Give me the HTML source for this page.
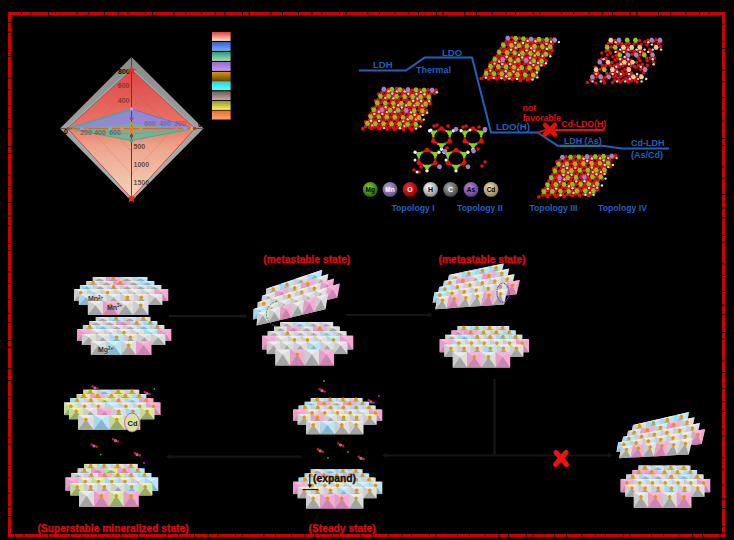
<!DOCTYPE html>
<html><head><meta charset="utf-8"><style>
html,body{margin:0;padding:0;background:#000;width:734px;height:540px;overflow:hidden;font-family:"Liberation Sans",sans-serif;}
svg{display:block}
</style></head><body>
<svg width="734" height="540" viewBox="0 0 734 540"><defs>
<linearGradient id="gRed" x1="0" y1="0" x2="0" y2="1">
 <stop offset="0" stop-color="#e04646"/><stop offset="0.42" stop-color="#e67466"/>
 <stop offset="0.6" stop-color="#eea48c"/><stop offset="1" stop-color="#f4d4bc"/></linearGradient>
<linearGradient id="gGrey" x1="0" y1="0" x2="0" y2="1">
 <stop offset="0" stop-color="#8a8a8a"/><stop offset="1" stop-color="#b4b4b4"/></linearGradient>
<linearGradient id="lg0" x1="0" y1="0" x2="0" y2="1"><stop offset="0" stop-color="#e63e3e"/><stop offset="1" stop-color="#fde4cc"/></linearGradient><linearGradient id="lg1" x1="0" y1="0" x2="0" y2="1"><stop offset="0" stop-color="#2f62d2"/><stop offset="1" stop-color="#80aaf0"/></linearGradient><linearGradient id="lg2" x1="0" y1="0" x2="0" y2="1"><stop offset="0" stop-color="#2f9a6a"/><stop offset="1" stop-color="#a8dcb8"/></linearGradient><linearGradient id="lg3" x1="0" y1="0" x2="0" y2="1"><stop offset="0" stop-color="#9a68d6"/><stop offset="1" stop-color="#c49ae6"/></linearGradient><linearGradient id="lg4" x1="0" y1="0" x2="0" y2="1"><stop offset="0" stop-color="#d09a00"/><stop offset="1" stop-color="#6a4800"/></linearGradient><linearGradient id="lg5" x1="0" y1="0" x2="0" y2="1"><stop offset="0" stop-color="#1cd8d8"/><stop offset="1" stop-color="#66fafa"/></linearGradient><linearGradient id="lg6" x1="0" y1="0" x2="0" y2="1"><stop offset="0" stop-color="#7a5656"/><stop offset="1" stop-color="#c8a8a8"/></linearGradient><linearGradient id="lg7" x1="0" y1="0" x2="0" y2="1"><stop offset="0" stop-color="#9a9a18"/><stop offset="1" stop-color="#f4f46a"/></linearGradient><linearGradient id="lg8" x1="0" y1="0" x2="0" y2="1"><stop offset="0" stop-color="#f06a2a"/><stop offset="1" stop-color="#fca868"/></linearGradient><radialGradient id="bg0" cx="0.4" cy="0.35" r="0.7"><stop offset="0" stop-color="#7ccc2c"/><stop offset="1" stop-color="#2c5a08"/></radialGradient><radialGradient id="bg1" cx="0.4" cy="0.35" r="0.7"><stop offset="0" stop-color="#b0a0d0"/><stop offset="1" stop-color="#5a4a80"/></radialGradient><radialGradient id="bg2" cx="0.4" cy="0.35" r="0.7"><stop offset="0" stop-color="#f03030"/><stop offset="1" stop-color="#800000"/></radialGradient><radialGradient id="bg3" cx="0.4" cy="0.35" r="0.7"><stop offset="0" stop-color="#ffffff"/><stop offset="1" stop-color="#808080"/></radialGradient><radialGradient id="bg4" cx="0.4" cy="0.35" r="0.7"><stop offset="0" stop-color="#a8a8a8"/><stop offset="1" stop-color="#404040"/></radialGradient><radialGradient id="bg5" cx="0.4" cy="0.35" r="0.7"><stop offset="0" stop-color="#b088d8"/><stop offset="1" stop-color="#5a3a80"/></radialGradient><radialGradient id="bg6" cx="0.4" cy="0.35" r="0.7"><stop offset="0" stop-color="#f0dcb0"/><stop offset="1" stop-color="#907850"/></radialGradient></defs><rect x="0" y="0" width="734" height="540" fill="#000"/>
<polygon points="131.5,57 60,128.5 131.5,201 203.5,128.5" fill="url(#gGrey)"/>
<polygon points="131.5,68.2 65.8,128.5 131.5,199.6 196.8,128.5" fill="none" stroke="#78c4c4" stroke-width="1"/>
<polygon points="131.5,70 67.5,128.5 131.5,198 195,128.5" fill="url(#gRed)" stroke="#ec3c3c" stroke-width="1"/>
<polygon points="131.5,109.195 110.545,128.5 131.5,151.435 152.455,128.5" fill="none" stroke="#a04848" stroke-opacity="0.3" stroke-width="0.6"/>
<polygon points="131.5,89.89 89.59,128.5 131.5,174.37 173.41,128.5" fill="none" stroke="#a04848" stroke-opacity="0.3" stroke-width="0.6"/>
<polygon points="131.5,109 68,128.5 131.5,134 194,128.5" fill="#8a8ae2" fill-opacity="0.88" stroke="#5a7ad8" stroke-width="1"/>
<polyline points="68,128.5 131.5,109.5" fill="none" stroke="#38b0a8" stroke-width="1.4"/>
<polygon points="131.5,126 68,128.5 131.5,140.5 194,128.5" fill="#58bc98" fill-opacity="0.7" stroke="#3aa880" stroke-width="0.8"/>
<polygon points="131.5,124 66,128.5 131.5,134 196,128.5" fill="#40d0d0" fill-opacity="0.45"/>
<polygon points="131.5,125 72,128.5 131.5,133 190,128.5" fill="#f08040" fill-opacity="0.45"/>
<line x1="131.5" y1="57" x2="131.5" y2="198" stroke="#6a3434" stroke-width="1"/>
<line x1="60" y1="128.5" x2="203.5" y2="128.5" stroke="#555" stroke-width="1"/>
<line x1="72" y1="128.8" x2="190" y2="128.8" stroke="#e87a30" stroke-width="1.2"/>
<circle cx="131.5" cy="109" r="1.8" fill="#b8a0f0"/>
<circle cx="131.5" cy="118.5" r="1.8" fill="#8a5a5a"/>
<circle cx="131.5" cy="123.5" r="1.8" fill="#90b030"/>
<circle cx="131.5" cy="127.5" r="1.8" fill="#f08030"/>
<circle cx="131.5" cy="131.8" r="1.8" fill="#f08030"/>
<circle cx="131.5" cy="136" r="1.8" fill="#704848"/>
<circle cx="131.5" cy="140.5" r="1.8" fill="#30b070"/>
<circle cx="82" cy="128.5" r="1.8" fill="#b090e0"/>
<circle cx="87" cy="128.5" r="1.8" fill="#f07a30"/>
<circle cx="69" cy="128.5" r="1.8" fill="#30b080"/>
<circle cx="110" cy="128.5" r="1.8" fill="#40d0d0"/>
<circle cx="176" cy="128.5" r="1.8" fill="#f07a30"/>
<circle cx="185" cy="128.5" r="1.8" fill="#b090e0"/>
<circle cx="192" cy="128.5" r="1.8" fill="#e0c020"/>
<circle cx="194.5" cy="128.5" r="1.8" fill="#3070d0"/>
<circle cx="122" cy="128.5" r="1.8" fill="#f09030"/>
<circle cx="141" cy="128.5" r="1.8" fill="#d0a030"/>
<text x="129.8" y="74" font-family="Liberation Sans, sans-serif" font-weight="bold" font-size="7" fill="#000" text-anchor="end">800</text>
<text x="129.5" y="88.3" font-family="Liberation Sans, sans-serif" font-weight="bold" font-size="7" fill="#501818" fill-opacity="0.6" text-anchor="end">600</text>
<text x="129.5" y="102.5" font-family="Liberation Sans, sans-serif" font-weight="bold" font-size="7" fill="#501818" fill-opacity="0.6" text-anchor="end">400</text>
<text x="133.5" y="148.5" font-family="Liberation Sans, sans-serif" font-weight="bold" font-size="7" fill="#000" fill-opacity="0.62">500</text>
<text x="133.5" y="167" font-family="Liberation Sans, sans-serif" font-weight="bold" font-size="7" fill="#000" fill-opacity="0.62">1000</text>
<text x="133.5" y="185" font-family="Liberation Sans, sans-serif" font-weight="bold" font-size="7" fill="#000" fill-opacity="0.62">1500</text>
<text x="86" y="135" font-family="Liberation Sans, sans-serif" font-weight="bold" font-size="7" fill="#3a3030" fill-opacity="0.55" text-anchor="middle">200</text>
<text x="100" y="135" font-family="Liberation Sans, sans-serif" font-weight="bold" font-size="7" fill="#3a3030" fill-opacity="0.55" text-anchor="middle">400</text>
<text x="115" y="135" font-family="Liberation Sans, sans-serif" font-weight="bold" font-size="7" fill="#3a3030" fill-opacity="0.55" text-anchor="middle">600</text>
<text x="150" y="126" font-family="Liberation Sans, sans-serif" font-weight="bold" font-size="7" fill="#4a4a80" fill-opacity="0.5" text-anchor="middle">600</text>
<text x="165" y="126" font-family="Liberation Sans, sans-serif" font-weight="bold" font-size="7" fill="#4a4a80" fill-opacity="0.5" text-anchor="middle">400</text>
<text x="180" y="126" font-family="Liberation Sans, sans-serif" font-weight="bold" font-size="7" fill="#4a4a80" fill-opacity="0.5" text-anchor="middle">200</text>
<text x="66" y="134" font-family="Liberation Sans, sans-serif" font-weight="bold" font-size="7" fill="#000" text-anchor="middle">0</text>
<text x="200" y="127" font-family="Liberation Sans, sans-serif" font-weight="bold" font-size="7" fill="#000" text-anchor="middle">0</text>
<path d="M131.5,65.5 l1.3,3.2 3.4,0.2 -2.6,2.2 0.9,3.3 -3,-1.9 -3,1.9 0.9,-3.3 -2.6,-2.2 3.4,-0.2z" fill="#e82828"/>
<path d="M131.5,193.5 l1.3,3.2 3.4,0.2 -2.6,2.2 0.9,3.3 -3,-1.9 -3,1.9 0.9,-3.3 -2.6,-2.2 3.4,-0.2z" fill="#e82828"/>
<circle cx="68" cy="128.5" r="1.6" fill="#e82828"/><circle cx="195" cy="128.5" r="1.6" fill="#e82828"/>
<rect x="212" y="32" width="18.6" height="8.9" fill="url(#lg0)"/>
<rect x="212" y="42" width="18.6" height="8.9" fill="url(#lg1)"/>
<rect x="212" y="52" width="18.6" height="8.9" fill="url(#lg2)"/>
<rect x="212" y="62" width="18.6" height="8.9" fill="url(#lg3)"/>
<rect x="212" y="72" width="18.6" height="8.9" fill="url(#lg4)"/>
<rect x="212" y="81.2" width="18.6" height="8.9" fill="url(#lg5)"/>
<rect x="212" y="91.2" width="18.6" height="8.9" fill="url(#lg6)"/>
<rect x="212" y="101" width="18.6" height="8.9" fill="url(#lg7)"/>
<rect x="212" y="110.6" width="18.6" height="8.9" fill="url(#lg8)"/>
<polyline points="359,70.5 406,70.5 424.6,57.6 472,57.6 491,132.5 537.5,132.5 557.5,145.7 602,145.7 622,148.6 669,148.6" fill="none" stroke="#2260be" stroke-width="2" stroke-linejoin="round"/>
<polyline points="537.5,132.5 546,130 603,130 604,127.5" fill="none" stroke="#e01010" stroke-width="1.8"/>
<line x1="560" y1="146" x2="600" y2="146" stroke="#2a8a7a" stroke-width="1"/>
<text x="373" y="67.8" font-family="Liberation Sans, sans-serif" font-weight="bold" font-size="9.5" fill="#2260be">LDH</text>
<text x="442" y="55.5" font-family="Liberation Sans, sans-serif" font-weight="bold" font-size="9.5" fill="#2260be">LDO</text>
<text x="416" y="73" font-family="Liberation Sans, sans-serif" font-weight="bold" font-size="9" fill="#2260be">Thermal</text>
<text x="496" y="130" font-family="Liberation Sans, sans-serif" font-weight="bold" font-size="9.7" fill="#2260be">LDO(H)</text>
<text x="564" y="143.6" font-family="Liberation Sans, sans-serif" font-weight="bold" font-size="8.8" fill="#2260be">LDH (As)</text>
<text x="631" y="146" font-family="Liberation Sans, sans-serif" font-weight="bold" font-size="9" fill="#2260be">Cd-LDH</text>
<text x="631" y="158" font-family="Liberation Sans, sans-serif" font-weight="bold" font-size="9" fill="#2260be">(As/Cd)</text>
<text x="522.5" y="111" font-family="Liberation Sans, sans-serif" font-weight="bold" font-size="8.8" fill="#e01010">not</text>
<text x="522.5" y="120.5" font-family="Liberation Sans, sans-serif" font-weight="bold" font-size="8.6" fill="#e01010">favorable</text>
<text x="561.3" y="126.6" font-family="Liberation Sans, sans-serif" font-weight="bold" font-size="8.7" fill="#e01010">Cd-LDO(H)</text>
<path d="M545,125 L555,134.5 M555,125 L545,134.5" stroke="#e41010" stroke-width="4.6" stroke-linecap="round"/>
<circle cx="370.3" cy="189.4" r="7.4" fill="url(#bg0)"/>
<text x="370.3" y="191.8" font-family="Liberation Sans, sans-serif" font-weight="bold" font-size="6.5" fill="#000" text-anchor="middle">Mg</text>
<circle cx="390" cy="189.4" r="7.4" fill="url(#bg1)"/>
<text x="390" y="191.8" font-family="Liberation Sans, sans-serif" font-weight="bold" font-size="6.5" fill="#fff" text-anchor="middle">Mn</text>
<circle cx="410" cy="189.4" r="7.4" fill="url(#bg2)"/>
<text x="410" y="191.8" font-family="Liberation Sans, sans-serif" font-weight="bold" font-size="7" fill="#fff" text-anchor="middle">O</text>
<circle cx="430.6" cy="189.4" r="7.4" fill="url(#bg3)"/>
<text x="430.6" y="191.8" font-family="Liberation Sans, sans-serif" font-weight="bold" font-size="7" fill="#000" text-anchor="middle">H</text>
<circle cx="450.6" cy="189.4" r="7.4" fill="url(#bg4)"/>
<text x="450.6" y="191.8" font-family="Liberation Sans, sans-serif" font-weight="bold" font-size="7" fill="#fff" text-anchor="middle">C</text>
<circle cx="471" cy="189.4" r="7.4" fill="url(#bg5)"/>
<text x="471" y="191.8" font-family="Liberation Sans, sans-serif" font-weight="bold" font-size="6.5" fill="#000" text-anchor="middle">As</text>
<circle cx="491" cy="189.4" r="7.4" fill="url(#bg6)"/>
<text x="491" y="191.8" font-family="Liberation Sans, sans-serif" font-weight="bold" font-size="6.5" fill="#000" text-anchor="middle">Cd</text>
<text x="391.4" y="210.5" font-family="Liberation Sans, sans-serif" font-weight="bold" font-size="8.7" fill="#2260be">Topology I</text>
<text x="457" y="210.5" font-family="Liberation Sans, sans-serif" font-weight="bold" font-size="8.7" fill="#2260be">Topology II</text>
<text x="529.4" y="210.5" font-family="Liberation Sans, sans-serif" font-weight="bold" font-size="8.7" fill="#2260be">Topology III</text>
<text x="598" y="210.5" font-family="Liberation Sans, sans-serif" font-weight="bold" font-size="8.7" fill="#2260be">Topology IV</text>
<circle cx="388.2" cy="89.4" r="1.85" fill="#e01010"/><circle cx="382.1" cy="92.4" r="1.85" fill="#e01010"/><circle cx="386.5" cy="92" r="1.85" fill="#e01010"/><circle cx="385.4" cy="90.7" r="1.85" fill="#e01010"/><circle cx="378.7" cy="94" r="1.85" fill="#e01010"/><circle cx="396.4" cy="88.7" r="1.85" fill="#e01010"/><circle cx="390.3" cy="93.1" r="1.85" fill="#e01010"/><circle cx="393.9" cy="92.6" r="1.85" fill="#e01010"/><circle cx="392.7" cy="90.9" r="1.85" fill="#e01010"/><circle cx="387" cy="94" r="1.85" fill="#e01010"/><circle cx="403.4" cy="89.8" r="1.85" fill="#e01010"/><circle cx="398.4" cy="92.4" r="1.85" fill="#e01010"/><circle cx="402.7" cy="92.4" r="1.85" fill="#e01010"/><circle cx="401.4" cy="91.4" r="1.85" fill="#e01010"/><circle cx="395.3" cy="94.8" r="1.85" fill="#e01010"/><circle cx="412.4" cy="90" r="1.85" fill="#e01010"/><circle cx="406.4" cy="92.4" r="1.85" fill="#e01010"/><circle cx="410.7" cy="92.9" r="1.85" fill="#e01010"/><circle cx="409.2" cy="91.5" r="1.85" fill="#e01010"/><circle cx="403.3" cy="94.5" r="1.85" fill="#e01010"/><circle cx="419.9" cy="89.8" r="1.85" fill="#e01010"/><circle cx="413.8" cy="93.4" r="1.85" fill="#e01010"/><circle cx="418.5" cy="93.1" r="1.85" fill="#e01010"/><circle cx="417.2" cy="92" r="1.85" fill="#e01010"/><circle cx="411.6" cy="95.2" r="1.85" fill="#e01010"/><circle cx="428.2" cy="89.9" r="1.85" fill="#e01010"/><circle cx="422.5" cy="93.8" r="1.85" fill="#e01010"/><circle cx="426.8" cy="93.8" r="1.85" fill="#e01010"/><circle cx="425.6" cy="92" r="1.85" fill="#e01010"/><circle cx="419.7" cy="94.9" r="1.85" fill="#e01010"/><circle cx="436.2" cy="90.1" r="1.85" fill="#e01010"/><circle cx="430.3" cy="93.5" r="1.85" fill="#e01010"/><circle cx="434.5" cy="93" r="1.85" fill="#e01010"/><circle cx="432.9" cy="91.9" r="1.85" fill="#e01010"/><circle cx="428" cy="95.5" r="1.85" fill="#e01010"/><circle cx="384.7" cy="95.4" r="1.85" fill="#e01010"/><circle cx="378.3" cy="99.6" r="1.85" fill="#e01010"/><circle cx="382.4" cy="99.5" r="1.85" fill="#e01010"/><circle cx="381.2" cy="97.2" r="1.85" fill="#e01010"/><circle cx="375.6" cy="100.7" r="1.85" fill="#e01010"/><circle cx="392.6" cy="95.5" r="1.85" fill="#e01010"/><circle cx="386.8" cy="99.1" r="1.85" fill="#e01010"/><circle cx="391.4" cy="99.6" r="1.85" fill="#e01010"/><circle cx="389.9" cy="98.2" r="1.85" fill="#e01010"/><circle cx="383.5" cy="100.7" r="1.85" fill="#e01010"/><circle cx="400.9" cy="96.3" r="1.85" fill="#e01010"/><circle cx="395.5" cy="100" r="1.85" fill="#e01010"/><circle cx="398.7" cy="99.9" r="1.85" fill="#e01010"/><circle cx="397.9" cy="97.7" r="1.85" fill="#e01010"/><circle cx="391.6" cy="101.1" r="1.85" fill="#e01010"/><circle cx="409.1" cy="96.2" r="1.85" fill="#e01010"/><circle cx="403.3" cy="99.7" r="1.85" fill="#e01010"/><circle cx="406.5" cy="100.3" r="1.85" fill="#e01010"/><circle cx="406.3" cy="98.7" r="1.85" fill="#e01010"/><circle cx="399.8" cy="101.9" r="1.85" fill="#e01010"/><circle cx="416.6" cy="96.4" r="1.85" fill="#e01010"/><circle cx="411.3" cy="99.9" r="1.85" fill="#e01010"/><circle cx="414.6" cy="100.3" r="1.85" fill="#e01010"/><circle cx="413.9" cy="98.1" r="1.85" fill="#e01010"/><circle cx="408.7" cy="101.1" r="1.85" fill="#e01010"/><circle cx="425.2" cy="96.6" r="1.85" fill="#e01010"/><circle cx="419.4" cy="100.5" r="1.85" fill="#e01010"/><circle cx="423" cy="100.7" r="1.85" fill="#e01010"/><circle cx="422" cy="99.1" r="1.85" fill="#e01010"/><circle cx="416.6" cy="101.3" r="1.85" fill="#e01010"/><circle cx="427.3" cy="100.7" r="1.85" fill="#e01010"/><circle cx="429.8" cy="99.1" r="1.85" fill="#e01010"/><circle cx="424.9" cy="102.4" r="1.85" fill="#e01010"/><circle cx="380.7" cy="102.3" r="1.85" fill="#e01010"/><circle cx="375.9" cy="106.5" r="1.85" fill="#e01010"/><circle cx="379.7" cy="106.6" r="1.85" fill="#e01010"/><circle cx="378.5" cy="104.1" r="1.85" fill="#e01010"/><circle cx="372.5" cy="108.3" r="1.85" fill="#e01010"/><circle cx="389" cy="103.3" r="1.85" fill="#e01010"/><circle cx="383.1" cy="106.5" r="1.85" fill="#e01010"/><circle cx="387.2" cy="106.9" r="1.85" fill="#e01010"/><circle cx="386.2" cy="105.2" r="1.85" fill="#e01010"/><circle cx="380.3" cy="107.6" r="1.85" fill="#e01010"/><circle cx="397.9" cy="103" r="1.85" fill="#e01010"/><circle cx="392.2" cy="106.2" r="1.85" fill="#e01010"/><circle cx="395.7" cy="106.1" r="1.85" fill="#e01010"/><circle cx="394" cy="104.2" r="1.85" fill="#e01010"/><circle cx="388.6" cy="108.3" r="1.85" fill="#e01010"/><circle cx="405.9" cy="103.9" r="1.85" fill="#e01010"/><circle cx="399.3" cy="106.3" r="1.85" fill="#e01010"/><circle cx="404.4" cy="106.8" r="1.85" fill="#e01010"/><circle cx="402.8" cy="104.7" r="1.85" fill="#e01010"/><circle cx="396.7" cy="108" r="1.85" fill="#e01010"/><circle cx="413.4" cy="103.7" r="1.85" fill="#e01010"/><circle cx="408.3" cy="106.7" r="1.85" fill="#e01010"/><circle cx="411.6" cy="106.7" r="1.85" fill="#e01010"/><circle cx="411.1" cy="104.9" r="1.85" fill="#e01010"/><circle cx="405" cy="108.6" r="1.85" fill="#e01010"/><circle cx="421.2" cy="103.1" r="1.85" fill="#e01010"/><circle cx="415.3" cy="106.5" r="1.85" fill="#e01010"/><circle cx="419.6" cy="107.4" r="1.85" fill="#e01010"/><circle cx="419.1" cy="104.9" r="1.85" fill="#e01010"/><circle cx="413.4" cy="108.2" r="1.85" fill="#e01010"/><circle cx="430" cy="103.6" r="1.85" fill="#e01010"/><circle cx="423.9" cy="107.7" r="1.85" fill="#e01010"/><circle cx="426.3" cy="106" r="1.85" fill="#e01010"/><circle cx="420.9" cy="109.3" r="1.85" fill="#e01010"/><circle cx="378.3" cy="109.9" r="1.85" fill="#e01010"/><circle cx="372.2" cy="112.6" r="1.85" fill="#e01010"/><circle cx="376.5" cy="112.8" r="1.85" fill="#e01010"/><circle cx="375.7" cy="111.7" r="1.85" fill="#e01010"/><circle cx="369.5" cy="115.1" r="1.85" fill="#e01010"/><circle cx="385.7" cy="109.2" r="1.85" fill="#e01010"/><circle cx="380.3" cy="113.2" r="1.85" fill="#e01010"/><circle cx="384.2" cy="112.8" r="1.85" fill="#e01010"/><circle cx="382.9" cy="111.9" r="1.85" fill="#e01010"/><circle cx="377.4" cy="115" r="1.85" fill="#e01010"/><circle cx="394.1" cy="110.2" r="1.85" fill="#e01010"/><circle cx="388.6" cy="113.6" r="1.85" fill="#e01010"/><circle cx="392.4" cy="113.4" r="1.85" fill="#e01010"/><circle cx="391.1" cy="111.7" r="1.85" fill="#e01010"/><circle cx="386.1" cy="114.7" r="1.85" fill="#e01010"/><circle cx="402.2" cy="110.6" r="1.85" fill="#e01010"/><circle cx="396.8" cy="114" r="1.85" fill="#e01010"/><circle cx="400.7" cy="114" r="1.85" fill="#e01010"/><circle cx="399.5" cy="112.1" r="1.85" fill="#e01010"/><circle cx="394.1" cy="115.6" r="1.85" fill="#e01010"/><circle cx="409.9" cy="110" r="1.85" fill="#e01010"/><circle cx="404.8" cy="113.1" r="1.85" fill="#e01010"/><circle cx="408.8" cy="113.6" r="1.85" fill="#e01010"/><circle cx="407" cy="112.3" r="1.85" fill="#e01010"/><circle cx="402.3" cy="115.7" r="1.85" fill="#e01010"/><circle cx="418.8" cy="110.1" r="1.85" fill="#e01010"/><circle cx="413" cy="114" r="1.85" fill="#e01010"/><circle cx="416.5" cy="114.4" r="1.85" fill="#e01010"/><circle cx="415.3" cy="112.5" r="1.85" fill="#e01010"/><circle cx="409.3" cy="115.3" r="1.85" fill="#e01010"/><circle cx="426.4" cy="110.6" r="1.85" fill="#e01010"/><circle cx="420.4" cy="113.7" r="1.85" fill="#e01010"/><circle cx="424.3" cy="114" r="1.85" fill="#e01010"/><circle cx="423.6" cy="112.5" r="1.85" fill="#e01010"/><circle cx="417.5" cy="115.4" r="1.85" fill="#e01010"/><circle cx="374.4" cy="116.7" r="1.85" fill="#e01010"/><circle cx="369.4" cy="120.4" r="1.85" fill="#e01010"/><circle cx="373" cy="120.3" r="1.85" fill="#e01010"/><circle cx="371.9" cy="118" r="1.85" fill="#e01010"/><circle cx="365.7" cy="121.9" r="1.85" fill="#e01010"/><circle cx="383.3" cy="117" r="1.85" fill="#e01010"/><circle cx="376.6" cy="120" r="1.85" fill="#e01010"/><circle cx="380.9" cy="120.1" r="1.85" fill="#e01010"/><circle cx="379.9" cy="117.7" r="1.85" fill="#e01010"/><circle cx="374.2" cy="121.4" r="1.85" fill="#e01010"/><circle cx="390.8" cy="117" r="1.85" fill="#e01010"/><circle cx="384.8" cy="119.6" r="1.85" fill="#e01010"/><circle cx="389.3" cy="120.7" r="1.85" fill="#e01010"/><circle cx="388" cy="119.1" r="1.85" fill="#e01010"/><circle cx="382.7" cy="121.7" r="1.85" fill="#e01010"/><circle cx="398.5" cy="117.2" r="1.85" fill="#e01010"/><circle cx="393" cy="119.8" r="1.85" fill="#e01010"/><circle cx="397.1" cy="120.3" r="1.85" fill="#e01010"/><circle cx="396.1" cy="119" r="1.85" fill="#e01010"/><circle cx="390.6" cy="122" r="1.85" fill="#e01010"/><circle cx="407.1" cy="117.1" r="1.85" fill="#e01010"/><circle cx="401.4" cy="121" r="1.85" fill="#e01010"/><circle cx="405.7" cy="120.9" r="1.85" fill="#e01010"/><circle cx="404.2" cy="118.7" r="1.85" fill="#e01010"/><circle cx="398.7" cy="122.6" r="1.85" fill="#e01010"/><circle cx="414.9" cy="117.3" r="1.85" fill="#e01010"/><circle cx="409.3" cy="121" r="1.85" fill="#e01010"/><circle cx="413.2" cy="121" r="1.85" fill="#e01010"/><circle cx="412.1" cy="119.6" r="1.85" fill="#e01010"/><circle cx="406.3" cy="122.6" r="1.85" fill="#e01010"/><circle cx="417.1" cy="120.4" r="1.85" fill="#e01010"/><circle cx="421.2" cy="121" r="1.85" fill="#e01010"/><circle cx="419.8" cy="119.4" r="1.85" fill="#e01010"/><circle cx="414.9" cy="122.3" r="1.85" fill="#e01010"/><circle cx="371" cy="123.7" r="1.85" fill="#e01010"/><circle cx="365.5" cy="126.4" r="1.85" fill="#e01010"/><circle cx="370" cy="127.2" r="1.85" fill="#e01010"/><circle cx="369" cy="125.2" r="1.85" fill="#e01010"/><circle cx="362.8" cy="128.7" r="1.85" fill="#e01010"/><circle cx="379.1" cy="124.1" r="1.85" fill="#e01010"/><circle cx="374.3" cy="127.1" r="1.85" fill="#e01010"/><circle cx="377.5" cy="127" r="1.85" fill="#e01010"/><circle cx="376.2" cy="125.4" r="1.85" fill="#e01010"/><circle cx="371.3" cy="128.2" r="1.85" fill="#e01010"/><circle cx="387" cy="123.6" r="1.85" fill="#e01010"/><circle cx="381.4" cy="126.7" r="1.85" fill="#e01010"/><circle cx="386" cy="127.6" r="1.85" fill="#e01010"/><circle cx="384.1" cy="125.6" r="1.85" fill="#e01010"/><circle cx="379.6" cy="128.8" r="1.85" fill="#e01010"/><circle cx="395.8" cy="123.4" r="1.85" fill="#e01010"/><circle cx="389.9" cy="127.1" r="1.85" fill="#e01010"/><circle cx="393.6" cy="127.7" r="1.85" fill="#e01010"/><circle cx="392.8" cy="125.2" r="1.85" fill="#e01010"/><circle cx="386.9" cy="129" r="1.85" fill="#e01010"/><circle cx="404" cy="124.5" r="1.85" fill="#e01010"/><circle cx="397.8" cy="127.5" r="1.85" fill="#e01010"/><circle cx="401.9" cy="127.9" r="1.85" fill="#e01010"/><circle cx="400.4" cy="126.2" r="1.85" fill="#e01010"/><circle cx="394.7" cy="129.2" r="1.85" fill="#e01010"/><circle cx="411.6" cy="124.6" r="1.85" fill="#e01010"/><circle cx="405.5" cy="127" r="1.85" fill="#e01010"/><circle cx="409.5" cy="127.4" r="1.85" fill="#e01010"/><circle cx="408.4" cy="125.3" r="1.85" fill="#e01010"/><circle cx="403.5" cy="129.4" r="1.85" fill="#e01010"/><circle cx="414.6" cy="127.9" r="1.85" fill="#e01010"/><circle cx="417.4" cy="126.2" r="1.85" fill="#e01010"/><circle cx="411.4" cy="129.5" r="1.85" fill="#e01010"/><circle cx="388.6" cy="91.2" r="1.2" fill="#e8e4e4"/><circle cx="392.2" cy="93.5" r="1.2" fill="#e8e4e4"/><circle cx="396.7" cy="91.4" r="1.2" fill="#e8e4e4"/><circle cx="404.7" cy="91.5" r="1.2" fill="#e8e4e4"/><circle cx="408.3" cy="93.8" r="1.2" fill="#e8e4e4"/><circle cx="416.4" cy="94" r="1.2" fill="#e8e4e4"/><circle cx="420.8" cy="91.9" r="1.2" fill="#e8e4e4"/><circle cx="424.5" cy="94.2" r="1.2" fill="#e8e4e4"/><circle cx="436.9" cy="92.2" r="1.2" fill="#e8e4e4"/><circle cx="385.3" cy="98" r="1.2" fill="#e8e4e4"/><circle cx="393.4" cy="98.2" r="1.2" fill="#e8e4e4"/><circle cx="413.1" cy="100.8" r="1.2" fill="#e8e4e4"/><circle cx="417.5" cy="98.7" r="1.2" fill="#e8e4e4"/><circle cx="421.2" cy="101" r="1.2" fill="#e8e4e4"/><circle cx="429.2" cy="101.2" r="1.2" fill="#e8e4e4"/><circle cx="385.7" cy="107.2" r="1.2" fill="#e8e4e4"/><circle cx="393.7" cy="107.4" r="1.2" fill="#e8e4e4"/><circle cx="398.2" cy="105.2" r="1.2" fill="#e8e4e4"/><circle cx="401.8" cy="107.5" r="1.2" fill="#e8e4e4"/><circle cx="406.2" cy="105.4" r="1.2" fill="#e8e4e4"/><circle cx="414.3" cy="105.6" r="1.2" fill="#e8e4e4"/><circle cx="422.3" cy="105.7" r="1.2" fill="#e8e4e4"/><circle cx="374.3" cy="113.9" r="1.2" fill="#e8e4e4"/><circle cx="378.8" cy="111.7" r="1.2" fill="#e8e4e4"/><circle cx="382.4" cy="114" r="1.2" fill="#e8e4e4"/><circle cx="386.8" cy="111.9" r="1.2" fill="#e8e4e4"/><circle cx="394.9" cy="112.1" r="1.2" fill="#e8e4e4"/><circle cx="411" cy="112.4" r="1.2" fill="#e8e4e4"/><circle cx="414.6" cy="114.7" r="1.2" fill="#e8e4e4"/><circle cx="422.7" cy="114.9" r="1.2" fill="#e8e4e4"/><circle cx="427.1" cy="112.8" r="1.2" fill="#e8e4e4"/><circle cx="371" cy="120.7" r="1.2" fill="#e8e4e4"/><circle cx="379.1" cy="120.9" r="1.2" fill="#e8e4e4"/><circle cx="403.3" cy="121.4" r="1.2" fill="#e8e4e4"/><circle cx="407.7" cy="119.3" r="1.2" fill="#e8e4e4"/><circle cx="415.8" cy="119.4" r="1.2" fill="#e8e4e4"/><circle cx="423.8" cy="119.6" r="1.2" fill="#e8e4e4"/><circle cx="372.2" cy="125.4" r="1.2" fill="#e8e4e4"/><circle cx="383.9" cy="127.9" r="1.2" fill="#e8e4e4"/><circle cx="400" cy="128.2" r="1.2" fill="#e8e4e4"/><circle cx="404.4" cy="126.1" r="1.2" fill="#e8e4e4"/><circle cx="416.1" cy="128.6" r="1.2" fill="#e8e4e4"/><circle cx="420.5" cy="126.5" r="1.2" fill="#e8e4e4"/><path d="M381.2,89.2 l1.3,-2.4 2.6,0 1.3,2.4 -1.3,2.3 -2.6,0z" fill="#9a86c0"/><path d="M389.2,89.4 l1.3,-2.4 2.6,0 1.3,2.4 -1.3,2.3 -2.6,0z" fill="#80c81e"/><path d="M397.3,89.6 l1.3,-2.4 2.6,0 1.3,2.4 -1.3,2.3 -2.6,0z" fill="#80c81e"/><path d="M405.4,89.7 l1.3,-2.4 2.6,0 1.3,2.4 -1.3,2.3 -2.6,0z" fill="#9a86c0"/><path d="M413.4,89.9 l1.3,-2.4 2.6,0 1.3,2.4 -1.3,2.3 -2.6,0z" fill="#80c81e"/><path d="M421.5,90.1 l1.3,-2.4 2.6,0 1.3,2.4 -1.3,2.3 -2.6,0z" fill="#80c81e"/><path d="M429.5,90.2 l1.3,-2.4 2.6,0 1.3,2.4 -1.3,2.3 -2.6,0z" fill="#9a86c0"/><path d="M377.9,96.1 l1.3,-2.4 2.6,0 1.3,2.4 -1.3,2.3 -2.6,0z" fill="#80c81e"/><path d="M386,96.2 l1.3,-2.4 2.6,0 1.3,2.4 -1.3,2.3 -2.6,0z" fill="#80c81e"/><path d="M394,96.4 l1.3,-2.4 2.6,0 1.3,2.4 -1.3,2.3 -2.6,0z" fill="#80c81e"/><path d="M402.1,96.6 l1.3,-2.4 2.6,0 1.3,2.4 -1.3,2.3 -2.6,0z" fill="#80c81e"/><path d="M410.1,96.7 l1.3,-2.4 2.6,0 1.3,2.4 -1.3,2.3 -2.6,0z" fill="#80c81e"/><path d="M418.2,96.9 l1.3,-2.4 2.6,0 1.3,2.4 -1.3,2.3 -2.6,0z" fill="#80c81e"/><path d="M426.2,97.1 l1.3,-2.4 2.6,0 1.3,2.4 -1.3,2.3 -2.6,0z" fill="#80c81e"/><path d="M374.6,102.9 l1.3,-2.4 2.6,0 1.3,2.4 -1.3,2.3 -2.6,0z" fill="#80c81e"/><path d="M382.7,103.1 l1.3,-2.4 2.6,0 1.3,2.4 -1.3,2.3 -2.6,0z" fill="#80c81e"/><path d="M390.7,103.3 l1.3,-2.4 2.6,0 1.3,2.4 -1.3,2.3 -2.6,0z" fill="#80c81e"/><path d="M398.8,103.4 l1.3,-2.4 2.6,0 1.3,2.4 -1.3,2.3 -2.6,0z" fill="#80c81e"/><path d="M406.8,103.6 l1.3,-2.4 2.6,0 1.3,2.4 -1.3,2.3 -2.6,0z" fill="#80c81e"/><path d="M414.9,103.8 l1.3,-2.4 2.6,0 1.3,2.4 -1.3,2.3 -2.6,0z" fill="#80c81e"/><path d="M423,103.9 l1.3,-2.4 2.6,0 1.3,2.4 -1.3,2.3 -2.6,0z" fill="#80c81e"/><path d="M371.3,109.8 l1.3,-2.4 2.6,0 1.3,2.4 -1.3,2.3 -2.6,0z" fill="#80c81e"/><path d="M379.4,109.9 l1.3,-2.4 2.6,0 1.3,2.4 -1.3,2.3 -2.6,0z" fill="#9a86c0"/><path d="M387.5,110.1 l1.3,-2.4 2.6,0 1.3,2.4 -1.3,2.3 -2.6,0z" fill="#80c81e"/><path d="M395.5,110.3 l1.3,-2.4 2.6,0 1.3,2.4 -1.3,2.3 -2.6,0z" fill="#80c81e"/><path d="M403.6,110.4 l1.3,-2.4 2.6,0 1.3,2.4 -1.3,2.3 -2.6,0z" fill="#9a86c0"/><path d="M411.6,110.6 l1.3,-2.4 2.6,0 1.3,2.4 -1.3,2.3 -2.6,0z" fill="#80c81e"/><path d="M419.7,110.8 l1.3,-2.4 2.6,0 1.3,2.4 -1.3,2.3 -2.6,0z" fill="#80c81e"/><path d="M368.1,116.6 l1.3,-2.4 2.6,0 1.3,2.4 -1.3,2.3 -2.6,0z" fill="#80c81e"/><path d="M376.1,116.8 l1.3,-2.4 2.6,0 1.3,2.4 -1.3,2.3 -2.6,0z" fill="#80c81e"/><path d="M384.2,117 l1.3,-2.4 2.6,0 1.3,2.4 -1.3,2.3 -2.6,0z" fill="#80c81e"/><path d="M392.2,117.1 l1.3,-2.4 2.6,0 1.3,2.4 -1.3,2.3 -2.6,0z" fill="#80c81e"/><path d="M400.3,117.3 l1.3,-2.4 2.6,0 1.3,2.4 -1.3,2.3 -2.6,0z" fill="#80c81e"/><path d="M408.3,117.5 l1.3,-2.4 2.6,0 1.3,2.4 -1.3,2.3 -2.6,0z" fill="#80c81e"/><path d="M416.4,117.6 l1.3,-2.4 2.6,0 1.3,2.4 -1.3,2.3 -2.6,0z" fill="#80c81e"/><path d="M364.8,123.5 l1.3,-2.4 2.6,0 1.3,2.4 -1.3,2.3 -2.6,0z" fill="#80c81e"/><path d="M372.8,123.6 l1.3,-2.4 2.6,0 1.3,2.4 -1.3,2.3 -2.6,0z" fill="#80c81e"/><path d="M380.9,123.8 l1.3,-2.4 2.6,0 1.3,2.4 -1.3,2.3 -2.6,0z" fill="#80c81e"/><path d="M388.9,124 l1.3,-2.4 2.6,0 1.3,2.4 -1.3,2.3 -2.6,0z" fill="#80c81e"/><path d="M397,124.1 l1.3,-2.4 2.6,0 1.3,2.4 -1.3,2.3 -2.6,0z" fill="#80c81e"/><path d="M405.1,124.3 l1.3,-2.4 2.6,0 1.3,2.4 -1.3,2.3 -2.6,0z" fill="#80c81e"/><path d="M413.1,124.5 l1.3,-2.4 2.6,0 1.3,2.4 -1.3,2.3 -2.6,0z" fill="#80c81e"/>
<circle cx="512.2" cy="37.6" r="1.85" fill="#e01010"/><circle cx="506" cy="41.8" r="1.85" fill="#e01010"/><circle cx="509.3" cy="41.8" r="1.85" fill="#e01010"/><circle cx="508.7" cy="39.4" r="1.85" fill="#e01010"/><circle cx="502.4" cy="43.5" r="1.85" fill="#e01010"/><circle cx="519.4" cy="38.1" r="1.85" fill="#e01010"/><circle cx="512.8" cy="41.8" r="1.85" fill="#e01010"/><circle cx="517.2" cy="42.4" r="1.85" fill="#e01010"/><circle cx="516.5" cy="39.8" r="1.85" fill="#e01010"/><circle cx="510.2" cy="43.1" r="1.85" fill="#e01010"/><circle cx="526.9" cy="39.2" r="1.85" fill="#e01010"/><circle cx="521.5" cy="42.6" r="1.85" fill="#e01010"/><circle cx="525.4" cy="42.1" r="1.85" fill="#e01010"/><circle cx="524.8" cy="40" r="1.85" fill="#e01010"/><circle cx="518.4" cy="43.7" r="1.85" fill="#e01010"/><circle cx="535.1" cy="39.4" r="1.85" fill="#e01010"/><circle cx="529.5" cy="42.9" r="1.85" fill="#e01010"/><circle cx="533" cy="43.1" r="1.85" fill="#e01010"/><circle cx="532" cy="40.4" r="1.85" fill="#e01010"/><circle cx="526.2" cy="43.7" r="1.85" fill="#e01010"/><circle cx="542.6" cy="39.9" r="1.85" fill="#e01010"/><circle cx="536.8" cy="42.7" r="1.85" fill="#e01010"/><circle cx="540.8" cy="42.6" r="1.85" fill="#e01010"/><circle cx="539.8" cy="41.5" r="1.85" fill="#e01010"/><circle cx="533.3" cy="44.8" r="1.85" fill="#e01010"/><circle cx="550.9" cy="39.1" r="1.85" fill="#e01010"/><circle cx="544.3" cy="42.7" r="1.85" fill="#e01010"/><circle cx="548" cy="43.2" r="1.85" fill="#e01010"/><circle cx="547.3" cy="41" r="1.85" fill="#e01010"/><circle cx="541.5" cy="44.9" r="1.85" fill="#e01010"/><circle cx="551.9" cy="43.8" r="1.85" fill="#e01010"/><circle cx="554.9" cy="41.3" r="1.85" fill="#e01010"/><circle cx="549" cy="44.6" r="1.85" fill="#e01010"/><circle cx="507.9" cy="44.8" r="1.85" fill="#e01010"/><circle cx="501.1" cy="48.7" r="1.85" fill="#e01010"/><circle cx="504.7" cy="48.5" r="1.85" fill="#e01010"/><circle cx="504.3" cy="47.2" r="1.85" fill="#e01010"/><circle cx="498.8" cy="50.5" r="1.85" fill="#e01010"/><circle cx="514.8" cy="45.7" r="1.85" fill="#e01010"/><circle cx="508.6" cy="48.8" r="1.85" fill="#e01010"/><circle cx="512.6" cy="49.1" r="1.85" fill="#e01010"/><circle cx="512.1" cy="46.7" r="1.85" fill="#e01010"/><circle cx="505.8" cy="50.7" r="1.85" fill="#e01010"/><circle cx="522.5" cy="45.2" r="1.85" fill="#e01010"/><circle cx="516.5" cy="48.7" r="1.85" fill="#e01010"/><circle cx="520.8" cy="49.9" r="1.85" fill="#e01010"/><circle cx="520.5" cy="47.1" r="1.85" fill="#e01010"/><circle cx="513.6" cy="50.9" r="1.85" fill="#e01010"/><circle cx="530.5" cy="46" r="1.85" fill="#e01010"/><circle cx="524.1" cy="48.9" r="1.85" fill="#e01010"/><circle cx="528.1" cy="49.9" r="1.85" fill="#e01010"/><circle cx="527.2" cy="47.4" r="1.85" fill="#e01010"/><circle cx="521.3" cy="51.2" r="1.85" fill="#e01010"/><circle cx="538.2" cy="46.9" r="1.85" fill="#e01010"/><circle cx="532.8" cy="49.7" r="1.85" fill="#e01010"/><circle cx="536.5" cy="49.4" r="1.85" fill="#e01010"/><circle cx="535.6" cy="47.7" r="1.85" fill="#e01010"/><circle cx="529.8" cy="51.3" r="1.85" fill="#e01010"/><circle cx="546.1" cy="47.3" r="1.85" fill="#e01010"/><circle cx="539.7" cy="50.3" r="1.85" fill="#e01010"/><circle cx="544" cy="50.6" r="1.85" fill="#e01010"/><circle cx="542.7" cy="48.3" r="1.85" fill="#e01010"/><circle cx="537.3" cy="51.4" r="1.85" fill="#e01010"/><circle cx="548.6" cy="49.8" r="1.85" fill="#e01010"/><circle cx="552.1" cy="50.4" r="1.85" fill="#e01010"/><circle cx="551.4" cy="48.5" r="1.85" fill="#e01010"/><circle cx="544.6" cy="51.5" r="1.85" fill="#e01010"/><circle cx="503.3" cy="51.7" r="1.85" fill="#e01010"/><circle cx="497.3" cy="55.9" r="1.85" fill="#e01010"/><circle cx="500.7" cy="55.7" r="1.85" fill="#e01010"/><circle cx="499.7" cy="53.9" r="1.85" fill="#e01010"/><circle cx="494.5" cy="57.7" r="1.85" fill="#e01010"/><circle cx="510.5" cy="52.5" r="1.85" fill="#e01010"/><circle cx="504.7" cy="56.1" r="1.85" fill="#e01010"/><circle cx="508.8" cy="56.4" r="1.85" fill="#e01010"/><circle cx="507.7" cy="54.8" r="1.85" fill="#e01010"/><circle cx="501.7" cy="57.1" r="1.85" fill="#e01010"/><circle cx="518.8" cy="52.4" r="1.85" fill="#e01010"/><circle cx="512.3" cy="56.4" r="1.85" fill="#e01010"/><circle cx="516.4" cy="56.4" r="1.85" fill="#e01010"/><circle cx="515.7" cy="55.1" r="1.85" fill="#e01010"/><circle cx="509.1" cy="57.9" r="1.85" fill="#e01010"/><circle cx="526.4" cy="53.4" r="1.85" fill="#e01010"/><circle cx="521" cy="56.8" r="1.85" fill="#e01010"/><circle cx="523.9" cy="56.6" r="1.85" fill="#e01010"/><circle cx="523.5" cy="55.3" r="1.85" fill="#e01010"/><circle cx="517.4" cy="58.2" r="1.85" fill="#e01010"/><circle cx="534.5" cy="53.4" r="1.85" fill="#e01010"/><circle cx="528" cy="57.1" r="1.85" fill="#e01010"/><circle cx="532.4" cy="57.4" r="1.85" fill="#e01010"/><circle cx="531.4" cy="55" r="1.85" fill="#e01010"/><circle cx="525.7" cy="58.6" r="1.85" fill="#e01010"/><circle cx="542.5" cy="53.9" r="1.85" fill="#e01010"/><circle cx="535.4" cy="57.6" r="1.85" fill="#e01010"/><circle cx="540" cy="57.7" r="1.85" fill="#e01010"/><circle cx="538.5" cy="55.8" r="1.85" fill="#e01010"/><circle cx="532.6" cy="59.1" r="1.85" fill="#e01010"/><circle cx="550" cy="53.9" r="1.85" fill="#e01010"/><circle cx="543.9" cy="57.4" r="1.85" fill="#e01010"/><circle cx="546.3" cy="55.1" r="1.85" fill="#e01010"/><circle cx="541.2" cy="59.3" r="1.85" fill="#e01010"/><circle cx="498.6" cy="59" r="1.85" fill="#e01010"/><circle cx="492.1" cy="62.1" r="1.85" fill="#e01010"/><circle cx="496.2" cy="63.1" r="1.85" fill="#e01010"/><circle cx="495.6" cy="61.2" r="1.85" fill="#e01010"/><circle cx="490.1" cy="63.9" r="1.85" fill="#e01010"/><circle cx="506.3" cy="59" r="1.85" fill="#e01010"/><circle cx="501.1" cy="62.8" r="1.85" fill="#e01010"/><circle cx="504.3" cy="63" r="1.85" fill="#e01010"/><circle cx="503.3" cy="61.4" r="1.85" fill="#e01010"/><circle cx="497.5" cy="65.1" r="1.85" fill="#e01010"/><circle cx="514.5" cy="60.2" r="1.85" fill="#e01010"/><circle cx="508.2" cy="63.7" r="1.85" fill="#e01010"/><circle cx="512.4" cy="63.3" r="1.85" fill="#e01010"/><circle cx="511.7" cy="61.9" r="1.85" fill="#e01010"/><circle cx="505" cy="64.6" r="1.85" fill="#e01010"/><circle cx="522.7" cy="59.7" r="1.85" fill="#e01010"/><circle cx="516" cy="63.4" r="1.85" fill="#e01010"/><circle cx="519.5" cy="63.6" r="1.85" fill="#e01010"/><circle cx="519.1" cy="61.6" r="1.85" fill="#e01010"/><circle cx="513.6" cy="65.2" r="1.85" fill="#e01010"/><circle cx="529.5" cy="60.2" r="1.85" fill="#e01010"/><circle cx="524.1" cy="63.7" r="1.85" fill="#e01010"/><circle cx="528.2" cy="63.7" r="1.85" fill="#e01010"/><circle cx="527.1" cy="62" r="1.85" fill="#e01010"/><circle cx="520.7" cy="66" r="1.85" fill="#e01010"/><circle cx="538.3" cy="61.1" r="1.85" fill="#e01010"/><circle cx="532.1" cy="64.7" r="1.85" fill="#e01010"/><circle cx="536.2" cy="64" r="1.85" fill="#e01010"/><circle cx="534.9" cy="62.3" r="1.85" fill="#e01010"/><circle cx="528.3" cy="66.4" r="1.85" fill="#e01010"/><circle cx="546.1" cy="60.6" r="1.85" fill="#e01010"/><circle cx="539.3" cy="64.3" r="1.85" fill="#e01010"/><circle cx="543.7" cy="64.5" r="1.85" fill="#e01010"/><circle cx="542.2" cy="63.2" r="1.85" fill="#e01010"/><circle cx="536.2" cy="66.3" r="1.85" fill="#e01010"/><circle cx="494" cy="65.9" r="1.85" fill="#e01010"/><circle cx="488.1" cy="69.6" r="1.85" fill="#e01010"/><circle cx="492.1" cy="69.5" r="1.85" fill="#e01010"/><circle cx="491.6" cy="67.8" r="1.85" fill="#e01010"/><circle cx="485.7" cy="70.9" r="1.85" fill="#e01010"/><circle cx="502.6" cy="66.2" r="1.85" fill="#e01010"/><circle cx="496.6" cy="69.8" r="1.85" fill="#e01010"/><circle cx="500.2" cy="70" r="1.85" fill="#e01010"/><circle cx="499.1" cy="68.3" r="1.85" fill="#e01010"/><circle cx="493" cy="72.1" r="1.85" fill="#e01010"/><circle cx="510.6" cy="67.5" r="1.85" fill="#e01010"/><circle cx="503.9" cy="70.2" r="1.85" fill="#e01010"/><circle cx="507.4" cy="70" r="1.85" fill="#e01010"/><circle cx="506.6" cy="69.1" r="1.85" fill="#e01010"/><circle cx="501.5" cy="71.5" r="1.85" fill="#e01010"/><circle cx="517.4" cy="67" r="1.85" fill="#e01010"/><circle cx="511.4" cy="70.8" r="1.85" fill="#e01010"/><circle cx="516.3" cy="70.9" r="1.85" fill="#e01010"/><circle cx="515.3" cy="68.6" r="1.85" fill="#e01010"/><circle cx="508.8" cy="71.9" r="1.85" fill="#e01010"/><circle cx="526.2" cy="67.9" r="1.85" fill="#e01010"/><circle cx="519.8" cy="71.4" r="1.85" fill="#e01010"/><circle cx="523.5" cy="70.6" r="1.85" fill="#e01010"/><circle cx="522.2" cy="68.9" r="1.85" fill="#e01010"/><circle cx="516.2" cy="72.4" r="1.85" fill="#e01010"/><circle cx="533.7" cy="67.8" r="1.85" fill="#e01010"/><circle cx="527" cy="70.7" r="1.85" fill="#e01010"/><circle cx="531.5" cy="71" r="1.85" fill="#e01010"/><circle cx="530.2" cy="69.4" r="1.85" fill="#e01010"/><circle cx="524.3" cy="73.2" r="1.85" fill="#e01010"/><circle cx="535.5" cy="72.1" r="1.85" fill="#e01010"/><circle cx="538.5" cy="70" r="1.85" fill="#e01010"/><circle cx="532.2" cy="72.8" r="1.85" fill="#e01010"/><circle cx="490.3" cy="73.7" r="1.85" fill="#e01010"/><circle cx="484.1" cy="76.2" r="1.85" fill="#e01010"/><circle cx="488.4" cy="77.3" r="1.85" fill="#e01010"/><circle cx="486.6" cy="74.7" r="1.85" fill="#e01010"/><circle cx="481.2" cy="78.5" r="1.85" fill="#e01010"/><circle cx="498.4" cy="73.6" r="1.85" fill="#e01010"/><circle cx="491.6" cy="77.4" r="1.85" fill="#e01010"/><circle cx="495.5" cy="77.7" r="1.85" fill="#e01010"/><circle cx="494.8" cy="75.3" r="1.85" fill="#e01010"/><circle cx="488.8" cy="78.9" r="1.85" fill="#e01010"/><circle cx="506.2" cy="73.6" r="1.85" fill="#e01010"/><circle cx="499.7" cy="77.2" r="1.85" fill="#e01010"/><circle cx="504.1" cy="77.1" r="1.85" fill="#e01010"/><circle cx="503" cy="76" r="1.85" fill="#e01010"/><circle cx="496.6" cy="78.9" r="1.85" fill="#e01010"/><circle cx="513.5" cy="73.9" r="1.85" fill="#e01010"/><circle cx="507.6" cy="77.4" r="1.85" fill="#e01010"/><circle cx="511.5" cy="78.2" r="1.85" fill="#e01010"/><circle cx="510.7" cy="76.2" r="1.85" fill="#e01010"/><circle cx="504.7" cy="79.1" r="1.85" fill="#e01010"/><circle cx="520.8" cy="75" r="1.85" fill="#e01010"/><circle cx="515.1" cy="77.7" r="1.85" fill="#e01010"/><circle cx="519.5" cy="77.9" r="1.85" fill="#e01010"/><circle cx="518.2" cy="76.7" r="1.85" fill="#e01010"/><circle cx="512.4" cy="79.2" r="1.85" fill="#e01010"/><circle cx="528.6" cy="75" r="1.85" fill="#e01010"/><circle cx="523.3" cy="78.2" r="1.85" fill="#e01010"/><circle cx="527.5" cy="78" r="1.85" fill="#e01010"/><circle cx="526.7" cy="77.1" r="1.85" fill="#e01010"/><circle cx="520.3" cy="80.4" r="1.85" fill="#e01010"/><circle cx="536.6" cy="74.6" r="1.85" fill="#e01010"/><circle cx="530.5" cy="78.7" r="1.85" fill="#e01010"/><circle cx="534.5" cy="76.7" r="1.85" fill="#e01010"/><circle cx="527.7" cy="79.9" r="1.85" fill="#e01010"/><circle cx="515.2" cy="42.7" r="1.2" fill="#e8e4e4"/><circle cx="523" cy="43" r="1.2" fill="#e8e4e4"/><circle cx="527.7" cy="40.9" r="1.2" fill="#e8e4e4"/><circle cx="535.5" cy="41.2" r="1.2" fill="#e8e4e4"/><circle cx="546.4" cy="43.9" r="1.2" fill="#e8e4e4"/><circle cx="551.1" cy="41.8" r="1.2" fill="#e8e4e4"/><circle cx="558.9" cy="42.1" r="1.2" fill="#e8e4e4"/><circle cx="510.9" cy="49.8" r="1.2" fill="#e8e4e4"/><circle cx="515.6" cy="47.7" r="1.2" fill="#e8e4e4"/><circle cx="526.5" cy="50.4" r="1.2" fill="#e8e4e4"/><circle cx="531.2" cy="48.3" r="1.2" fill="#e8e4e4"/><circle cx="534.3" cy="50.7" r="1.2" fill="#e8e4e4"/><circle cx="546.8" cy="48.9" r="1.2" fill="#e8e4e4"/><circle cx="506.6" cy="56.8" r="1.2" fill="#e8e4e4"/><circle cx="519.1" cy="55" r="1.2" fill="#e8e4e4"/><circle cx="522.2" cy="57.4" r="1.2" fill="#e8e4e4"/><circle cx="530" cy="57.7" r="1.2" fill="#e8e4e4"/><circle cx="534.7" cy="55.6" r="1.2" fill="#e8e4e4"/><circle cx="542.5" cy="55.9" r="1.2" fill="#e8e4e4"/><circle cx="550.3" cy="56.2" r="1.2" fill="#e8e4e4"/><circle cx="494.5" cy="63.6" r="1.2" fill="#e8e4e4"/><circle cx="499.2" cy="61.5" r="1.2" fill="#e8e4e4"/><circle cx="502.3" cy="63.9" r="1.2" fill="#e8e4e4"/><circle cx="510.1" cy="64.2" r="1.2" fill="#e8e4e4"/><circle cx="514.8" cy="62.1" r="1.2" fill="#e8e4e4"/><circle cx="530.4" cy="62.7" r="1.2" fill="#e8e4e4"/><circle cx="533.5" cy="65.1" r="1.2" fill="#e8e4e4"/><circle cx="538.2" cy="63" r="1.2" fill="#e8e4e4"/><circle cx="541.3" cy="65.4" r="1.2" fill="#e8e4e4"/><circle cx="546" cy="63.3" r="1.2" fill="#e8e4e4"/><circle cx="490.2" cy="70.6" r="1.2" fill="#e8e4e4"/><circle cx="505.8" cy="71.2" r="1.2" fill="#e8e4e4"/><circle cx="513.6" cy="71.5" r="1.2" fill="#e8e4e4"/><circle cx="518.3" cy="69.4" r="1.2" fill="#e8e4e4"/><circle cx="537" cy="72.4" r="1.2" fill="#e8e4e4"/><circle cx="485.9" cy="77.7" r="1.2" fill="#e8e4e4"/><circle cx="493.7" cy="78" r="1.2" fill="#e8e4e4"/><circle cx="501.5" cy="78.3" r="1.2" fill="#e8e4e4"/><circle cx="506.2" cy="76.2" r="1.2" fill="#e8e4e4"/><circle cx="509.3" cy="78.6" r="1.2" fill="#e8e4e4"/><circle cx="517.1" cy="78.9" r="1.2" fill="#e8e4e4"/><circle cx="532.7" cy="79.5" r="1.2" fill="#e8e4e4"/><circle cx="537.4" cy="77.4" r="1.2" fill="#e8e4e4"/><path d="M505.1,38.2 l1.3,-2.4 2.6,0 1.3,2.4 -1.3,2.3 -2.6,0z" fill="#9a86c0"/><path d="M513,38.5 l1.3,-2.4 2.6,0 1.3,2.4 -1.3,2.3 -2.6,0z" fill="#80c81e"/><path d="M520.8,38.8 l1.3,-2.4 2.6,0 1.3,2.4 -1.3,2.3 -2.6,0z" fill="#80c81e"/><path d="M528.5,39.1 l1.3,-2.4 2.6,0 1.3,2.4 -1.3,2.3 -2.6,0z" fill="#9a86c0"/><path d="M536.4,39.4 l1.3,-2.4 2.6,0 1.3,2.4 -1.3,2.3 -2.6,0z" fill="#80c81e"/><path d="M544.1,39.7 l1.3,-2.4 2.6,0 1.3,2.4 -1.3,2.3 -2.6,0z" fill="#80c81e"/><path d="M552,40 l1.3,-2.4 2.6,0 1.3,2.4 -1.3,2.3 -2.6,0z" fill="#9a86c0"/><path d="M500.8,45.2 l1.3,-2.4 2.6,0 1.3,2.4 -1.3,2.3 -2.6,0z" fill="#80c81e"/><path d="M508.7,45.5 l1.3,-2.4 2.6,0 1.3,2.4 -1.3,2.3 -2.6,0z" fill="#80c81e"/><path d="M516.4,45.8 l1.3,-2.4 2.6,0 1.3,2.4 -1.3,2.3 -2.6,0z" fill="#80c81e"/><path d="M524.2,46.1 l1.3,-2.4 2.6,0 1.3,2.4 -1.3,2.3 -2.6,0z" fill="#80c81e"/><path d="M532,46.4 l1.3,-2.4 2.6,0 1.3,2.4 -1.3,2.3 -2.6,0z" fill="#80c81e"/><path d="M539.8,46.7 l1.3,-2.4 2.6,0 1.3,2.4 -1.3,2.3 -2.6,0z" fill="#80c81e"/><path d="M547.6,47 l1.3,-2.4 2.6,0 1.3,2.4 -1.3,2.3 -2.6,0z" fill="#80c81e"/><path d="M496.5,52.3 l1.3,-2.4 2.6,0 1.3,2.4 -1.3,2.3 -2.6,0z" fill="#80c81e"/><path d="M504.4,52.6 l1.3,-2.4 2.6,0 1.3,2.4 -1.3,2.3 -2.6,0z" fill="#80c81e"/><path d="M512.1,52.9 l1.3,-2.4 2.6,0 1.3,2.4 -1.3,2.3 -2.6,0z" fill="#80c81e"/><path d="M519.9,53.2 l1.3,-2.4 2.6,0 1.3,2.4 -1.3,2.3 -2.6,0z" fill="#80c81e"/><path d="M527.8,53.5 l1.3,-2.4 2.6,0 1.3,2.4 -1.3,2.3 -2.6,0z" fill="#80c81e"/><path d="M535.5,53.8 l1.3,-2.4 2.6,0 1.3,2.4 -1.3,2.3 -2.6,0z" fill="#80c81e"/><path d="M543.4,54.1 l1.3,-2.4 2.6,0 1.3,2.4 -1.3,2.3 -2.6,0z" fill="#80c81e"/><path d="M492.2,59.3 l1.3,-2.4 2.6,0 1.3,2.4 -1.3,2.3 -2.6,0z" fill="#80c81e"/><path d="M500.1,59.6 l1.3,-2.4 2.6,0 1.3,2.4 -1.3,2.3 -2.6,0z" fill="#9a86c0"/><path d="M507.8,59.9 l1.3,-2.4 2.6,0 1.3,2.4 -1.3,2.3 -2.6,0z" fill="#80c81e"/><path d="M515.6,60.2 l1.3,-2.4 2.6,0 1.3,2.4 -1.3,2.3 -2.6,0z" fill="#80c81e"/><path d="M523.5,60.5 l1.3,-2.4 2.6,0 1.3,2.4 -1.3,2.3 -2.6,0z" fill="#9a86c0"/><path d="M531.2,60.8 l1.3,-2.4 2.6,0 1.3,2.4 -1.3,2.3 -2.6,0z" fill="#80c81e"/><path d="M539.1,61.1 l1.3,-2.4 2.6,0 1.3,2.4 -1.3,2.3 -2.6,0z" fill="#80c81e"/><path d="M487.9,66.4 l1.3,-2.4 2.6,0 1.3,2.4 -1.3,2.3 -2.6,0z" fill="#80c81e"/><path d="M495.8,66.7 l1.3,-2.4 2.6,0 1.3,2.4 -1.3,2.3 -2.6,0z" fill="#80c81e"/><path d="M503.5,67 l1.3,-2.4 2.6,0 1.3,2.4 -1.3,2.3 -2.6,0z" fill="#80c81e"/><path d="M511.3,67.3 l1.3,-2.4 2.6,0 1.3,2.4 -1.3,2.3 -2.6,0z" fill="#80c81e"/><path d="M519.1,67.6 l1.3,-2.4 2.6,0 1.3,2.4 -1.3,2.3 -2.6,0z" fill="#80c81e"/><path d="M526.9,67.9 l1.3,-2.4 2.6,0 1.3,2.4 -1.3,2.3 -2.6,0z" fill="#80c81e"/><path d="M534.8,68.2 l1.3,-2.4 2.6,0 1.3,2.4 -1.3,2.3 -2.6,0z" fill="#80c81e"/><path d="M483.6,73.4 l1.3,-2.4 2.6,0 1.3,2.4 -1.3,2.3 -2.6,0z" fill="#80c81e"/><path d="M491.4,73.7 l1.3,-2.4 2.6,0 1.3,2.4 -1.3,2.3 -2.6,0z" fill="#80c81e"/><path d="M499.2,74 l1.3,-2.4 2.6,0 1.3,2.4 -1.3,2.3 -2.6,0z" fill="#80c81e"/><path d="M507,74.3 l1.3,-2.4 2.6,0 1.3,2.4 -1.3,2.3 -2.6,0z" fill="#80c81e"/><path d="M514.9,74.6 l1.3,-2.4 2.6,0 1.3,2.4 -1.3,2.3 -2.6,0z" fill="#80c81e"/><path d="M522.6,74.9 l1.3,-2.4 2.6,0 1.3,2.4 -1.3,2.3 -2.6,0z" fill="#80c81e"/><path d="M530.5,75.2 l1.3,-2.4 2.6,0 1.3,2.4 -1.3,2.3 -2.6,0z" fill="#80c81e"/>
<circle cx="614.8" cy="40.1" r="1.7" fill="#e01010"/><circle cx="608.5" cy="43.1" r="1.7" fill="#e01010"/><circle cx="611.6" cy="42.4" r="1.7" fill="#e01010"/><circle cx="606.4" cy="45.5" r="1.7" fill="#e01010"/><circle cx="617.5" cy="43.9" r="1.7" fill="#e01010"/><circle cx="621.6" cy="43.8" r="1.7" fill="#e01010"/><circle cx="619.6" cy="42.3" r="1.7" fill="#e01010"/><circle cx="614.5" cy="46" r="1.7" fill="#e01010"/><circle cx="625.9" cy="44.1" r="1.7" fill="#e01010"/><circle cx="629" cy="43.3" r="1.7" fill="#e01010"/><circle cx="622.5" cy="45.3" r="1.7" fill="#e01010"/><circle cx="639.5" cy="40.5" r="1.7" fill="#e01010"/><circle cx="634" cy="44.1" r="1.7" fill="#e01010"/><circle cx="636.1" cy="42.3" r="1.7" fill="#e01010"/><circle cx="648" cy="40.1" r="1.7" fill="#e01010"/><circle cx="641.2" cy="44.1" r="1.7" fill="#e01010"/><circle cx="645" cy="41.7" r="1.7" fill="#e01010"/><circle cx="638.5" cy="45.8" r="1.7" fill="#e01010"/><circle cx="656" cy="39.8" r="1.7" fill="#e01010"/><circle cx="653.4" cy="41.6" r="1.7" fill="#e01010"/><circle cx="647" cy="44.9" r="1.7" fill="#e01010"/><circle cx="658.5" cy="43.4" r="1.7" fill="#e01010"/><circle cx="660.9" cy="41.8" r="1.7" fill="#e01010"/><circle cx="655.2" cy="45.6" r="1.7" fill="#e01010"/><circle cx="611.5" cy="47" r="1.7" fill="#e01010"/><circle cx="605.9" cy="51.1" r="1.7" fill="#e01010"/><circle cx="608.8" cy="50.9" r="1.7" fill="#e01010"/><circle cx="607.7" cy="49.3" r="1.7" fill="#e01010"/><circle cx="601.8" cy="53" r="1.7" fill="#e01010"/><circle cx="617" cy="51.2" r="1.7" fill="#e01010"/><circle cx="610.5" cy="53" r="1.7" fill="#e01010"/><circle cx="627.7" cy="47.1" r="1.7" fill="#e01010"/><circle cx="622" cy="50.5" r="1.7" fill="#e01010"/><circle cx="626" cy="50.8" r="1.7" fill="#e01010"/><circle cx="625" cy="48.9" r="1.7" fill="#e01010"/><circle cx="618.6" cy="53.1" r="1.7" fill="#e01010"/><circle cx="630.3" cy="50.6" r="1.7" fill="#e01010"/><circle cx="634.1" cy="51.5" r="1.7" fill="#e01010"/><circle cx="632.5" cy="48.7" r="1.7" fill="#e01010"/><circle cx="626.5" cy="53.2" r="1.7" fill="#e01010"/><circle cx="638.4" cy="50.8" r="1.7" fill="#e01010"/><circle cx="641.8" cy="51.4" r="1.7" fill="#e01010"/><circle cx="640.8" cy="49.1" r="1.7" fill="#e01010"/><circle cx="634.9" cy="53.4" r="1.7" fill="#e01010"/><circle cx="650.8" cy="51.5" r="1.7" fill="#e01010"/><circle cx="649.4" cy="49.6" r="1.7" fill="#e01010"/><circle cx="643.2" cy="52.6" r="1.7" fill="#e01010"/><circle cx="660.6" cy="46.8" r="1.7" fill="#e01010"/><circle cx="607.3" cy="54.9" r="1.7" fill="#e01010"/><circle cx="601.5" cy="58.9" r="1.7" fill="#e01010"/><circle cx="605.5" cy="58.1" r="1.7" fill="#e01010"/><circle cx="599" cy="60.1" r="1.7" fill="#e01010"/><circle cx="616.1" cy="55.2" r="1.7" fill="#e01010"/><circle cx="612.9" cy="57" r="1.7" fill="#e01010"/><circle cx="606.6" cy="60" r="1.7" fill="#e01010"/><circle cx="617.4" cy="58" r="1.7" fill="#e01010"/><circle cx="621.5" cy="59" r="1.7" fill="#e01010"/><circle cx="615" cy="60" r="1.7" fill="#e01010"/><circle cx="631.9" cy="54.3" r="1.7" fill="#e01010"/><circle cx="625.7" cy="58.5" r="1.7" fill="#e01010"/><circle cx="628.6" cy="56.2" r="1.7" fill="#e01010"/><circle cx="623.3" cy="60.6" r="1.7" fill="#e01010"/><circle cx="640.1" cy="54.7" r="1.7" fill="#e01010"/><circle cx="638.6" cy="58.4" r="1.7" fill="#e01010"/><circle cx="637.3" cy="56.8" r="1.7" fill="#e01010"/><circle cx="631.3" cy="60.2" r="1.7" fill="#e01010"/><circle cx="646.5" cy="57.9" r="1.7" fill="#e01010"/><circle cx="640" cy="60.6" r="1.7" fill="#e01010"/><circle cx="650.1" cy="58" r="1.7" fill="#e01010"/><circle cx="654.3" cy="57.9" r="1.7" fill="#e01010"/><circle cx="647.1" cy="60.7" r="1.7" fill="#e01010"/><circle cx="602.4" cy="65.2" r="1.7" fill="#e01010"/><circle cx="595.2" cy="67.1" r="1.7" fill="#e01010"/><circle cx="612.1" cy="62.5" r="1.7" fill="#e01010"/><circle cx="605.7" cy="65.5" r="1.7" fill="#e01010"/><circle cx="610.5" cy="65.6" r="1.7" fill="#e01010"/><circle cx="609" cy="63.7" r="1.7" fill="#e01010"/><circle cx="602.7" cy="67.6" r="1.7" fill="#e01010"/><circle cx="620.5" cy="62.4" r="1.7" fill="#e01010"/><circle cx="614.3" cy="65.7" r="1.7" fill="#e01010"/><circle cx="618.9" cy="65.3" r="1.7" fill="#e01010"/><circle cx="617.6" cy="64.4" r="1.7" fill="#e01010"/><circle cx="611.3" cy="67.9" r="1.7" fill="#e01010"/><circle cx="628.2" cy="61.8" r="1.7" fill="#e01010"/><circle cx="623" cy="65.5" r="1.7" fill="#e01010"/><circle cx="625.9" cy="64" r="1.7" fill="#e01010"/><circle cx="619.2" cy="67" r="1.7" fill="#e01010"/><circle cx="636.4" cy="62.4" r="1.7" fill="#e01010"/><circle cx="631.2" cy="65.7" r="1.7" fill="#e01010"/><circle cx="634.7" cy="66.2" r="1.7" fill="#e01010"/><circle cx="627.7" cy="67.9" r="1.7" fill="#e01010"/><circle cx="638.5" cy="65.4" r="1.7" fill="#e01010"/><circle cx="642.3" cy="64.3" r="1.7" fill="#e01010"/><circle cx="635.5" cy="67.3" r="1.7" fill="#e01010"/><circle cx="653.3" cy="61.9" r="1.7" fill="#e01010"/><circle cx="647.3" cy="65.3" r="1.7" fill="#e01010"/><circle cx="643.8" cy="67.7" r="1.7" fill="#e01010"/><circle cx="600.2" cy="69.1" r="1.7" fill="#e01010"/><circle cx="594.8" cy="73" r="1.7" fill="#e01010"/><circle cx="597.9" cy="72.9" r="1.7" fill="#e01010"/><circle cx="596.8" cy="71.8" r="1.7" fill="#e01010"/><circle cx="606.7" cy="73.3" r="1.7" fill="#e01010"/><circle cx="599.8" cy="75.5" r="1.7" fill="#e01010"/><circle cx="616.4" cy="69.7" r="1.7" fill="#e01010"/><circle cx="610.7" cy="72.8" r="1.7" fill="#e01010"/><circle cx="614.9" cy="72.7" r="1.7" fill="#e01010"/><circle cx="607.2" cy="75.5" r="1.7" fill="#e01010"/><circle cx="624.8" cy="69.6" r="1.7" fill="#e01010"/><circle cx="618.6" cy="72.7" r="1.7" fill="#e01010"/><circle cx="623.1" cy="73.4" r="1.7" fill="#e01010"/><circle cx="622" cy="71.1" r="1.7" fill="#e01010"/><circle cx="615.7" cy="75.4" r="1.7" fill="#e01010"/><circle cx="626.8" cy="73" r="1.7" fill="#e01010"/><circle cx="631.4" cy="73" r="1.7" fill="#e01010"/><circle cx="623.7" cy="74.5" r="1.7" fill="#e01010"/><circle cx="640.7" cy="69.3" r="1.7" fill="#e01010"/><circle cx="631.7" cy="74.9" r="1.7" fill="#e01010"/><circle cx="643.6" cy="72.6" r="1.7" fill="#e01010"/><circle cx="640.4" cy="75.1" r="1.7" fill="#e01010"/><circle cx="596.9" cy="76.8" r="1.7" fill="#e01010"/><circle cx="590.9" cy="79.9" r="1.7" fill="#e01010"/><circle cx="593.5" cy="78.7" r="1.7" fill="#e01010"/><circle cx="587.3" cy="82.4" r="1.7" fill="#e01010"/><circle cx="604.8" cy="77.4" r="1.7" fill="#e01010"/><circle cx="603.2" cy="80.6" r="1.7" fill="#e01010"/><circle cx="601.6" cy="78.3" r="1.7" fill="#e01010"/><circle cx="595.8" cy="82.9" r="1.7" fill="#e01010"/><circle cx="613.3" cy="76.9" r="1.7" fill="#e01010"/><circle cx="604.3" cy="82.9" r="1.7" fill="#e01010"/><circle cx="620.6" cy="76.3" r="1.7" fill="#e01010"/><circle cx="614.7" cy="80.1" r="1.7" fill="#e01010"/><circle cx="619.4" cy="80.5" r="1.7" fill="#e01010"/><circle cx="618.2" cy="78.4" r="1.7" fill="#e01010"/><circle cx="612.4" cy="82.2" r="1.7" fill="#e01010"/><circle cx="629" cy="76.9" r="1.7" fill="#e01010"/><circle cx="622.9" cy="79.9" r="1.7" fill="#e01010"/><circle cx="627.7" cy="80.1" r="1.7" fill="#e01010"/><circle cx="625.9" cy="78.3" r="1.7" fill="#e01010"/><circle cx="620.2" cy="81.9" r="1.7" fill="#e01010"/><circle cx="636.8" cy="76.2" r="1.7" fill="#e01010"/><circle cx="631.3" cy="80.7" r="1.7" fill="#e01010"/><circle cx="635.4" cy="80.4" r="1.7" fill="#e01010"/><circle cx="635" cy="78.3" r="1.7" fill="#e01010"/><circle cx="628.4" cy="81.9" r="1.7" fill="#e01010"/><circle cx="637.2" cy="82.1" r="1.7" fill="#e01010"/><circle cx="615.6" cy="42.2" r="1.2" fill="#e8e4e4"/><circle cx="648.3" cy="42.2" r="1.2" fill="#e8e4e4"/><circle cx="651.9" cy="44.6" r="1.2" fill="#e8e4e4"/><circle cx="615.5" cy="51.9" r="1.2" fill="#e8e4e4"/><circle cx="620.1" cy="49.6" r="1.2" fill="#e8e4e4"/><circle cx="623.7" cy="51.9" r="1.2" fill="#e8e4e4"/><circle cx="628.3" cy="49.6" r="1.2" fill="#e8e4e4"/><circle cx="636.5" cy="49.6" r="1.2" fill="#e8e4e4"/><circle cx="640" cy="51.9" r="1.2" fill="#e8e4e4"/><circle cx="644.6" cy="49.6" r="1.2" fill="#e8e4e4"/><circle cx="648.2" cy="51.9" r="1.2" fill="#e8e4e4"/><circle cx="652.8" cy="49.6" r="1.2" fill="#e8e4e4"/><circle cx="661" cy="49.6" r="1.2" fill="#e8e4e4"/><circle cx="603.6" cy="59.3" r="1.2" fill="#e8e4e4"/><circle cx="620" cy="59.3" r="1.2" fill="#e8e4e4"/><circle cx="624.6" cy="56.9" r="1.2" fill="#e8e4e4"/><circle cx="628.2" cy="59.3" r="1.2" fill="#e8e4e4"/><circle cx="652.7" cy="59.3" r="1.2" fill="#e8e4e4"/><circle cx="616.3" cy="66.7" r="1.2" fill="#e8e4e4"/><circle cx="620.9" cy="64.3" r="1.2" fill="#e8e4e4"/><circle cx="629.1" cy="64.3" r="1.2" fill="#e8e4e4"/><circle cx="640.8" cy="66.7" r="1.2" fill="#e8e4e4"/><circle cx="653.6" cy="64.3" r="1.2" fill="#e8e4e4"/><circle cx="596.3" cy="74" r="1.2" fill="#e8e4e4"/><circle cx="612.6" cy="74" r="1.2" fill="#e8e4e4"/><circle cx="617.2" cy="71.7" r="1.2" fill="#e8e4e4"/><circle cx="620.8" cy="74" r="1.2" fill="#e8e4e4"/><circle cx="629" cy="74" r="1.2" fill="#e8e4e4"/><circle cx="637.1" cy="74" r="1.2" fill="#e8e4e4"/><circle cx="592.6" cy="81.4" r="1.2" fill="#e8e4e4"/><circle cx="600.8" cy="81.4" r="1.2" fill="#e8e4e4"/><circle cx="617.1" cy="81.4" r="1.2" fill="#e8e4e4"/><circle cx="625.3" cy="81.4" r="1.2" fill="#e8e4e4"/><circle cx="629.9" cy="79" r="1.2" fill="#e8e4e4"/><circle cx="638.1" cy="79" r="1.2" fill="#e8e4e4"/><circle cx="641.6" cy="81.4" r="1.2" fill="#e8e4e4"/><circle cx="646.2" cy="79" r="1.2" fill="#e8e4e4"/><path d="M608.2,40.2 l1.3,-2.4 2.6,0 1.3,2.4 -1.3,2.3 -2.6,0z" fill="#e8cc98"/><path d="M616.4,40.2 l1.3,-2.4 2.6,0 1.3,2.4 -1.3,2.3 -2.6,0z" fill="#9a86c0"/><path d="M624.6,40.2 l1.3,-2.4 2.6,0 1.3,2.4 -1.3,2.3 -2.6,0z" fill="#84cc22"/><path d="M632.8,40.2 l1.3,-2.4 2.6,0 1.3,2.4 -1.3,2.3 -2.6,0z" fill="#84cc22"/><path d="M649.1,40.2 l1.3,-2.4 2.6,0 1.3,2.4 -1.3,2.3 -2.6,0z" fill="#9a86c0"/><path d="M657.3,40.2 l1.3,-2.4 2.6,0 1.3,2.4 -1.3,2.3 -2.6,0z" fill="#9a86c0"/><path d="M604.6,47.5 l1.3,-2.4 2.6,0 1.3,2.4 -1.3,2.3 -2.6,0z" fill="#84cc22"/><path d="M612.7,47.5 l1.3,-2.4 2.6,0 1.3,2.4 -1.3,2.3 -2.6,0z" fill="#84cc22"/><path d="M620.9,47.5 l1.3,-2.4 2.6,0 1.3,2.4 -1.3,2.3 -2.6,0z" fill="#e8cc98"/><path d="M629.1,47.5 l1.3,-2.4 2.6,0 1.3,2.4 -1.3,2.3 -2.6,0z" fill="#e8cc98"/><path d="M637.2,47.5 l1.3,-2.4 2.6,0 1.3,2.4 -1.3,2.3 -2.6,0z" fill="#e8cc98"/><path d="M653.6,47.5 l1.3,-2.4 2.6,0 1.3,2.4 -1.3,2.3 -2.6,0z" fill="#e8cc98"/><path d="M617.2,54.9 l1.3,-2.4 2.6,0 1.3,2.4 -1.3,2.3 -2.6,0z" fill="#84cc22"/><path d="M625.4,54.9 l1.3,-2.4 2.6,0 1.3,2.4 -1.3,2.3 -2.6,0z" fill="#9a86c0"/><path d="M633.6,54.9 l1.3,-2.4 2.6,0 1.3,2.4 -1.3,2.3 -2.6,0z" fill="#9a86c0"/><path d="M641.7,54.9 l1.3,-2.4 2.6,0 1.3,2.4 -1.3,2.3 -2.6,0z" fill="#84cc22"/><path d="M649.9,54.9 l1.3,-2.4 2.6,0 1.3,2.4 -1.3,2.3 -2.6,0z" fill="#9a86c0"/><path d="M597.2,62.3 l1.3,-2.4 2.6,0 1.3,2.4 -1.3,2.3 -2.6,0z" fill="#9a86c0"/><path d="M605.4,62.3 l1.3,-2.4 2.6,0 1.3,2.4 -1.3,2.3 -2.6,0z" fill="#e8cc98"/><path d="M621.7,62.3 l1.3,-2.4 2.6,0 1.3,2.4 -1.3,2.3 -2.6,0z" fill="#e8cc98"/><path d="M629.9,62.3 l1.3,-2.4 2.6,0 1.3,2.4 -1.3,2.3 -2.6,0z" fill="#e8cc98"/><path d="M593.5,69.7 l1.3,-2.4 2.6,0 1.3,2.4 -1.3,2.3 -2.6,0z" fill="#e8cc98"/><path d="M601.7,69.7 l1.3,-2.4 2.6,0 1.3,2.4 -1.3,2.3 -2.6,0z" fill="#84cc22"/><path d="M609.9,69.7 l1.3,-2.4 2.6,0 1.3,2.4 -1.3,2.3 -2.6,0z" fill="#e8cc98"/><path d="M626.2,69.7 l1.3,-2.4 2.6,0 1.3,2.4 -1.3,2.3 -2.6,0z" fill="#e8cc98"/><path d="M642.5,69.7 l1.3,-2.4 2.6,0 1.3,2.4 -1.3,2.3 -2.6,0z" fill="#9a86c0"/><path d="M589.8,77 l1.3,-2.4 2.6,0 1.3,2.4 -1.3,2.3 -2.6,0z" fill="#9a86c0"/><path d="M598,77 l1.3,-2.4 2.6,0 1.3,2.4 -1.3,2.3 -2.6,0z" fill="#9a86c0"/><path d="M606.2,77 l1.3,-2.4 2.6,0 1.3,2.4 -1.3,2.3 -2.6,0z" fill="#9a86c0"/><path d="M630.7,77 l1.3,-2.4 2.6,0 1.3,2.4 -1.3,2.3 -2.6,0z" fill="#e8cc98"/><path d="M638.9,77 l1.3,-2.4 2.6,0 1.3,2.4 -1.3,2.3 -2.6,0z" fill="#e8cc98"/>
<circle cx="565.9" cy="156.8" r="1.85" fill="#e01010"/><circle cx="559.9" cy="160.4" r="1.85" fill="#e01010"/><circle cx="564.9" cy="160.7" r="1.85" fill="#e01010"/><circle cx="563.5" cy="158.5" r="1.85" fill="#e01010"/><circle cx="557" cy="161.9" r="1.85" fill="#e01010"/><circle cx="575" cy="156.4" r="1.85" fill="#e01010"/><circle cx="568.8" cy="160.6" r="1.85" fill="#e01010"/><circle cx="573.3" cy="159.7" r="1.85" fill="#e01010"/><circle cx="571.9" cy="158.6" r="1.85" fill="#e01010"/><circle cx="565.7" cy="161.6" r="1.85" fill="#e01010"/><circle cx="582.7" cy="157.1" r="1.85" fill="#e01010"/><circle cx="577.4" cy="160.6" r="1.85" fill="#e01010"/><circle cx="581" cy="160.2" r="1.85" fill="#e01010"/><circle cx="579.5" cy="158.2" r="1.85" fill="#e01010"/><circle cx="573.4" cy="161.4" r="1.85" fill="#e01010"/><circle cx="591.1" cy="156.3" r="1.85" fill="#e01010"/><circle cx="584.8" cy="159.9" r="1.85" fill="#e01010"/><circle cx="589.5" cy="159.6" r="1.85" fill="#e01010"/><circle cx="588.5" cy="158" r="1.85" fill="#e01010"/><circle cx="582.7" cy="161.3" r="1.85" fill="#e01010"/><circle cx="599.5" cy="156" r="1.85" fill="#e01010"/><circle cx="593" cy="159.8" r="1.85" fill="#e01010"/><circle cx="597.8" cy="160.2" r="1.85" fill="#e01010"/><circle cx="596.7" cy="158.6" r="1.85" fill="#e01010"/><circle cx="590.2" cy="162.1" r="1.85" fill="#e01010"/><circle cx="607.8" cy="156.5" r="1.85" fill="#e01010"/><circle cx="601.3" cy="159.6" r="1.85" fill="#e01010"/><circle cx="605.6" cy="160.1" r="1.85" fill="#e01010"/><circle cx="604.1" cy="157.3" r="1.85" fill="#e01010"/><circle cx="599" cy="161.2" r="1.85" fill="#e01010"/><circle cx="615.5" cy="155.4" r="1.85" fill="#e01010"/><circle cx="609.5" cy="159.7" r="1.85" fill="#e01010"/><circle cx="612.9" cy="157.4" r="1.85" fill="#e01010"/><circle cx="606.5" cy="161.3" r="1.85" fill="#e01010"/><circle cx="562.7" cy="163.5" r="1.85" fill="#e01010"/><circle cx="556.2" cy="167.3" r="1.85" fill="#e01010"/><circle cx="561.4" cy="167.7" r="1.85" fill="#e01010"/><circle cx="559.2" cy="165.3" r="1.85" fill="#e01010"/><circle cx="553.5" cy="168.8" r="1.85" fill="#e01010"/><circle cx="571.5" cy="163.8" r="1.85" fill="#e01010"/><circle cx="564.9" cy="167.7" r="1.85" fill="#e01010"/><circle cx="569.5" cy="167.4" r="1.85" fill="#e01010"/><circle cx="567.5" cy="165.1" r="1.85" fill="#e01010"/><circle cx="562.5" cy="169.5" r="1.85" fill="#e01010"/><circle cx="579.4" cy="163.9" r="1.85" fill="#e01010"/><circle cx="573.5" cy="167.3" r="1.85" fill="#e01010"/><circle cx="577.9" cy="167.5" r="1.85" fill="#e01010"/><circle cx="576.8" cy="165.8" r="1.85" fill="#e01010"/><circle cx="569.7" cy="169.3" r="1.85" fill="#e01010"/><circle cx="586.9" cy="162.9" r="1.85" fill="#e01010"/><circle cx="581.6" cy="167.2" r="1.85" fill="#e01010"/><circle cx="585.3" cy="166.2" r="1.85" fill="#e01010"/><circle cx="583.9" cy="165.6" r="1.85" fill="#e01010"/><circle cx="578.9" cy="169" r="1.85" fill="#e01010"/><circle cx="595.4" cy="163.4" r="1.85" fill="#e01010"/><circle cx="590.2" cy="167" r="1.85" fill="#e01010"/><circle cx="593.9" cy="166" r="1.85" fill="#e01010"/><circle cx="592.9" cy="164.9" r="1.85" fill="#e01010"/><circle cx="586.9" cy="168" r="1.85" fill="#e01010"/><circle cx="603.4" cy="163.4" r="1.85" fill="#e01010"/><circle cx="597.5" cy="166.6" r="1.85" fill="#e01010"/><circle cx="602.5" cy="166.2" r="1.85" fill="#e01010"/><circle cx="601" cy="165.3" r="1.85" fill="#e01010"/><circle cx="594.6" cy="168.4" r="1.85" fill="#e01010"/><circle cx="606.6" cy="165.8" r="1.85" fill="#e01010"/><circle cx="610.1" cy="166.7" r="1.85" fill="#e01010"/><circle cx="609.6" cy="164.2" r="1.85" fill="#e01010"/><circle cx="602.9" cy="167.7" r="1.85" fill="#e01010"/><circle cx="559.6" cy="171" r="1.85" fill="#e01010"/><circle cx="552.9" cy="174.3" r="1.85" fill="#e01010"/><circle cx="557.5" cy="174.2" r="1.85" fill="#e01010"/><circle cx="555.8" cy="172.9" r="1.85" fill="#e01010"/><circle cx="550.5" cy="176.6" r="1.85" fill="#e01010"/><circle cx="567.1" cy="171.1" r="1.85" fill="#e01010"/><circle cx="561.9" cy="173.9" r="1.85" fill="#e01010"/><circle cx="565.8" cy="174.1" r="1.85" fill="#e01010"/><circle cx="563.9" cy="172.7" r="1.85" fill="#e01010"/><circle cx="558.6" cy="175.4" r="1.85" fill="#e01010"/><circle cx="575.2" cy="170.9" r="1.85" fill="#e01010"/><circle cx="569.7" cy="173.7" r="1.85" fill="#e01010"/><circle cx="573.2" cy="173.7" r="1.85" fill="#e01010"/><circle cx="572.2" cy="172.3" r="1.85" fill="#e01010"/><circle cx="566.4" cy="175.1" r="1.85" fill="#e01010"/><circle cx="584.2" cy="170.6" r="1.85" fill="#e01010"/><circle cx="577.4" cy="173.9" r="1.85" fill="#e01010"/><circle cx="582.1" cy="174.2" r="1.85" fill="#e01010"/><circle cx="581.4" cy="171.5" r="1.85" fill="#e01010"/><circle cx="575.1" cy="175.8" r="1.85" fill="#e01010"/><circle cx="592.6" cy="169.9" r="1.85" fill="#e01010"/><circle cx="586.6" cy="173.8" r="1.85" fill="#e01010"/><circle cx="589.9" cy="173.3" r="1.85" fill="#e01010"/><circle cx="589.7" cy="172.3" r="1.85" fill="#e01010"/><circle cx="583" cy="175.7" r="1.85" fill="#e01010"/><circle cx="599.9" cy="169.9" r="1.85" fill="#e01010"/><circle cx="594.5" cy="173.2" r="1.85" fill="#e01010"/><circle cx="598.6" cy="172.9" r="1.85" fill="#e01010"/><circle cx="597.9" cy="172.2" r="1.85" fill="#e01010"/><circle cx="591.5" cy="174.9" r="1.85" fill="#e01010"/><circle cx="603" cy="173.6" r="1.85" fill="#e01010"/><circle cx="605.3" cy="172" r="1.85" fill="#e01010"/><circle cx="599.9" cy="175.2" r="1.85" fill="#e01010"/><circle cx="555.4" cy="177.2" r="1.85" fill="#e01010"/><circle cx="548.9" cy="180.9" r="1.85" fill="#e01010"/><circle cx="553" cy="181.7" r="1.85" fill="#e01010"/><circle cx="552.9" cy="179.6" r="1.85" fill="#e01010"/><circle cx="546.7" cy="183.5" r="1.85" fill="#e01010"/><circle cx="563.9" cy="177.7" r="1.85" fill="#e01010"/><circle cx="557.7" cy="180.6" r="1.85" fill="#e01010"/><circle cx="561.8" cy="180.4" r="1.85" fill="#e01010"/><circle cx="561.1" cy="178.9" r="1.85" fill="#e01010"/><circle cx="554.9" cy="183.2" r="1.85" fill="#e01010"/><circle cx="571.3" cy="177.7" r="1.85" fill="#e01010"/><circle cx="566.5" cy="180.4" r="1.85" fill="#e01010"/><circle cx="570.5" cy="181.1" r="1.85" fill="#e01010"/><circle cx="569" cy="179" r="1.85" fill="#e01010"/><circle cx="562.6" cy="183" r="1.85" fill="#e01010"/><circle cx="580.7" cy="177" r="1.85" fill="#e01010"/><circle cx="574.6" cy="180.7" r="1.85" fill="#e01010"/><circle cx="578.4" cy="181" r="1.85" fill="#e01010"/><circle cx="577.3" cy="179.3" r="1.85" fill="#e01010"/><circle cx="570.7" cy="182.6" r="1.85" fill="#e01010"/><circle cx="588.1" cy="177.4" r="1.85" fill="#e01010"/><circle cx="582.2" cy="180.9" r="1.85" fill="#e01010"/><circle cx="587" cy="180.8" r="1.85" fill="#e01010"/><circle cx="585.6" cy="178.8" r="1.85" fill="#e01010"/><circle cx="580" cy="182" r="1.85" fill="#e01010"/><circle cx="596.7" cy="176.9" r="1.85" fill="#e01010"/><circle cx="590.3" cy="179.8" r="1.85" fill="#e01010"/><circle cx="595.3" cy="180.4" r="1.85" fill="#e01010"/><circle cx="594.2" cy="178.9" r="1.85" fill="#e01010"/><circle cx="587.1" cy="182.5" r="1.85" fill="#e01010"/><circle cx="598.4" cy="180.1" r="1.85" fill="#e01010"/><circle cx="602.4" cy="178.7" r="1.85" fill="#e01010"/><circle cx="595.7" cy="181.7" r="1.85" fill="#e01010"/><circle cx="552.3" cy="184.8" r="1.85" fill="#e01010"/><circle cx="545.5" cy="188.3" r="1.85" fill="#e01010"/><circle cx="550.2" cy="187.9" r="1.85" fill="#e01010"/><circle cx="548.2" cy="186.7" r="1.85" fill="#e01010"/><circle cx="542.5" cy="190.1" r="1.85" fill="#e01010"/><circle cx="559.8" cy="184.5" r="1.85" fill="#e01010"/><circle cx="554" cy="187.3" r="1.85" fill="#e01010"/><circle cx="557.9" cy="188.3" r="1.85" fill="#e01010"/><circle cx="557.3" cy="185.6" r="1.85" fill="#e01010"/><circle cx="550.7" cy="189.1" r="1.85" fill="#e01010"/><circle cx="568.7" cy="184.2" r="1.85" fill="#e01010"/><circle cx="562.1" cy="187.6" r="1.85" fill="#e01010"/><circle cx="566" cy="187.3" r="1.85" fill="#e01010"/><circle cx="564.8" cy="186.5" r="1.85" fill="#e01010"/><circle cx="559.4" cy="189.6" r="1.85" fill="#e01010"/><circle cx="576.1" cy="184.3" r="1.85" fill="#e01010"/><circle cx="570.8" cy="187.1" r="1.85" fill="#e01010"/><circle cx="574.1" cy="187.2" r="1.85" fill="#e01010"/><circle cx="574.1" cy="185.9" r="1.85" fill="#e01010"/><circle cx="568.1" cy="188.9" r="1.85" fill="#e01010"/><circle cx="584.9" cy="184.4" r="1.85" fill="#e01010"/><circle cx="579.2" cy="187.6" r="1.85" fill="#e01010"/><circle cx="583.3" cy="186.8" r="1.85" fill="#e01010"/><circle cx="581.3" cy="185.6" r="1.85" fill="#e01010"/><circle cx="575.8" cy="188.9" r="1.85" fill="#e01010"/><circle cx="592.4" cy="183.2" r="1.85" fill="#e01010"/><circle cx="586.7" cy="187.3" r="1.85" fill="#e01010"/><circle cx="591.3" cy="186.9" r="1.85" fill="#e01010"/><circle cx="590.2" cy="185.9" r="1.85" fill="#e01010"/><circle cx="583.8" cy="189.5" r="1.85" fill="#e01010"/><circle cx="595.5" cy="187.5" r="1.85" fill="#e01010"/><circle cx="598" cy="185.5" r="1.85" fill="#e01010"/><circle cx="591.8" cy="188.6" r="1.85" fill="#e01010"/><circle cx="547.6" cy="190.8" r="1.85" fill="#e01010"/><circle cx="542.4" cy="194.8" r="1.85" fill="#e01010"/><circle cx="546" cy="194.9" r="1.85" fill="#e01010"/><circle cx="545.1" cy="193.7" r="1.85" fill="#e01010"/><circle cx="538.8" cy="196.8" r="1.85" fill="#e01010"/><circle cx="555.7" cy="191.1" r="1.85" fill="#e01010"/><circle cx="549.9" cy="194.2" r="1.85" fill="#e01010"/><circle cx="554.2" cy="194.6" r="1.85" fill="#e01010"/><circle cx="553.5" cy="192.6" r="1.85" fill="#e01010"/><circle cx="547.6" cy="196.6" r="1.85" fill="#e01010"/><circle cx="564.4" cy="191.1" r="1.85" fill="#e01010"/><circle cx="558.4" cy="195" r="1.85" fill="#e01010"/><circle cx="562.7" cy="194" r="1.85" fill="#e01010"/><circle cx="561.7" cy="193.4" r="1.85" fill="#e01010"/><circle cx="555.9" cy="196.5" r="1.85" fill="#e01010"/><circle cx="572.3" cy="191.4" r="1.85" fill="#e01010"/><circle cx="567" cy="194.5" r="1.85" fill="#e01010"/><circle cx="570.4" cy="194.3" r="1.85" fill="#e01010"/><circle cx="569.5" cy="192.6" r="1.85" fill="#e01010"/><circle cx="564.1" cy="196.7" r="1.85" fill="#e01010"/><circle cx="580.5" cy="190.7" r="1.85" fill="#e01010"/><circle cx="575.5" cy="193.7" r="1.85" fill="#e01010"/><circle cx="578.7" cy="194.1" r="1.85" fill="#e01010"/><circle cx="577.8" cy="192.9" r="1.85" fill="#e01010"/><circle cx="572.5" cy="195.6" r="1.85" fill="#e01010"/><circle cx="588.7" cy="189.9" r="1.85" fill="#e01010"/><circle cx="583.4" cy="194" r="1.85" fill="#e01010"/><circle cx="587.6" cy="194.2" r="1.85" fill="#e01010"/><circle cx="586.3" cy="192.4" r="1.85" fill="#e01010"/><circle cx="579.8" cy="195.7" r="1.85" fill="#e01010"/><circle cx="597.3" cy="190.1" r="1.85" fill="#e01010"/><circle cx="591.1" cy="194.1" r="1.85" fill="#e01010"/><circle cx="594.1" cy="192.4" r="1.85" fill="#e01010"/><circle cx="588.5" cy="195.4" r="1.85" fill="#e01010"/><circle cx="583.6" cy="158.7" r="1.2" fill="#e8e4e4"/><circle cx="587.2" cy="160.8" r="1.2" fill="#e8e4e4"/><circle cx="591.9" cy="158.5" r="1.2" fill="#e8e4e4"/><circle cx="600.1" cy="158.3" r="1.2" fill="#e8e4e4"/><circle cx="603.7" cy="160.4" r="1.2" fill="#e8e4e4"/><circle cx="608.3" cy="158.1" r="1.2" fill="#e8e4e4"/><circle cx="616.6" cy="158" r="1.2" fill="#e8e4e4"/><circle cx="563.5" cy="165.9" r="1.2" fill="#e8e4e4"/><circle cx="567.1" cy="168" r="1.2" fill="#e8e4e4"/><circle cx="575.3" cy="167.8" r="1.2" fill="#e8e4e4"/><circle cx="591.8" cy="167.5" r="1.2" fill="#e8e4e4"/><circle cx="604.7" cy="165" r="1.2" fill="#e8e4e4"/><circle cx="608.3" cy="167.1" r="1.2" fill="#e8e4e4"/><circle cx="612.9" cy="164.9" r="1.2" fill="#e8e4e4"/><circle cx="563.4" cy="174.9" r="1.2" fill="#e8e4e4"/><circle cx="568" cy="172.6" r="1.2" fill="#e8e4e4"/><circle cx="571.6" cy="174.7" r="1.2" fill="#e8e4e4"/><circle cx="588.1" cy="174.4" r="1.2" fill="#e8e4e4"/><circle cx="592.8" cy="172.1" r="1.2" fill="#e8e4e4"/><circle cx="596.4" cy="174.2" r="1.2" fill="#e8e4e4"/><circle cx="601" cy="171.9" r="1.2" fill="#e8e4e4"/><circle cx="604.6" cy="174" r="1.2" fill="#e8e4e4"/><circle cx="559.7" cy="181.8" r="1.2" fill="#e8e4e4"/><circle cx="564.4" cy="179.5" r="1.2" fill="#e8e4e4"/><circle cx="576.2" cy="181.4" r="1.2" fill="#e8e4e4"/><circle cx="584.5" cy="181.2" r="1.2" fill="#e8e4e4"/><circle cx="605.6" cy="178.6" r="1.2" fill="#e8e4e4"/><circle cx="547.8" cy="188.8" r="1.2" fill="#e8e4e4"/><circle cx="556.1" cy="188.6" r="1.2" fill="#e8e4e4"/><circle cx="568.9" cy="186.2" r="1.2" fill="#e8e4e4"/><circle cx="572.5" cy="188.3" r="1.2" fill="#e8e4e4"/><circle cx="589" cy="187.9" r="1.2" fill="#e8e4e4"/><circle cx="593.7" cy="185.7" r="1.2" fill="#e8e4e4"/><circle cx="597.3" cy="187.8" r="1.2" fill="#e8e4e4"/><circle cx="601.9" cy="185.5" r="1.2" fill="#e8e4e4"/><circle cx="560.6" cy="195.3" r="1.2" fill="#e8e4e4"/><circle cx="573.5" cy="192.9" r="1.2" fill="#e8e4e4"/><circle cx="585.4" cy="194.8" r="1.2" fill="#e8e4e4"/><circle cx="590" cy="192.6" r="1.2" fill="#e8e4e4"/><circle cx="593.6" cy="194.7" r="1.2" fill="#e8e4e4"/><path d="M559.7,157.3 l1.3,-2.4 2.6,0 1.3,2.4 -1.3,2.3 -2.6,0z" fill="#9a86c0"/><path d="M567.9,157.1 l1.3,-2.4 2.6,0 1.3,2.4 -1.3,2.3 -2.6,0z" fill="#80c81e"/><path d="M576.2,156.9 l1.3,-2.4 2.6,0 1.3,2.4 -1.3,2.3 -2.6,0z" fill="#80c81e"/><path d="M584.4,156.7 l1.3,-2.4 2.6,0 1.3,2.4 -1.3,2.3 -2.6,0z" fill="#9a86c0"/><path d="M592.7,156.6 l1.3,-2.4 2.6,0 1.3,2.4 -1.3,2.3 -2.6,0z" fill="#80c81e"/><path d="M600.9,156.4 l1.3,-2.4 2.6,0 1.3,2.4 -1.3,2.3 -2.6,0z" fill="#80c81e"/><path d="M609.1,156.2 l1.3,-2.4 2.6,0 1.3,2.4 -1.3,2.3 -2.6,0z" fill="#9a86c0"/><path d="M556,164.1 l1.3,-2.4 2.6,0 1.3,2.4 -1.3,2.3 -2.6,0z" fill="#80c81e"/><path d="M564.3,164 l1.3,-2.4 2.6,0 1.3,2.4 -1.3,2.3 -2.6,0z" fill="#80c81e"/><path d="M572.5,163.8 l1.3,-2.4 2.6,0 1.3,2.4 -1.3,2.3 -2.6,0z" fill="#80c81e"/><path d="M580.8,163.6 l1.3,-2.4 2.6,0 1.3,2.4 -1.3,2.3 -2.6,0z" fill="#80c81e"/><path d="M589,163.5 l1.3,-2.4 2.6,0 1.3,2.4 -1.3,2.3 -2.6,0z" fill="#80c81e"/><path d="M597.2,163.3 l1.3,-2.4 2.6,0 1.3,2.4 -1.3,2.3 -2.6,0z" fill="#80c81e"/><path d="M605.5,163.1 l1.3,-2.4 2.6,0 1.3,2.4 -1.3,2.3 -2.6,0z" fill="#80c81e"/><path d="M552.4,171 l1.3,-2.4 2.6,0 1.3,2.4 -1.3,2.3 -2.6,0z" fill="#80c81e"/><path d="M560.6,170.9 l1.3,-2.4 2.6,0 1.3,2.4 -1.3,2.3 -2.6,0z" fill="#80c81e"/><path d="M568.8,170.7 l1.3,-2.4 2.6,0 1.3,2.4 -1.3,2.3 -2.6,0z" fill="#80c81e"/><path d="M577.1,170.5 l1.3,-2.4 2.6,0 1.3,2.4 -1.3,2.3 -2.6,0z" fill="#80c81e"/><path d="M585.3,170.3 l1.3,-2.4 2.6,0 1.3,2.4 -1.3,2.3 -2.6,0z" fill="#80c81e"/><path d="M593.6,170.2 l1.3,-2.4 2.6,0 1.3,2.4 -1.3,2.3 -2.6,0z" fill="#80c81e"/><path d="M601.8,170 l1.3,-2.4 2.6,0 1.3,2.4 -1.3,2.3 -2.6,0z" fill="#80c81e"/><path d="M548.7,177.9 l1.3,-2.4 2.6,0 1.3,2.4 -1.3,2.3 -2.6,0z" fill="#80c81e"/><path d="M556.9,177.7 l1.3,-2.4 2.6,0 1.3,2.4 -1.3,2.3 -2.6,0z" fill="#9a86c0"/><path d="M565.2,177.6 l1.3,-2.4 2.6,0 1.3,2.4 -1.3,2.3 -2.6,0z" fill="#80c81e"/><path d="M573.4,177.4 l1.3,-2.4 2.6,0 1.3,2.4 -1.3,2.3 -2.6,0z" fill="#80c81e"/><path d="M581.7,177.2 l1.3,-2.4 2.6,0 1.3,2.4 -1.3,2.3 -2.6,0z" fill="#9a86c0"/><path d="M589.9,177 l1.3,-2.4 2.6,0 1.3,2.4 -1.3,2.3 -2.6,0z" fill="#80c81e"/><path d="M598.1,176.9 l1.3,-2.4 2.6,0 1.3,2.4 -1.3,2.3 -2.6,0z" fill="#80c81e"/><path d="M545,184.8 l1.3,-2.4 2.6,0 1.3,2.4 -1.3,2.3 -2.6,0z" fill="#80c81e"/><path d="M553.3,184.6 l1.3,-2.4 2.6,0 1.3,2.4 -1.3,2.3 -2.6,0z" fill="#80c81e"/><path d="M561.5,184.4 l1.3,-2.4 2.6,0 1.3,2.4 -1.3,2.3 -2.6,0z" fill="#80c81e"/><path d="M569.8,184.3 l1.3,-2.4 2.6,0 1.3,2.4 -1.3,2.3 -2.6,0z" fill="#80c81e"/><path d="M578,184.1 l1.3,-2.4 2.6,0 1.3,2.4 -1.3,2.3 -2.6,0z" fill="#80c81e"/><path d="M586.2,183.9 l1.3,-2.4 2.6,0 1.3,2.4 -1.3,2.3 -2.6,0z" fill="#80c81e"/><path d="M594.5,183.8 l1.3,-2.4 2.6,0 1.3,2.4 -1.3,2.3 -2.6,0z" fill="#80c81e"/><path d="M541.4,191.7 l1.3,-2.4 2.6,0 1.3,2.4 -1.3,2.3 -2.6,0z" fill="#80c81e"/><path d="M549.6,191.5 l1.3,-2.4 2.6,0 1.3,2.4 -1.3,2.3 -2.6,0z" fill="#80c81e"/><path d="M557.8,191.3 l1.3,-2.4 2.6,0 1.3,2.4 -1.3,2.3 -2.6,0z" fill="#80c81e"/><path d="M566.1,191.2 l1.3,-2.4 2.6,0 1.3,2.4 -1.3,2.3 -2.6,0z" fill="#80c81e"/><path d="M574.3,191 l1.3,-2.4 2.6,0 1.3,2.4 -1.3,2.3 -2.6,0z" fill="#80c81e"/><path d="M582.6,190.8 l1.3,-2.4 2.6,0 1.3,2.4 -1.3,2.3 -2.6,0z" fill="#80c81e"/><path d="M590.8,190.6 l1.3,-2.4 2.6,0 1.3,2.4 -1.3,2.3 -2.6,0z" fill="#80c81e"/>
<line x1="449.7" y1="141.2" x2="445.6" y2="143.4" stroke="#e01414" stroke-width="2.2"/><line x1="445.6" y1="143.4" x2="441.5" y2="145.5" stroke="#86cc22" stroke-width="2.2"/><line x1="441.5" y1="145.5" x2="437.4" y2="143.4" stroke="#86cc22" stroke-width="2.2"/><line x1="437.4" y1="143.4" x2="433.3" y2="141.2" stroke="#e01414" stroke-width="2.2"/><line x1="433.3" y1="141.2" x2="433.3" y2="137" stroke="#e01414" stroke-width="2.2"/><line x1="433.3" y1="137" x2="433.3" y2="132.8" stroke="#86cc22" stroke-width="2.2"/><line x1="433.3" y1="132.8" x2="437.4" y2="130.6" stroke="#86cc22" stroke-width="2.2"/><line x1="437.4" y1="130.6" x2="441.5" y2="128.5" stroke="#e01414" stroke-width="2.2"/><line x1="441.5" y1="128.5" x2="445.6" y2="130.6" stroke="#e01414" stroke-width="2.2"/><line x1="445.6" y1="130.6" x2="449.7" y2="132.8" stroke="#86cc22" stroke-width="2.2"/><line x1="449.7" y1="132.8" x2="449.7" y2="137" stroke="#86cc22" stroke-width="2.2"/><line x1="449.7" y1="137" x2="449.7" y2="141.2" stroke="#e01414" stroke-width="2.2"/><line x1="441.5" y1="145.5" x2="441.5" y2="149.3" stroke="#e01414" stroke-width="1.8"/><circle cx="441.5" cy="149.3" r="1.7" fill="#f0f0f0"/><line x1="433.3" y1="132.8" x2="429.6" y2="130.8" stroke="#e01414" stroke-width="1.8"/><circle cx="429.6" cy="130.8" r="1.7" fill="#f0f0f0"/><line x1="449.7" y1="132.8" x2="453.4" y2="130.8" stroke="#e01414" stroke-width="1.8"/><circle cx="453.4" cy="130.8" r="1.7" fill="#f0f0f0"/><circle cx="449.7" cy="141.2" r="2.3" fill="#e41010"/><path d="M438.9,145.5 l1.3,-2.3 2.6,0 1.3,2.3 -1.3,2.3 -2.6,0z" fill="#8ad020"/><circle cx="433.3" cy="141.2" r="2.3" fill="#e41010"/><path d="M430.7,132.8 l1.3,-2.3 2.6,0 1.3,2.3 -1.3,2.3 -2.6,0z" fill="#8ad020"/><circle cx="441.5" cy="128.5" r="2.3" fill="#e41010"/><path d="M447.1,132.8 l1.3,-2.3 2.6,0 1.3,2.3 -1.3,2.3 -2.6,0z" fill="#8ad020"/><line x1="481.2" y1="141.2" x2="477.1" y2="143.4" stroke="#e01414" stroke-width="2.2"/><line x1="477.1" y1="143.4" x2="473" y2="145.5" stroke="#86cc22" stroke-width="2.2"/><line x1="473" y1="145.5" x2="468.9" y2="143.4" stroke="#86cc22" stroke-width="2.2"/><line x1="468.9" y1="143.4" x2="464.8" y2="141.2" stroke="#e01414" stroke-width="2.2"/><line x1="464.8" y1="141.2" x2="464.8" y2="137" stroke="#e01414" stroke-width="2.2"/><line x1="464.8" y1="137" x2="464.8" y2="132.8" stroke="#86cc22" stroke-width="2.2"/><line x1="464.8" y1="132.8" x2="468.9" y2="130.6" stroke="#86cc22" stroke-width="2.2"/><line x1="468.9" y1="130.6" x2="473" y2="128.5" stroke="#e01414" stroke-width="2.2"/><line x1="473" y1="128.5" x2="477.1" y2="130.6" stroke="#e01414" stroke-width="2.2"/><line x1="477.1" y1="130.6" x2="481.2" y2="132.8" stroke="#86cc22" stroke-width="2.2"/><line x1="481.2" y1="132.8" x2="481.2" y2="137" stroke="#86cc22" stroke-width="2.2"/><line x1="481.2" y1="137" x2="481.2" y2="141.2" stroke="#e01414" stroke-width="2.2"/><line x1="473" y1="145.5" x2="473" y2="149.3" stroke="#e01414" stroke-width="1.8"/><circle cx="473" cy="149.3" r="1.7" fill="#f0f0f0"/><line x1="464.8" y1="132.8" x2="461.1" y2="130.8" stroke="#e01414" stroke-width="1.8"/><circle cx="461.1" cy="130.8" r="1.7" fill="#f0f0f0"/><line x1="481.2" y1="132.8" x2="484.9" y2="130.8" stroke="#e01414" stroke-width="1.8"/><circle cx="484.9" cy="130.8" r="1.7" fill="#f0f0f0"/><circle cx="481.2" cy="141.2" r="2.3" fill="#e41010"/><path d="M470.4,145.5 l1.3,-2.3 2.6,0 1.3,2.3 -1.3,2.3 -2.6,0z" fill="#8ad020"/><circle cx="464.8" cy="141.2" r="2.3" fill="#e41010"/><path d="M462.2,132.8 l1.3,-2.3 2.6,0 1.3,2.3 -1.3,2.3 -2.6,0z" fill="#8ad020"/><circle cx="473" cy="128.5" r="2.3" fill="#e41010"/><path d="M478.6,132.8 l1.3,-2.3 2.6,0 1.3,2.3 -1.3,2.3 -2.6,0z" fill="#8ad020"/><line x1="435.2" y1="162.8" x2="431.1" y2="164.9" stroke="#e01414" stroke-width="2.2"/><line x1="431.1" y1="164.9" x2="427" y2="167" stroke="#86cc22" stroke-width="2.2"/><line x1="427" y1="167" x2="422.9" y2="164.9" stroke="#86cc22" stroke-width="2.2"/><line x1="422.9" y1="164.9" x2="418.8" y2="162.8" stroke="#e01414" stroke-width="2.2"/><line x1="418.8" y1="162.8" x2="418.8" y2="158.5" stroke="#e01414" stroke-width="2.2"/><line x1="418.8" y1="158.5" x2="418.8" y2="154.2" stroke="#86cc22" stroke-width="2.2"/><line x1="418.8" y1="154.2" x2="422.9" y2="152.1" stroke="#86cc22" stroke-width="2.2"/><line x1="422.9" y1="152.1" x2="427" y2="150" stroke="#e01414" stroke-width="2.2"/><line x1="427" y1="150" x2="431.1" y2="152.1" stroke="#e01414" stroke-width="2.2"/><line x1="431.1" y1="152.1" x2="435.2" y2="154.2" stroke="#86cc22" stroke-width="2.2"/><line x1="435.2" y1="154.2" x2="435.2" y2="158.5" stroke="#86cc22" stroke-width="2.2"/><line x1="435.2" y1="158.5" x2="435.2" y2="162.8" stroke="#e01414" stroke-width="2.2"/><line x1="427" y1="167" x2="427" y2="170.8" stroke="#e01414" stroke-width="1.8"/><circle cx="427" cy="170.8" r="1.7" fill="#f0f0f0"/><line x1="418.8" y1="154.2" x2="415.1" y2="152.3" stroke="#e01414" stroke-width="1.8"/><circle cx="415.1" cy="152.3" r="1.7" fill="#f0f0f0"/><line x1="435.2" y1="154.2" x2="438.9" y2="152.3" stroke="#e01414" stroke-width="1.8"/><circle cx="438.9" cy="152.3" r="1.7" fill="#f0f0f0"/><circle cx="435.2" cy="162.8" r="2.3" fill="#e41010"/><path d="M424.4,167 l1.3,-2.3 2.6,0 1.3,2.3 -1.3,2.3 -2.6,0z" fill="#8ad020"/><circle cx="418.8" cy="162.8" r="2.3" fill="#e41010"/><path d="M416.2,154.2 l1.3,-2.3 2.6,0 1.3,2.3 -1.3,2.3 -2.6,0z" fill="#8ad020"/><circle cx="427" cy="150" r="2.3" fill="#e41010"/><path d="M432.6,154.2 l1.3,-2.3 2.6,0 1.3,2.3 -1.3,2.3 -2.6,0z" fill="#8ad020"/><line x1="464.2" y1="162.8" x2="460.1" y2="164.9" stroke="#e01414" stroke-width="2.2"/><line x1="460.1" y1="164.9" x2="456" y2="167" stroke="#86cc22" stroke-width="2.2"/><line x1="456" y1="167" x2="451.9" y2="164.9" stroke="#86cc22" stroke-width="2.2"/><line x1="451.9" y1="164.9" x2="447.8" y2="162.8" stroke="#e01414" stroke-width="2.2"/><line x1="447.8" y1="162.8" x2="447.8" y2="158.5" stroke="#e01414" stroke-width="2.2"/><line x1="447.8" y1="158.5" x2="447.8" y2="154.2" stroke="#86cc22" stroke-width="2.2"/><line x1="447.8" y1="154.2" x2="451.9" y2="152.1" stroke="#86cc22" stroke-width="2.2"/><line x1="451.9" y1="152.1" x2="456" y2="150" stroke="#e01414" stroke-width="2.2"/><line x1="456" y1="150" x2="460.1" y2="152.1" stroke="#e01414" stroke-width="2.2"/><line x1="460.1" y1="152.1" x2="464.2" y2="154.2" stroke="#86cc22" stroke-width="2.2"/><line x1="464.2" y1="154.2" x2="464.2" y2="158.5" stroke="#86cc22" stroke-width="2.2"/><line x1="464.2" y1="158.5" x2="464.2" y2="162.8" stroke="#e01414" stroke-width="2.2"/><line x1="456" y1="167" x2="456" y2="170.8" stroke="#e01414" stroke-width="1.8"/><circle cx="456" cy="170.8" r="1.7" fill="#f0f0f0"/><line x1="447.8" y1="154.2" x2="444.1" y2="152.3" stroke="#e01414" stroke-width="1.8"/><circle cx="444.1" cy="152.3" r="1.7" fill="#f0f0f0"/><line x1="464.2" y1="154.2" x2="467.9" y2="152.3" stroke="#e01414" stroke-width="1.8"/><circle cx="467.9" cy="152.3" r="1.7" fill="#f0f0f0"/><circle cx="464.2" cy="162.8" r="2.3" fill="#e41010"/><path d="M453.4,167 l1.3,-2.3 2.6,0 1.3,2.3 -1.3,2.3 -2.6,0z" fill="#8ad020"/><circle cx="447.8" cy="162.8" r="2.3" fill="#e41010"/><path d="M445.2,154.2 l1.3,-2.3 2.6,0 1.3,2.3 -1.3,2.3 -2.6,0z" fill="#8ad020"/><circle cx="456" cy="150" r="2.3" fill="#e41010"/><path d="M461.6,154.2 l1.3,-2.3 2.6,0 1.3,2.3 -1.3,2.3 -2.6,0z" fill="#8ad020"/><path d="M453.4,129.3 l1.3,-2.3 2.6,0 1.3,2.3 -1.3,2.3 -2.6,0z" fill="#9a86c0"/><path d="M482.4,129.3 l1.3,-2.3 2.6,0 1.3,2.3 -1.3,2.3 -2.6,0z" fill="#9a86c0"/><path d="M471,151 l1.3,-2.3 2.6,0 1.3,2.3 -1.3,2.3 -2.6,0z" fill="#9a86c0"/><path d="M436.9,166.8 l1.3,-2.3 2.6,0 1.3,2.3 -1.3,2.3 -2.6,0z" fill="#9a86c0"/><path d="M465.4,166.8 l1.3,-2.3 2.6,0 1.3,2.3 -1.3,2.3 -2.6,0z" fill="#9a86c0"/><path d="M442.4,151 l1.3,-2.3 2.6,0 1.3,2.3 -1.3,2.3 -2.6,0z" fill="#9a86c0"/><circle cx="434" cy="126" r="1.8" fill="#e41010"/><circle cx="437" cy="125" r="1.8" fill="#e41010"/><circle cx="448" cy="126" r="1.8" fill="#e41010"/><circle cx="463" cy="127" r="1.8" fill="#e41010"/><circle cx="466" cy="126" r="1.8" fill="#e41010"/><circle cx="479" cy="127" r="1.8" fill="#e41010"/><circle cx="414" cy="170" r="1.8" fill="#e41010"/><circle cx="419" cy="172" r="1.8" fill="#e41010"/><circle cx="421" cy="167" r="1.8" fill="#e41010"/><circle cx="485" cy="162" r="1.8" fill="#e41010"/><circle cx="482" cy="166" r="1.8" fill="#e41010"/><circle cx="447" cy="148" r="1.8" fill="#e41010"/><circle cx="478" cy="149" r="1.8" fill="#e41010"/><circle cx="431" cy="130" r="1.5" fill="#eeeeee"/><circle cx="470" cy="130" r="1.5" fill="#eeeeee"/><circle cx="415" cy="160" r="1.5" fill="#eeeeee"/><circle cx="446" cy="160" r="1.5" fill="#eeeeee"/><circle cx="417" cy="172" r="1.5" fill="#eeeeee"/>
<line x1="169" y1="316.2" x2="246" y2="316.2" stroke="#161616" stroke-width="2.2"/><path d="M248,316.2 l-5,-2.5 0,5z" fill="#161616"/>
<line x1="346" y1="315" x2="431" y2="315" stroke="#161616" stroke-width="2.2"/><path d="M433,315 l-5,-2.5 0,5z" fill="#161616"/>
<line x1="494.5" y1="379" x2="494.5" y2="454" stroke="#161616" stroke-width="2.2"/>
<line x1="384" y1="455.5" x2="610" y2="455.5" stroke="#161616" stroke-width="2.2"/><path d="M381.5,455.5 l5,-2.5 0,5z" fill="#161616"/><path d="M613,455.5 l-5,-2.5 0,5z" fill="#161616"/>
<line x1="168" y1="456.6" x2="301.7" y2="456.6" stroke="#161616" stroke-width="2.2"/><path d="M165.5,456.6 l5,-2.5 0,5z" fill="#161616"/>
<path d="M556,452.5 L566.5,464.5 M566,452.5 L555.5,464.5" stroke="#f01010" stroke-width="5" stroke-linecap="round"/>
<path d="M92.8,277L106.7,277L106.7,282L92.8,282z" fill="#dedede"/><path d="M92.8,277L106.4,277L99.6,278.5z" fill="#ececec"/><path d="M92.8,277L99.6,278.5L92.8,282z" fill="#cdcdcd"/><path d="M92.8,282L99.6,278.5L106.4,282z" fill="#a4a4a4"/><path d="M106.4,277L120.3,277L120.3,282L106.4,282z" fill="#f4aad4"/><path d="M106.4,277L120,277L113.2,278.5z" fill="#fab6dc"/><path d="M106.4,277L113.2,278.5L106.4,282z" fill="#e89cc8"/><path d="M106.4,282L113.2,278.5L120,282z" fill="#c886b0"/><path d="M120,277L133.9,277L133.9,282L120,282z" fill="#dedede"/><path d="M120,277L133.6,277L126.8,278.5z" fill="#ececec"/><path d="M120,277L126.8,278.5L120,282z" fill="#cdcdcd"/><path d="M120,282L126.8,278.5L133.6,282z" fill="#a4a4a4"/><path d="M133.6,277L147.5,277L147.5,282L133.6,282z" fill="#bce4f6"/><path d="M133.6,277L147.2,277L140.4,278.5z" fill="#d2f0fc"/><path d="M133.6,277L140.4,278.5L133.6,282z" fill="#a8d8ee"/><path d="M133.6,282L140.4,278.5L147.2,282z" fill="#86b6ce"/><path d="M86.4,281L100.2,281L100.2,286L86.4,286z" fill="#dedede"/><path d="M86.4,281L99.9,281L93.1,282.5z" fill="#ececec"/><path d="M86.4,281L93.1,282.5L86.4,286z" fill="#cdcdcd"/><path d="M86.4,286L93.1,282.5L99.9,286z" fill="#a4a4a4"/><path d="M99.9,281L113.8,281L113.8,286L99.9,286z" fill="#dedede"/><path d="M99.9,281L113.5,281L106.7,282.5z" fill="#ececec"/><path d="M99.9,281L106.7,282.5L99.9,286z" fill="#cdcdcd"/><path d="M99.9,286L106.7,282.5L113.5,286z" fill="#a4a4a4"/><path d="M113.5,281L127.3,281L127.3,286L113.5,286z" fill="#f4aad4"/><path d="M113.5,281L127,281L120.3,282.5z" fill="#fab6dc"/><path d="M113.5,281L120.3,282.5L113.5,286z" fill="#e89cc8"/><path d="M113.5,286L120.3,282.5L127,286z" fill="#c886b0"/><path d="M127,281L140.9,281L140.9,286L127,286z" fill="#dedede"/><path d="M127,281L140.6,281L133.8,282.5z" fill="#ececec"/><path d="M127,281L133.8,282.5L127,286z" fill="#cdcdcd"/><path d="M127,286L133.8,282.5L140.6,286z" fill="#a4a4a4"/><path d="M140.6,281L154.4,281L154.4,286L140.6,286z" fill="#bce4f6"/><path d="M140.6,281L154.1,281L147.4,282.5z" fill="#d2f0fc"/><path d="M140.6,281L147.4,282.5L140.6,286z" fill="#a8d8ee"/><path d="M140.6,286L147.4,282.5L154.1,286z" fill="#86b6ce"/><path d="M79.9,285L93.8,285L93.8,290.5L79.9,290.5z" fill="#bce4f6"/><path d="M79.9,285L93.5,285L86.7,286.6z" fill="#d2f0fc"/><path d="M79.9,285L86.7,286.6L79.9,290.5z" fill="#a8d8ee"/><path d="M79.9,290.5L86.7,286.6L93.5,290.5z" fill="#86b6ce"/><path d="M93.5,285L107.3,285L107.3,290.5L93.5,290.5z" fill="#dedede"/><path d="M93.5,285L107,285L100.2,286.6z" fill="#ececec"/><path d="M93.5,285L100.2,286.6L93.5,290.5z" fill="#cdcdcd"/><path d="M93.5,290.5L100.2,286.6L107,290.5z" fill="#a4a4a4"/><path d="M107,285L120.8,285L120.8,290.5L107,290.5z" fill="#dedede"/><path d="M107,285L120.5,285L113.7,286.7z" fill="#ececec"/><path d="M107,285L113.7,286.7L107,290.5z" fill="#cdcdcd"/><path d="M107,290.5L113.7,286.7L120.5,290.5z" fill="#a4a4a4"/><path d="M120.5,285L134.3,285L134.3,290.5L120.5,290.5z" fill="#dedede"/><path d="M120.5,285L134,285L127.3,286.6z" fill="#ececec"/><path d="M120.5,285L127.3,286.6L120.5,290.5z" fill="#cdcdcd"/><path d="M120.5,290.5L127.3,286.6L134,290.5z" fill="#a4a4a4"/><path d="M134,285L147.8,285L147.8,290.5L134,290.5z" fill="#dedede"/><path d="M134,285L147.6,285L140.8,286.6z" fill="#ececec"/><path d="M134,285L140.8,286.6L134,290.5z" fill="#cdcdcd"/><path d="M134,290.5L140.8,286.6L147.6,290.5z" fill="#a4a4a4"/><path d="M147.6,285L161.4,285L161.4,290.5L147.6,290.5z" fill="#dedede"/><path d="M147.6,285L161.1,285L154.3,286.7z" fill="#ececec"/><path d="M147.6,285L154.3,286.7L147.6,290.5z" fill="#cdcdcd"/><path d="M147.6,290.5L154.3,286.7L161.1,290.5z" fill="#a4a4a4"/><path d="M74,289L87.7,289L87.7,301L74,301z" fill="#dedede"/><path d="M74,289L87.4,289L80.7,292.6z" fill="#ececec"/><path d="M74,289L80.7,292.6L74,301z" fill="#cdcdcd"/><path d="M74,301L80.7,292.6L87.4,301z" fill="#a4a4a4"/><path d="M87.4,289L101.2,289L101.2,301L87.4,301z" fill="#dedede"/><path d="M87.4,289L100.9,289L94.1,292.6z" fill="#ececec"/><path d="M87.4,289L94.1,292.6L87.4,301z" fill="#cdcdcd"/><path d="M87.4,301L94.1,292.6L100.9,301z" fill="#a4a4a4"/><path d="M100.9,289L114.6,289L114.6,301L100.9,301z" fill="#dedede"/><path d="M100.9,289L114.3,289L107.6,292.6z" fill="#ececec"/><path d="M100.9,289L107.6,292.6L100.9,301z" fill="#cdcdcd"/><path d="M100.9,301L107.6,292.6L114.3,301z" fill="#a4a4a4"/><path d="M114.3,289L128,289L128,301L114.3,301z" fill="#dedede"/><path d="M114.3,289L127.7,289L121,292.6z" fill="#ececec"/><path d="M114.3,289L121,292.6L114.3,301z" fill="#cdcdcd"/><path d="M114.3,301L121,292.6L127.7,301z" fill="#a4a4a4"/><path d="M127.7,289L141.4,289L141.4,301L127.7,301z" fill="#dedede"/><path d="M127.7,289L141.1,289L134.4,292.6z" fill="#ececec"/><path d="M127.7,289L134.4,292.6L127.7,301z" fill="#cdcdcd"/><path d="M127.7,301L134.4,292.6L141.1,301z" fill="#a4a4a4"/><path d="M141.1,289L154.9,289L154.9,301L141.1,301z" fill="#dedede"/><path d="M141.1,289L154.6,289L147.9,292.6z" fill="#ececec"/><path d="M141.1,289L147.9,292.6L141.1,301z" fill="#cdcdcd"/><path d="M141.1,301L147.9,292.6L154.6,301z" fill="#a4a4a4"/><path d="M154.6,289L168.3,289L168.3,301L154.6,301z" fill="#f4aad4"/><path d="M154.6,289L168,289L161.3,292.6z" fill="#fab6dc"/><path d="M154.6,289L161.3,292.6L154.6,301z" fill="#e89cc8"/><path d="M154.6,301L161.3,292.6L168,301z" fill="#c886b0"/><path d="M78.9,294L93.1,294L93.1,305L78.9,305z" fill="#bce4f6"/><path d="M78.9,294L92.8,294L85.9,297.3z" fill="#d2f0fc"/><path d="M78.9,294L85.9,297.3L78.9,305z" fill="#a8d8ee"/><path d="M78.9,305L85.9,297.3L92.8,305z" fill="#86b6ce"/><path d="M92.8,294L106.9,294L106.9,305L92.8,305z" fill="#dedede"/><path d="M92.8,294L106.7,294L99.7,297.3z" fill="#ececec"/><path d="M92.8,294L99.7,297.3L92.8,305z" fill="#cdcdcd"/><path d="M92.8,305L99.7,297.3L106.7,305z" fill="#a4a4a4"/><path d="M106.7,294L120.8,294L120.8,305L106.7,305z" fill="#dedede"/><path d="M106.7,294L120.5,294L113.6,297.3z" fill="#ececec"/><path d="M106.7,294L113.6,297.3L106.7,305z" fill="#cdcdcd"/><path d="M106.7,305L113.6,297.3L120.5,305z" fill="#a4a4a4"/><path d="M120.5,294L134.7,294L134.7,305L120.5,305z" fill="#dedede"/><path d="M120.5,294L134.4,294L127.4,297.3z" fill="#ececec"/><path d="M120.5,294L127.4,297.3L120.5,305z" fill="#cdcdcd"/><path d="M120.5,305L127.4,297.3L134.4,305z" fill="#a4a4a4"/><path d="M134.4,294L148.5,294L148.5,305L134.4,305z" fill="#dedede"/><path d="M134.4,294L148.2,294L141.3,297.3z" fill="#ececec"/><path d="M134.4,294L141.3,297.3L134.4,305z" fill="#cdcdcd"/><path d="M134.4,305L141.3,297.3L148.2,305z" fill="#a4a4a4"/><path d="M148.2,294L162.4,294L162.4,305L148.2,305z" fill="#dedede"/><path d="M148.2,294L162.1,294L155.1,297.3z" fill="#ececec"/><path d="M148.2,294L155.1,297.3L148.2,305z" fill="#cdcdcd"/><path d="M148.2,305L155.1,297.3L162.1,305z" fill="#a4a4a4"/><path d="M87.9,301L103.2,301L103.2,315L87.9,315z" fill="#dedede"/><path d="M87.9,301L102.9,301L95.4,305.2z" fill="#ececec"/><path d="M87.9,301L95.4,305.2L87.9,315z" fill="#cdcdcd"/><path d="M87.9,315L95.4,305.2L102.9,315z" fill="#a4a4a4"/><path d="M102.9,301L118.3,301L118.3,315L102.9,315z" fill="#f4aad4"/><path d="M102.9,301L118,301L110.5,305.2z" fill="#fab6dc"/><path d="M102.9,301L110.5,305.2L102.9,315z" fill="#e89cc8"/><path d="M102.9,315L110.5,305.2L118,315z" fill="#c886b0"/><path d="M118,301L133.4,301L133.4,315L118,315z" fill="#dedede"/><path d="M118,301L133.1,301L125.6,305.2z" fill="#ececec"/><path d="M118,301L125.6,305.2L118,315z" fill="#cdcdcd"/><path d="M118,315L125.6,305.2L133.1,315z" fill="#a4a4a4"/><path d="M133.1,301L148.5,301L148.5,315L133.1,315z" fill="#dedede"/><path d="M133.1,301L148.2,301L140.7,305.2z" fill="#ececec"/><path d="M133.1,301L140.7,305.2L133.1,315z" fill="#cdcdcd"/><path d="M133.1,315L140.7,305.2L148.2,315z" fill="#a4a4a4"/><circle cx="113.2" cy="278.5" r="1.8" fill="#dc9c00"/><circle cx="80.7" cy="292.6" r="1.8" fill="#dc9c00"/><circle cx="110.5" cy="305.2" r="1.8" fill="#dc9c00"/><circle cx="93.1" cy="282.5" r="1.8" fill="#dc9c00"/><circle cx="120.3" cy="282.5" r="1.8" fill="#dc9c00"/><circle cx="140.7" cy="305.2" r="1.8" fill="#dc9c00"/><circle cx="107.6" cy="292.6" r="1.8" fill="#dc9c00"/><circle cx="141.3" cy="297.3" r="1.8" fill="#dc9c00"/><circle cx="113.7" cy="286.7" r="1.8" fill="#dc9c00"/><circle cx="127.4" cy="297.3" r="1.8" fill="#dc9c00"/>
<path d="M95.8,317L109.7,317L109.7,322L95.8,322z" fill="#dedede"/><path d="M95.8,317L109.4,317L102.6,318.5z" fill="#ececec"/><path d="M95.8,317L102.6,318.5L95.8,322z" fill="#cdcdcd"/><path d="M95.8,322L102.6,318.5L109.4,322z" fill="#a4a4a4"/><path d="M109.4,317L123.3,317L123.3,322L109.4,322z" fill="#bce4f6"/><path d="M109.4,317L123,317L116.2,318.5z" fill="#d2f0fc"/><path d="M109.4,317L116.2,318.5L109.4,322z" fill="#a8d8ee"/><path d="M109.4,322L116.2,318.5L123,322z" fill="#86b6ce"/><path d="M123,317L136.9,317L136.9,322L123,322z" fill="#dedede"/><path d="M123,317L136.6,317L129.8,318.5z" fill="#ececec"/><path d="M123,317L129.8,318.5L123,322z" fill="#cdcdcd"/><path d="M123,322L129.8,318.5L136.6,322z" fill="#a4a4a4"/><path d="M136.6,317L150.5,317L150.5,322L136.6,322z" fill="#dedede"/><path d="M136.6,317L150.2,317L143.4,318.5z" fill="#ececec"/><path d="M136.6,317L143.4,318.5L136.6,322z" fill="#cdcdcd"/><path d="M136.6,322L143.4,318.5L150.2,322z" fill="#a4a4a4"/><path d="M89.4,321L103.2,321L103.2,326L89.4,326z" fill="#dedede"/><path d="M89.4,321L102.9,321L96.1,322.5z" fill="#ececec"/><path d="M89.4,321L96.1,322.5L89.4,326z" fill="#cdcdcd"/><path d="M89.4,326L96.1,322.5L102.9,326z" fill="#a4a4a4"/><path d="M102.9,321L116.8,321L116.8,326L102.9,326z" fill="#dedede"/><path d="M102.9,321L116.5,321L109.7,322.5z" fill="#ececec"/><path d="M102.9,321L109.7,322.5L102.9,326z" fill="#cdcdcd"/><path d="M102.9,326L109.7,322.5L116.5,326z" fill="#a4a4a4"/><path d="M116.5,321L130.3,321L130.3,326L116.5,326z" fill="#f4aad4"/><path d="M116.5,321L130,321L123.3,322.5z" fill="#fab6dc"/><path d="M116.5,321L123.3,322.5L116.5,326z" fill="#e89cc8"/><path d="M116.5,326L123.3,322.5L130,326z" fill="#c886b0"/><path d="M130,321L143.9,321L143.9,326L130,326z" fill="#dedede"/><path d="M130,321L143.6,321L136.8,322.5z" fill="#ececec"/><path d="M130,321L136.8,322.5L130,326z" fill="#cdcdcd"/><path d="M130,326L136.8,322.5L143.6,326z" fill="#a4a4a4"/><path d="M143.6,321L157.4,321L157.4,326L143.6,326z" fill="#bce4f6"/><path d="M143.6,321L157.1,321L150.4,322.5z" fill="#d2f0fc"/><path d="M143.6,321L150.4,322.5L143.6,326z" fill="#a8d8ee"/><path d="M143.6,326L150.4,322.5L157.1,326z" fill="#86b6ce"/><path d="M82.9,325L96.8,325L96.8,330.5L82.9,330.5z" fill="#dedede"/><path d="M82.9,325L96.5,325L89.7,326.6z" fill="#ececec"/><path d="M82.9,325L89.7,326.6L82.9,330.5z" fill="#cdcdcd"/><path d="M82.9,330.5L89.7,326.6L96.5,330.5z" fill="#a4a4a4"/><path d="M96.5,325L110.3,325L110.3,330.5L96.5,330.5z" fill="#bce4f6"/><path d="M96.5,325L110,325L103.2,326.6z" fill="#d2f0fc"/><path d="M96.5,325L103.2,326.6L96.5,330.5z" fill="#a8d8ee"/><path d="M96.5,330.5L103.2,326.6L110,330.5z" fill="#86b6ce"/><path d="M110,325L123.8,325L123.8,330.5L110,330.5z" fill="#dedede"/><path d="M110,325L123.5,325L116.7,326.7z" fill="#ececec"/><path d="M110,325L116.7,326.7L110,330.5z" fill="#cdcdcd"/><path d="M110,330.5L116.7,326.7L123.5,330.5z" fill="#a4a4a4"/><path d="M123.5,325L137.3,325L137.3,330.5L123.5,330.5z" fill="#dedede"/><path d="M123.5,325L137,325L130.3,326.7z" fill="#ececec"/><path d="M123.5,325L130.3,326.7L123.5,330.5z" fill="#cdcdcd"/><path d="M123.5,330.5L130.3,326.7L137,330.5z" fill="#a4a4a4"/><path d="M137,325L150.8,325L150.8,330.5L137,330.5z" fill="#bce4f6"/><path d="M137,325L150.6,325L143.8,326.6z" fill="#d2f0fc"/><path d="M137,325L143.8,326.6L137,330.5z" fill="#a8d8ee"/><path d="M137,330.5L143.8,326.6L150.6,330.5z" fill="#86b6ce"/><path d="M150.6,325L164.4,325L164.4,330.5L150.6,330.5z" fill="#dedede"/><path d="M150.6,325L164.1,325L157.3,326.6z" fill="#ececec"/><path d="M150.6,325L157.3,326.6L150.6,330.5z" fill="#cdcdcd"/><path d="M150.6,330.5L157.3,326.6L164.1,330.5z" fill="#a4a4a4"/><path d="M77,329L90.7,329L90.7,341L77,341z" fill="#f4aad4"/><path d="M77,329L90.4,329L83.7,332.6z" fill="#fab6dc"/><path d="M77,329L83.7,332.6L77,341z" fill="#e89cc8"/><path d="M77,341L83.7,332.6L90.4,341z" fill="#c886b0"/><path d="M90.4,329L104.2,329L104.2,341L90.4,341z" fill="#dedede"/><path d="M90.4,329L103.9,329L97.1,332.6z" fill="#ececec"/><path d="M90.4,329L97.1,332.6L90.4,341z" fill="#cdcdcd"/><path d="M90.4,341L97.1,332.6L103.9,341z" fill="#a4a4a4"/><path d="M103.9,329L117.6,329L117.6,341L103.9,341z" fill="#dedede"/><path d="M103.9,329L117.3,329L110.6,332.6z" fill="#ececec"/><path d="M103.9,329L110.6,332.6L103.9,341z" fill="#cdcdcd"/><path d="M103.9,341L110.6,332.6L117.3,341z" fill="#a4a4a4"/><path d="M117.3,329L131,329L131,341L117.3,341z" fill="#dedede"/><path d="M117.3,329L130.7,329L124,332.6z" fill="#ececec"/><path d="M117.3,329L124,332.6L117.3,341z" fill="#cdcdcd"/><path d="M117.3,341L124,332.6L130.7,341z" fill="#a4a4a4"/><path d="M130.7,329L144.4,329L144.4,341L130.7,341z" fill="#dedede"/><path d="M130.7,329L144.1,329L137.4,332.6z" fill="#ececec"/><path d="M130.7,329L137.4,332.6L130.7,341z" fill="#cdcdcd"/><path d="M130.7,341L137.4,332.6L144.1,341z" fill="#a4a4a4"/><path d="M144.1,329L157.9,329L157.9,341L144.1,341z" fill="#bce4f6"/><path d="M144.1,329L157.6,329L150.9,332.6z" fill="#d2f0fc"/><path d="M144.1,329L150.9,332.6L144.1,341z" fill="#a8d8ee"/><path d="M144.1,341L150.9,332.6L157.6,341z" fill="#86b6ce"/><path d="M157.6,329L171.3,329L171.3,341L157.6,341z" fill="#f4aad4"/><path d="M157.6,329L171,329L164.3,332.6z" fill="#fab6dc"/><path d="M157.6,329L164.3,332.6L157.6,341z" fill="#e89cc8"/><path d="M157.6,341L164.3,332.6L171,341z" fill="#c886b0"/><path d="M81.9,334L96.1,334L96.1,345L81.9,345z" fill="#dedede"/><path d="M81.9,334L95.8,334L88.9,337.3z" fill="#ececec"/><path d="M81.9,334L88.9,337.3L81.9,345z" fill="#cdcdcd"/><path d="M81.9,345L88.9,337.3L95.8,345z" fill="#a4a4a4"/><path d="M95.8,334L109.9,334L109.9,345L95.8,345z" fill="#dedede"/><path d="M95.8,334L109.7,334L102.7,337.3z" fill="#ececec"/><path d="M95.8,334L102.7,337.3L95.8,345z" fill="#cdcdcd"/><path d="M95.8,345L102.7,337.3L109.7,345z" fill="#a4a4a4"/><path d="M109.7,334L123.8,334L123.8,345L109.7,345z" fill="#bce4f6"/><path d="M109.7,334L123.5,334L116.6,337.3z" fill="#d2f0fc"/><path d="M109.7,334L116.6,337.3L109.7,345z" fill="#a8d8ee"/><path d="M109.7,345L116.6,337.3L123.5,345z" fill="#86b6ce"/><path d="M123.5,334L137.7,334L137.7,345L123.5,345z" fill="#dedede"/><path d="M123.5,334L137.4,334L130.4,337.3z" fill="#ececec"/><path d="M123.5,334L130.4,337.3L123.5,345z" fill="#cdcdcd"/><path d="M123.5,345L130.4,337.3L137.4,345z" fill="#a4a4a4"/><path d="M137.4,334L151.5,334L151.5,345L137.4,345z" fill="#dedede"/><path d="M137.4,334L151.2,334L144.3,337.3z" fill="#ececec"/><path d="M137.4,334L144.3,337.3L137.4,345z" fill="#cdcdcd"/><path d="M137.4,345L144.3,337.3L151.2,345z" fill="#a4a4a4"/><path d="M151.2,334L165.4,334L165.4,345L151.2,345z" fill="#dedede"/><path d="M151.2,334L165.1,334L158.1,337.3z" fill="#ececec"/><path d="M151.2,334L158.1,337.3L151.2,345z" fill="#cdcdcd"/><path d="M151.2,345L158.1,337.3L165.1,345z" fill="#a4a4a4"/><path d="M90.9,341L106.2,341L106.2,355L90.9,355z" fill="#dedede"/><path d="M90.9,341L105.9,341L98.4,345.2z" fill="#ececec"/><path d="M90.9,341L98.4,345.2L90.9,355z" fill="#cdcdcd"/><path d="M90.9,355L98.4,345.2L105.9,355z" fill="#a4a4a4"/><path d="M105.9,341L121.3,341L121.3,355L105.9,355z" fill="#bce4f6"/><path d="M105.9,341L121,341L113.5,345.2z" fill="#d2f0fc"/><path d="M105.9,341L113.5,345.2L105.9,355z" fill="#a8d8ee"/><path d="M105.9,355L113.5,345.2L121,355z" fill="#86b6ce"/><path d="M121,341L136.4,341L136.4,355L121,355z" fill="#dedede"/><path d="M121,341L136.1,341L128.6,345.2z" fill="#ececec"/><path d="M121,341L128.6,345.2L121,355z" fill="#cdcdcd"/><path d="M121,355L128.6,345.2L136.1,355z" fill="#a4a4a4"/><path d="M136.1,341L151.5,341L151.5,355L136.1,355z" fill="#f4aad4"/><path d="M136.1,341L151.2,341L143.7,345.2z" fill="#fab6dc"/><path d="M136.1,341L143.7,345.2L136.1,355z" fill="#e89cc8"/><path d="M136.1,355L143.7,345.2L151.2,355z" fill="#c886b0"/><circle cx="143.4" cy="318.5" r="1.8" fill="#dc9c00"/><circle cx="124" cy="332.6" r="1.8" fill="#dc9c00"/><circle cx="130.4" cy="337.3" r="1.8" fill="#dc9c00"/><circle cx="150.4" cy="322.5" r="1.8" fill="#dc9c00"/><circle cx="89.7" cy="326.6" r="1.8" fill="#dc9c00"/><circle cx="136.8" cy="322.5" r="1.8" fill="#dc9c00"/><circle cx="128.6" cy="345.2" r="1.8" fill="#dc9c00"/><circle cx="116.2" cy="318.5" r="1.8" fill="#dc9c00"/><circle cx="157.3" cy="326.6" r="1.8" fill="#dc9c00"/><circle cx="116.6" cy="337.3" r="1.8" fill="#dc9c00"/>
<path d="M266.3,288.8L280.6,284L279.8,292.7L265.8,297.1z" fill="#dedede"/><path d="M266.3,288.8L280.3,284.1L273.1,289z" fill="#ececec"/><path d="M266.3,288.8L273.1,289L265.8,297.1z" fill="#cdcdcd"/><path d="M265.8,297.1L273.1,289L279.5,292.8z" fill="#a4a4a4"/><path d="M280.3,284.1L294.5,279.2L293.5,288.3L279.5,292.8z" fill="#bce4f6"/><path d="M280.3,284.1L294.2,279.3L287,284.4z" fill="#d2f0fc"/><path d="M280.3,284.1L287,284.4L279.5,292.8z" fill="#a8d8ee"/><path d="M279.5,292.8L287,284.4L293.2,288.4z" fill="#86b6ce"/><path d="M294.2,279.3L308.4,274.5L307.2,284L293.2,288.4z" fill="#dedede"/><path d="M294.2,279.3L308.1,274.6L300.8,279.8z" fill="#ececec"/><path d="M294.2,279.3L300.8,279.8L293.2,288.4z" fill="#cdcdcd"/><path d="M293.2,288.4L300.8,279.8L306.9,284.1z" fill="#a4a4a4"/><path d="M308.1,274.6L322.3,269.7L320.9,279.6L306.9,284.1z" fill="#bce4f6"/><path d="M308.1,274.6L322,269.9L314.7,275.1z" fill="#d2f0fc"/><path d="M308.1,274.6L314.7,275.1L306.9,284.1z" fill="#a8d8ee"/><path d="M306.9,284.1L314.7,275.1L320.6,279.7z" fill="#86b6ce"/><path d="M262,295.7L275.5,291.3L274.8,300.8L261.5,304.8z" fill="#dedede"/><path d="M262,295.7L275.2,291.4L268.4,296.3z" fill="#ececec"/><path d="M262,295.7L268.4,296.3L261.5,304.8z" fill="#cdcdcd"/><path d="M261.5,304.8L268.4,296.3L274.5,300.9z" fill="#a4a4a4"/><path d="M275.2,291.4L288.7,287L287.7,296.9L274.5,300.9z" fill="#f4aad4"/><path d="M275.2,291.4L288.4,287.1L281.6,292.1z" fill="#fab6dc"/><path d="M275.2,291.4L281.6,292.1L274.5,300.9z" fill="#e89cc8"/><path d="M274.5,300.9L281.6,292.1L287.4,297z" fill="#c886b0"/><path d="M288.4,287.1L301.9,282.7L300.7,293L287.4,297z" fill="#dedede"/><path d="M288.4,287.1L301.6,282.8L294.7,287.9z" fill="#ececec"/><path d="M288.4,287.1L294.7,287.9L287.4,297z" fill="#cdcdcd"/><path d="M287.4,297L294.7,287.9L300.4,293.1z" fill="#a4a4a4"/><path d="M301.6,282.8L315.2,278.4L313.7,289.1L300.4,293.1z" fill="#f4aad4"/><path d="M301.6,282.8L314.9,278.5L307.8,283.8z" fill="#fab6dc"/><path d="M301.6,282.8L307.8,283.8L300.4,293.1z" fill="#e89cc8"/><path d="M300.4,293.1L307.8,283.8L313.4,289.2z" fill="#c886b0"/><path d="M314.9,278.5L328.4,274L326.6,285.2L313.4,289.2z" fill="#dedede"/><path d="M314.9,278.5L328.1,274.1L321,279.6z" fill="#ececec"/><path d="M314.9,278.5L321,279.6L313.4,289.2z" fill="#cdcdcd"/><path d="M313.4,289.2L321,279.6L326.3,285.3z" fill="#a4a4a4"/><path d="M257.8,302.3L270.8,298.3L270,308.6L257.3,312.2z" fill="#dedede"/><path d="M257.8,302.3L270.5,298.4L263.9,303.4z" fill="#ececec"/><path d="M257.8,302.3L263.9,303.4L257.3,312.2z" fill="#cdcdcd"/><path d="M257.3,312.2L263.9,303.4L269.7,308.7z" fill="#a4a4a4"/><path d="M270.5,298.4L283.5,294.4L282.5,305.1L269.7,308.7z" fill="#dedede"/><path d="M270.5,298.4L283.2,294.5L276.6,299.6z" fill="#ececec"/><path d="M270.5,298.4L276.6,299.6L269.7,308.7z" fill="#cdcdcd"/><path d="M269.7,308.7L276.6,299.6L282.2,305.2z" fill="#a4a4a4"/><path d="M283.2,294.5L296.1,290.4L294.9,301.6L282.2,305.2z" fill="#dedede"/><path d="M283.2,294.5L295.9,290.5L289.2,295.8z" fill="#ececec"/><path d="M283.2,294.5L289.2,295.8L282.2,305.2z" fill="#cdcdcd"/><path d="M282.2,305.2L289.2,295.8L294.6,301.7z" fill="#a4a4a4"/><path d="M295.9,290.5L308.8,286.5L307.3,298.2L294.6,301.7z" fill="#dedede"/><path d="M295.9,290.5L308.5,286.6L301.8,292z" fill="#ececec"/><path d="M295.9,290.5L301.8,292L294.6,301.7z" fill="#cdcdcd"/><path d="M294.6,301.7L301.8,292L307,298.2z" fill="#a4a4a4"/><path d="M308.5,286.6L321.5,282.6L319.7,294.7L307,298.2z" fill="#dedede"/><path d="M308.5,286.6L321.2,282.6L314.4,288.2z" fill="#ececec"/><path d="M308.5,286.6L314.4,288.2L307,298.2z" fill="#cdcdcd"/><path d="M307,298.2L314.4,288.2L319.4,294.7z" fill="#a4a4a4"/><path d="M321.2,282.6L334.2,278.6L332.2,291.2L319.4,294.7z" fill="#f4aad4"/><path d="M321.2,282.6L333.9,278.7L327,284.4z" fill="#fab6dc"/><path d="M321.2,282.6L327,284.4L319.4,294.7z" fill="#e89cc8"/><path d="M319.4,294.7L327,284.4L331.9,291.3z" fill="#c886b0"/><path d="M253.6,308.9L266.2,305.2L265.5,316.3L253.2,319.5z" fill="#bce4f6"/><path d="M253.6,308.9L265.9,305.3L259.6,310.3z" fill="#d2f0fc"/><path d="M253.6,308.9L259.6,310.3L253.2,319.5z" fill="#a8d8ee"/><path d="M253.2,319.5L259.6,310.3L265.2,316.3z" fill="#86b6ce"/><path d="M265.9,305.3L278.5,301.5L277.5,313.1L265.2,316.3z" fill="#dedede"/><path d="M265.9,305.3L278.2,301.6L271.8,306.8z" fill="#ececec"/><path d="M265.9,305.3L271.8,306.8L265.2,316.3z" fill="#cdcdcd"/><path d="M265.2,316.3L271.8,306.8L277.2,313.2z" fill="#a4a4a4"/><path d="M278.2,301.6L290.8,297.9L289.5,310L277.2,313.2z" fill="#dedede"/><path d="M278.2,301.6L290.5,298L284,303.4z" fill="#ececec"/><path d="M278.2,301.6L284,303.4L277.2,313.2z" fill="#cdcdcd"/><path d="M277.2,313.2L284,303.4L289.2,310.1z" fill="#a4a4a4"/><path d="M290.5,298L303.1,294.3L301.5,306.8L289.2,310.1z" fill="#dedede"/><path d="M290.5,298L302.8,294.4L296.2,299.9z" fill="#ececec"/><path d="M290.5,298L296.2,299.9L289.2,310.1z" fill="#cdcdcd"/><path d="M289.2,310.1L296.2,299.9L301.2,306.9z" fill="#a4a4a4"/><path d="M302.8,294.4L315.4,290.7L313.5,303.7L301.2,306.9z" fill="#dedede"/><path d="M302.8,294.4L315.1,290.8L308.4,296.4z" fill="#ececec"/><path d="M302.8,294.4L308.4,296.4L301.2,306.9z" fill="#cdcdcd"/><path d="M301.2,306.9L308.4,296.4L313.2,303.8z" fill="#a4a4a4"/><path d="M315.1,290.8L327.7,287.1L325.5,300.6L313.2,303.8z" fill="#dedede"/><path d="M315.1,290.8L327.4,287.2L320.6,292.9z" fill="#ececec"/><path d="M315.1,290.8L320.6,292.9L313.2,303.8z" fill="#cdcdcd"/><path d="M313.2,303.8L320.6,292.9L325.2,300.6z" fill="#a4a4a4"/><path d="M327.4,287.2L339.9,283.5L337.5,297.4L325.2,300.6z" fill="#f4aad4"/><path d="M327.4,287.2L339.7,283.5L332.8,289.5z" fill="#fab6dc"/><path d="M327.4,287.2L332.8,289.5L325.2,300.6z" fill="#e89cc8"/><path d="M325.2,300.6L332.8,289.5L337.2,297.5z" fill="#c886b0"/><path d="M257.3,313.1L269.3,309.7L268.4,322.8L256.7,325.6z" fill="#dedede"/><path d="M257.3,313.1L269,309.8L262.9,315.3z" fill="#ececec"/><path d="M257.3,313.1L262.9,315.3L256.7,325.6z" fill="#cdcdcd"/><path d="M256.7,325.6L262.9,315.3L268.2,322.9z" fill="#a4a4a4"/><path d="M269,309.8L281.1,306.5L279.9,320.1L268.2,322.9z" fill="#dedede"/><path d="M269,309.8L280.8,306.6L274.6,312.2z" fill="#ececec"/><path d="M269,309.8L274.6,312.2L268.2,322.9z" fill="#cdcdcd"/><path d="M268.2,322.9L274.6,312.2L279.6,320.2z" fill="#a4a4a4"/><path d="M280.8,306.6L292.8,303.2L291.3,317.4L279.6,320.2z" fill="#f4aad4"/><path d="M280.8,306.6L292.5,303.3L286.3,309.1z" fill="#fab6dc"/><path d="M280.8,306.6L286.3,309.1L279.6,320.2z" fill="#e89cc8"/><path d="M279.6,320.2L286.3,309.1L291,317.4z" fill="#c886b0"/><path d="M292.5,303.3L304.6,299.9L302.7,314.7L291,317.5z" fill="#dedede"/><path d="M292.5,303.3L304.3,300L297.9,306z" fill="#ececec"/><path d="M292.5,303.3L297.9,306L291,317.5z" fill="#cdcdcd"/><path d="M291,317.5L297.9,306L302.4,314.7z" fill="#a4a4a4"/><path d="M304.3,300L316.3,296.7L314.1,311.9L302.4,314.7z" fill="#f4aad4"/><path d="M304.3,300L316.1,296.7L309.6,302.9z" fill="#fab6dc"/><path d="M304.3,300L309.6,302.9L302.4,314.7z" fill="#e89cc8"/><path d="M302.4,314.7L309.6,302.9L313.8,312z" fill="#c886b0"/><path d="M316.1,296.7L328.1,293.4L325.6,309.2L313.8,312z" fill="#dedede"/><path d="M316.1,296.7L327.8,293.5L321.2,299.8z" fill="#ececec"/><path d="M316.1,296.7L321.2,299.8L313.8,312z" fill="#cdcdcd"/><path d="M313.8,312L321.2,299.8L325.3,309.3z" fill="#a4a4a4"/><circle cx="289.2" cy="295.8" r="1.8" fill="#dc9c00"/><circle cx="287" cy="284.4" r="1.8" fill="#dc9c00"/><circle cx="273.1" cy="289" r="1.8" fill="#dc9c00"/><circle cx="314.4" cy="288.2" r="1.8" fill="#dc9c00"/><circle cx="294.7" cy="287.9" r="1.8" fill="#dc9c00"/><circle cx="263.9" cy="303.4" r="1.8" fill="#dc9c00"/><circle cx="301.8" cy="292" r="1.8" fill="#dc9c00"/><circle cx="307.8" cy="283.8" r="1.8" fill="#dc9c00"/>
<path d="M280.2,322L293.7,322L293.7,327.7L280.2,327.7z" fill="#dedede"/><path d="M280.2,322L293.4,322L286.8,323.7z" fill="#ececec"/><path d="M280.2,322L286.8,323.7L280.2,327.7z" fill="#cdcdcd"/><path d="M280.2,327.7L286.8,323.7L293.4,327.7z" fill="#a4a4a4"/><path d="M293.4,322L306.8,322L306.8,327.7L293.4,327.7z" fill="#bce4f6"/><path d="M293.4,322L306.5,322L300,323.7z" fill="#d2f0fc"/><path d="M293.4,322L300,323.7L293.4,327.7z" fill="#a8d8ee"/><path d="M293.4,327.7L300,323.7L306.5,327.7z" fill="#86b6ce"/><path d="M306.5,322L320,322L320,327.7L306.5,327.7z" fill="#dedede"/><path d="M306.5,322L319.7,322L313.1,323.7z" fill="#ececec"/><path d="M306.5,322L313.1,323.7L306.5,327.7z" fill="#cdcdcd"/><path d="M306.5,327.7L313.1,323.7L319.7,327.7z" fill="#a4a4a4"/><path d="M319.7,322L333.2,322L333.2,327.7L319.7,327.7z" fill="#dedede"/><path d="M319.7,322L332.9,322L326.3,323.7z" fill="#ececec"/><path d="M319.7,322L326.3,323.7L319.7,327.7z" fill="#cdcdcd"/><path d="M319.7,327.7L326.3,323.7L332.9,327.7z" fill="#a4a4a4"/><path d="M274,326.6L287.4,326.6L287.4,332.3L274,332.3z" fill="#dedede"/><path d="M274,326.6L287.1,326.6L280.5,328.3z" fill="#ececec"/><path d="M274,326.6L280.5,328.3L274,332.3z" fill="#cdcdcd"/><path d="M274,332.3L280.5,328.3L287.1,332.3z" fill="#a4a4a4"/><path d="M287.1,326.6L300.5,326.6L300.5,332.3L287.1,332.3z" fill="#f4aad4"/><path d="M287.1,326.6L300.2,326.6L293.7,328.3z" fill="#fab6dc"/><path d="M287.1,326.6L293.7,328.3L287.1,332.3z" fill="#e89cc8"/><path d="M287.1,332.3L293.7,328.3L300.2,332.3z" fill="#c886b0"/><path d="M300.2,326.6L313.6,326.6L313.6,332.3L300.2,332.3z" fill="#dedede"/><path d="M300.2,326.6L313.3,326.6L306.8,328.3z" fill="#ececec"/><path d="M300.2,326.6L306.8,328.3L300.2,332.3z" fill="#cdcdcd"/><path d="M300.2,332.3L306.8,328.3L313.3,332.3z" fill="#a4a4a4"/><path d="M313.3,326.6L326.8,326.6L326.8,332.3L313.3,332.3z" fill="#f4aad4"/><path d="M313.3,326.6L326.5,326.6L319.9,328.3z" fill="#fab6dc"/><path d="M313.3,326.6L319.9,328.3L313.3,332.3z" fill="#e89cc8"/><path d="M313.3,332.3L319.9,328.3L326.5,332.3z" fill="#c886b0"/><path d="M326.5,326.6L339.9,326.6L339.9,332.3L326.5,332.3z" fill="#dedede"/><path d="M326.5,326.6L339.6,326.6L333,328.3z" fill="#ececec"/><path d="M326.5,326.6L333,328.3L326.5,332.3z" fill="#cdcdcd"/><path d="M326.5,332.3L333,328.3L339.6,332.3z" fill="#a4a4a4"/><path d="M267.7,331.2L281.1,331.2L281.1,337.5L267.7,337.5z" fill="#dedede"/><path d="M267.7,331.2L280.8,331.2L274.3,333z" fill="#ececec"/><path d="M267.7,331.2L274.3,333L267.7,337.5z" fill="#cdcdcd"/><path d="M267.7,337.5L274.3,333L280.8,337.5z" fill="#a4a4a4"/><path d="M280.8,331.2L294.2,331.2L294.2,337.5L280.8,337.5z" fill="#dedede"/><path d="M280.8,331.2L293.9,331.2L287.4,333z" fill="#ececec"/><path d="M280.8,331.2L287.4,333L280.8,337.5z" fill="#cdcdcd"/><path d="M280.8,337.5L287.4,333L293.9,337.5z" fill="#a4a4a4"/><path d="M293.9,331.2L307.3,331.2L307.3,337.5L293.9,337.5z" fill="#dedede"/><path d="M293.9,331.2L307,331.2L300.5,333z" fill="#ececec"/><path d="M293.9,331.2L300.5,333L293.9,337.5z" fill="#cdcdcd"/><path d="M293.9,337.5L300.5,333L307,337.5z" fill="#a4a4a4"/><path d="M307,331.2L320.4,331.2L320.4,337.5L307,337.5z" fill="#dedede"/><path d="M307,331.2L320.1,331.2L313.6,333z" fill="#ececec"/><path d="M307,331.2L313.6,333L307,337.5z" fill="#cdcdcd"/><path d="M307,337.5L313.6,333L320.1,337.5z" fill="#a4a4a4"/><path d="M320.1,331.2L333.5,331.2L333.5,337.5L320.1,337.5z" fill="#bce4f6"/><path d="M320.1,331.2L333.2,331.2L326.7,333z" fill="#d2f0fc"/><path d="M320.1,331.2L326.7,333L320.1,337.5z" fill="#a8d8ee"/><path d="M320.1,337.5L326.7,333L333.2,337.5z" fill="#86b6ce"/><path d="M333.2,331.2L346.6,331.2L346.6,337.5L333.2,337.5z" fill="#dedede"/><path d="M333.2,331.2L346.3,331.2L339.7,333z" fill="#ececec"/><path d="M333.2,331.2L339.7,333L333.2,337.5z" fill="#cdcdcd"/><path d="M333.2,337.5L339.7,333L346.3,337.5z" fill="#a4a4a4"/><path d="M262,335.7L275.3,335.7L275.3,349.5L262,349.5z" fill="#f4aad4"/><path d="M262,335.7L275,335.7L268.5,339.9z" fill="#fab6dc"/><path d="M262,335.7L268.5,339.9L262,349.5z" fill="#e89cc8"/><path d="M262,349.5L268.5,339.9L275,349.5z" fill="#c886b0"/><path d="M275,335.7L288.3,335.7L288.3,349.5L275,349.5z" fill="#dedede"/><path d="M275,335.7L288,335.7L281.5,339.9z" fill="#ececec"/><path d="M275,335.7L281.5,339.9L275,349.5z" fill="#cdcdcd"/><path d="M275,349.5L281.5,339.9L288,349.5z" fill="#a4a4a4"/><path d="M288,335.7L301.3,335.7L301.3,349.5L288,349.5z" fill="#dedede"/><path d="M288,335.7L301,335.7L294.5,339.9z" fill="#ececec"/><path d="M288,335.7L294.5,339.9L288,349.5z" fill="#cdcdcd"/><path d="M288,349.5L294.5,339.9L301,349.5z" fill="#a4a4a4"/><path d="M301,335.7L314.3,335.7L314.3,349.5L301,349.5z" fill="#dedede"/><path d="M301,335.7L314,335.7L307.5,339.9z" fill="#ececec"/><path d="M301,335.7L307.5,339.9L301,349.5z" fill="#cdcdcd"/><path d="M301,349.5L307.5,339.9L314,349.5z" fill="#a4a4a4"/><path d="M314,335.7L327.3,335.7L327.3,349.5L314,349.5z" fill="#dedede"/><path d="M314,335.7L327,335.7L320.5,339.9z" fill="#ececec"/><path d="M314,335.7L320.5,339.9L314,349.5z" fill="#cdcdcd"/><path d="M314,349.5L320.5,339.9L327,349.5z" fill="#a4a4a4"/><path d="M327,335.7L340.3,335.7L340.3,349.5L327,349.5z" fill="#bce4f6"/><path d="M327,335.7L340,335.7L333.5,339.9z" fill="#d2f0fc"/><path d="M327,335.7L333.5,339.9L327,349.5z" fill="#a8d8ee"/><path d="M327,349.5L333.5,339.9L340,349.5z" fill="#86b6ce"/><path d="M340,335.7L353.3,335.7L353.3,349.5L340,349.5z" fill="#f4aad4"/><path d="M340,335.7L353,335.7L346.5,339.9z" fill="#fab6dc"/><path d="M340,335.7L346.5,339.9L340,349.5z" fill="#e89cc8"/><path d="M340,349.5L346.5,339.9L353,349.5z" fill="#c886b0"/><path d="M266.8,341.5L280.5,341.5L280.5,354.1L266.8,354.1z" fill="#dedede"/><path d="M266.8,341.5L280.2,341.5L273.5,345.2z" fill="#ececec"/><path d="M266.8,341.5L273.5,345.2L266.8,354.1z" fill="#cdcdcd"/><path d="M266.8,354.1L273.5,345.2L280.2,354.1z" fill="#a4a4a4"/><path d="M280.2,341.5L293.9,341.5L293.9,354.1L280.2,354.1z" fill="#dedede"/><path d="M280.2,341.5L293.6,341.5L286.9,345.2z" fill="#ececec"/><path d="M280.2,341.5L286.9,345.2L280.2,354.1z" fill="#cdcdcd"/><path d="M280.2,354.1L286.9,345.2L293.6,354.1z" fill="#a4a4a4"/><path d="M293.6,341.5L307.3,341.5L307.3,354.1L293.6,354.1z" fill="#dedede"/><path d="M293.6,341.5L307,341.5L300.3,345.2z" fill="#ececec"/><path d="M293.6,341.5L300.3,345.2L293.6,354.1z" fill="#cdcdcd"/><path d="M293.6,354.1L300.3,345.2L307,354.1z" fill="#a4a4a4"/><path d="M307,341.5L320.7,341.5L320.7,354.1L307,354.1z" fill="#bce4f6"/><path d="M307,341.5L320.4,341.5L313.7,345.2z" fill="#d2f0fc"/><path d="M307,341.5L313.7,345.2L307,354.1z" fill="#a8d8ee"/><path d="M307,354.1L313.7,345.2L320.4,354.1z" fill="#86b6ce"/><path d="M320.4,341.5L334.1,341.5L334.1,354.1L320.4,354.1z" fill="#dedede"/><path d="M320.4,341.5L333.8,341.5L327.1,345.2z" fill="#ececec"/><path d="M320.4,341.5L327.1,345.2L320.4,354.1z" fill="#cdcdcd"/><path d="M320.4,354.1L327.1,345.2L333.8,354.1z" fill="#a4a4a4"/><path d="M333.8,341.5L347.5,341.5L347.5,354.1L333.8,354.1z" fill="#dedede"/><path d="M333.8,341.5L347.3,341.5L340.5,345.2z" fill="#ececec"/><path d="M333.8,341.5L340.5,345.2L333.8,354.1z" fill="#cdcdcd"/><path d="M333.8,354.1L340.5,345.2L347.3,354.1z" fill="#a4a4a4"/><path d="M275.4,349.5L290.3,349.5L290.3,365.5L275.4,365.5z" fill="#dedede"/><path d="M275.4,349.5L290,349.5L282.7,354.3z" fill="#ececec"/><path d="M275.4,349.5L282.7,354.3L275.4,365.5z" fill="#cdcdcd"/><path d="M275.4,365.5L282.7,354.3L290,365.5z" fill="#a4a4a4"/><path d="M290,349.5L304.9,349.5L304.9,365.5L290,365.5z" fill="#f4aad4"/><path d="M290,349.5L304.6,349.5L297.3,354.3z" fill="#fab6dc"/><path d="M290,349.5L297.3,354.3L290,365.5z" fill="#e89cc8"/><path d="M290,365.5L297.3,354.3L304.6,365.5z" fill="#c886b0"/><path d="M304.6,349.5L319.5,349.5L319.5,365.5L304.6,365.5z" fill="#dedede"/><path d="M304.6,349.5L319.2,349.5L311.9,354.3z" fill="#ececec"/><path d="M304.6,349.5L311.9,354.3L304.6,365.5z" fill="#cdcdcd"/><path d="M304.6,365.5L311.9,354.3L319.2,365.5z" fill="#a4a4a4"/><path d="M319.2,349.5L334.1,349.5L334.1,365.5L319.2,365.5z" fill="#f4aad4"/><path d="M319.2,349.5L333.8,349.5L326.5,354.3z" fill="#fab6dc"/><path d="M319.2,349.5L326.5,354.3L319.2,365.5z" fill="#e89cc8"/><path d="M319.2,365.5L326.5,354.3L333.8,365.5z" fill="#c886b0"/><circle cx="333.5" cy="339.9" r="1.8" fill="#dc9c00"/><circle cx="319.9" cy="328.3" r="1.8" fill="#dc9c00"/><circle cx="294.5" cy="339.9" r="1.8" fill="#dc9c00"/><circle cx="287.4" cy="333" r="1.8" fill="#dc9c00"/><circle cx="307.5" cy="339.9" r="1.8" fill="#dc9c00"/><circle cx="297.3" cy="354.3" r="1.8" fill="#dc9c00"/>
<path d="M449,275L462.9,272L461.3,280.5L447.5,283z" fill="#dedede"/><path d="M449,275L462.6,272.1L455.3,276z" fill="#ececec"/><path d="M449,275L455.3,276L447.5,283z" fill="#cdcdcd"/><path d="M447.5,283L455.3,276L461,280.6z" fill="#a4a4a4"/><path d="M462.6,272.1L476.6,269.1L474.8,278.1L461,280.6z" fill="#bce4f6"/><path d="M462.6,272.1L476.3,269.2L468.9,273.3z" fill="#d2f0fc"/><path d="M462.6,272.1L468.9,273.3L461,280.6z" fill="#a8d8ee"/><path d="M461,280.6L468.9,273.3L474.5,278.1z" fill="#86b6ce"/><path d="M476.3,269.2L490.2,266.3L488.2,275.7L474.5,278.1z" fill="#bce4f6"/><path d="M476.3,269.2L489.9,266.3L482.5,270.5z" fill="#d2f0fc"/><path d="M476.3,269.2L482.5,270.5L474.5,278.1z" fill="#a8d8ee"/><path d="M474.5,278.1L482.5,270.5L487.9,275.7z" fill="#86b6ce"/><path d="M489.9,266.3L503.9,263.4L501.7,273.2L487.9,275.7z" fill="#bce4f6"/><path d="M489.9,266.3L503.6,263.4L496.1,267.8z" fill="#d2f0fc"/><path d="M489.9,266.3L496.1,267.8L487.9,275.7z" fill="#a8d8ee"/><path d="M487.9,275.7L496.1,267.8L501.4,273.3z" fill="#86b6ce"/><path d="M444,281.1L457.3,278.5L455.6,287.8L442.5,289.8z" fill="#dedede"/><path d="M444,281.1L457,278.6L450,282.5z" fill="#ececec"/><path d="M444,281.1L450,282.5L442.5,289.8z" fill="#cdcdcd"/><path d="M442.5,289.8L450,282.5L455.3,287.8z" fill="#a4a4a4"/><path d="M457,278.6L470.3,276.1L468.4,285.8L455.3,287.8z" fill="#f4aad4"/><path d="M457,278.6L470,276.1L463,280.2z" fill="#fab6dc"/><path d="M457,278.6L463,280.2L455.3,287.8z" fill="#e89cc8"/><path d="M455.3,287.8L463,280.2L468.1,285.8z" fill="#c886b0"/><path d="M470,276.1L483.3,273.6L481.2,283.8L468.1,285.8z" fill="#dedede"/><path d="M470,276.1L483,273.6L475.9,277.9z" fill="#ececec"/><path d="M470,276.1L475.9,277.9L468.1,285.8z" fill="#cdcdcd"/><path d="M468.1,285.8L475.9,277.9L480.9,283.9z" fill="#a4a4a4"/><path d="M483,273.6L496.3,271.1L494,281.8L480.9,283.9z" fill="#f4aad4"/><path d="M483,273.6L496,271.2L488.9,275.5z" fill="#fab6dc"/><path d="M483,273.6L488.9,275.5L480.9,283.9z" fill="#e89cc8"/><path d="M480.9,283.9L488.9,275.5L493.7,281.9z" fill="#c886b0"/><path d="M496,271.2L509.3,268.6L506.8,279.9L493.7,281.9z" fill="#dedede"/><path d="M496,271.2L509,268.7L501.8,273.2z" fill="#ececec"/><path d="M496,271.2L501.8,273.2L493.7,281.9z" fill="#cdcdcd"/><path d="M493.7,281.9L501.8,273.2L506.6,279.9z" fill="#a4a4a4"/><path d="M439.2,286.9L452,284.8L450.2,294.7L437.5,296.4z" fill="#bce4f6"/><path d="M439.2,286.9L451.7,284.8L444.9,288.8z" fill="#d2f0fc"/><path d="M439.2,286.9L444.9,288.8L437.5,296.4z" fill="#a8d8ee"/><path d="M437.5,296.4L444.9,288.8L449.9,294.8z" fill="#86b6ce"/><path d="M451.7,284.8L464.6,282.7L462.5,293.2L449.9,294.8z" fill="#dedede"/><path d="M451.7,284.8L464.3,282.7L457.4,286.8z" fill="#ececec"/><path d="M451.7,284.8L457.4,286.8L449.9,294.8z" fill="#cdcdcd"/><path d="M449.9,294.8L457.4,286.8L462.2,293.2z" fill="#a4a4a4"/><path d="M464.3,282.7L477.1,280.6L474.8,291.6L462.2,293.2z" fill="#dedede"/><path d="M464.3,282.7L476.8,280.6L469.9,284.9z" fill="#ececec"/><path d="M464.3,282.7L469.9,284.9L462.2,293.2z" fill="#cdcdcd"/><path d="M462.2,293.2L469.9,284.9L474.5,291.6z" fill="#a4a4a4"/><path d="M476.8,280.6L489.6,278.4L487.2,290L474.5,291.6z" fill="#dedede"/><path d="M476.8,280.6L489.3,278.5L482.3,282.9z" fill="#ececec"/><path d="M476.8,280.6L482.3,282.9L474.5,291.6z" fill="#cdcdcd"/><path d="M474.5,291.6L482.3,282.9L486.9,290.1z" fill="#a4a4a4"/><path d="M489.3,278.5L502.1,276.3L499.5,288.5L486.9,290.1z" fill="#dedede"/><path d="M489.3,278.5L501.8,276.4L494.8,281z" fill="#ececec"/><path d="M489.3,278.5L494.8,281L486.9,290.1z" fill="#cdcdcd"/><path d="M486.9,290.1L494.8,281L499.2,288.5z" fill="#a4a4a4"/><path d="M501.8,276.4L514.7,274.2L511.8,286.9L499.2,288.5z" fill="#dedede"/><path d="M501.8,276.4L514.4,274.3L507.3,279z" fill="#ececec"/><path d="M501.8,276.4L507.3,279L499.2,288.5z" fill="#cdcdcd"/><path d="M499.2,288.5L507.3,279L511.6,286.9z" fill="#a4a4a4"/><path d="M434.4,292.6L446.9,290.8L444.9,301.5L432.7,302.7z" fill="#bce4f6"/><path d="M434.4,292.6L446.6,290.9L439.9,294.9z" fill="#d2f0fc"/><path d="M434.4,292.6L439.9,294.9L432.7,302.7z" fill="#a8d8ee"/><path d="M432.7,302.7L439.9,294.9L444.6,301.5z" fill="#86b6ce"/><path d="M446.6,290.9L459,289L456.9,300.3L444.6,301.5z" fill="#dedede"/><path d="M446.6,290.9L458.8,289.1L452.1,293.3z" fill="#ececec"/><path d="M446.6,290.9L452.1,293.3L444.6,301.5z" fill="#cdcdcd"/><path d="M444.6,301.5L452.1,293.3L456.6,300.3z" fill="#a4a4a4"/><path d="M458.8,289.1L471.2,287.3L468.8,299.1L456.6,300.3z" fill="#dedede"/><path d="M458.8,289.1L470.9,287.3L464.2,291.6z" fill="#ececec"/><path d="M458.8,289.1L464.2,291.6L456.6,300.3z" fill="#cdcdcd"/><path d="M456.6,300.3L464.2,291.6L468.6,299.1z" fill="#a4a4a4"/><path d="M470.9,287.3L483.4,285.5L480.8,297.9L468.6,299.1z" fill="#dedede"/><path d="M470.9,287.3L483.1,285.5L476.3,290z" fill="#ececec"/><path d="M470.9,287.3L476.3,290L468.6,299.1z" fill="#cdcdcd"/><path d="M468.6,299.1L476.3,290L480.5,297.9z" fill="#a4a4a4"/><path d="M483.1,285.5L495.6,283.7L492.8,296.7L480.5,297.9z" fill="#dedede"/><path d="M483.1,285.5L495.3,283.7L488.4,288.4z" fill="#ececec"/><path d="M483.1,285.5L488.4,288.4L480.5,297.9z" fill="#cdcdcd"/><path d="M480.5,297.9L488.4,288.4L492.5,296.7z" fill="#a4a4a4"/><path d="M495.3,283.7L507.7,281.9L504.7,295.5L492.5,296.7z" fill="#dedede"/><path d="M495.3,283.7L507.4,282L500.5,286.8z" fill="#ececec"/><path d="M495.3,283.7L500.5,286.8L492.5,296.7z" fill="#cdcdcd"/><path d="M492.5,296.7L500.5,286.8L504.5,295.5z" fill="#a4a4a4"/><path d="M507.4,282L519.9,280.1L516.7,294.3L504.5,295.5z" fill="#f4aad4"/><path d="M507.4,282L519.6,280.2L512.6,285.2z" fill="#fab6dc"/><path d="M507.4,282L512.6,285.2L504.5,295.5z" fill="#e89cc8"/><path d="M504.5,295.5L512.6,285.2L516.4,294.3z" fill="#c886b0"/><path d="M437.4,297.2L449.3,295.7L447,308.4L435.3,309.2z" fill="#dedede"/><path d="M437.4,297.2L449.1,295.8L442.5,300.2z" fill="#ececec"/><path d="M437.4,297.2L442.5,300.2L435.3,309.2z" fill="#cdcdcd"/><path d="M435.3,309.2L442.5,300.2L446.7,308.4z" fill="#a4a4a4"/><path d="M449.1,295.8L461,294.3L458.4,307.6L446.7,308.4z" fill="#f4aad4"/><path d="M449.1,295.8L460.7,294.3L454.2,298.9z" fill="#fab6dc"/><path d="M449.1,295.8L454.2,298.9L446.7,308.4z" fill="#e89cc8"/><path d="M446.7,308.4L454.2,298.9L458.2,307.6z" fill="#c886b0"/><path d="M460.7,294.3L472.7,292.8L469.9,306.8L458.2,307.6z" fill="#dedede"/><path d="M460.7,294.3L472.4,292.9L465.8,297.7z" fill="#ececec"/><path d="M460.7,294.3L465.8,297.7L458.2,307.6z" fill="#cdcdcd"/><path d="M458.2,307.6L465.8,297.7L469.6,306.8z" fill="#a4a4a4"/><path d="M472.4,292.9L484.4,291.4L481.3,306L469.6,306.8z" fill="#dedede"/><path d="M472.4,292.9L484.1,291.4L477.4,296.4z" fill="#ececec"/><path d="M472.4,292.9L477.4,296.4L469.6,306.8z" fill="#cdcdcd"/><path d="M469.6,306.8L477.4,296.4L481,306z" fill="#a4a4a4"/><path d="M484.1,291.4L496.1,289.9L492.8,305.2L481,306z" fill="#f4aad4"/><path d="M484.1,291.4L495.8,290L489,295.2z" fill="#fab6dc"/><path d="M484.1,291.4L489,295.2L481,306z" fill="#e89cc8"/><path d="M481,306L489,295.2L492.5,305.2z" fill="#c886b0"/><path d="M495.8,290L507.7,288.5L504.2,304.4L492.5,305.2z" fill="#dedede"/><path d="M495.8,290L507.5,288.5L500.6,293.9z" fill="#ececec"/><path d="M495.8,290L500.6,293.9L492.5,305.2z" fill="#cdcdcd"/><path d="M492.5,305.2L500.6,293.9L503.9,304.4z" fill="#a4a4a4"/><circle cx="457.4" cy="286.8" r="1.8" fill="#dc9c00"/><circle cx="469.9" cy="284.9" r="1.8" fill="#dc9c00"/><circle cx="494.8" cy="281" r="1.8" fill="#dc9c00"/><circle cx="482.5" cy="270.5" r="1.8" fill="#dc9c00"/><circle cx="454.2" cy="298.9" r="1.8" fill="#dc9c00"/><circle cx="500.5" cy="286.8" r="1.8" fill="#dc9c00"/><circle cx="482.3" cy="282.9" r="1.8" fill="#dc9c00"/><circle cx="476.3" cy="290" r="1.8" fill="#dc9c00"/><circle cx="507.3" cy="279" r="1.8" fill="#dc9c00"/><circle cx="465.8" cy="297.7" r="1.8" fill="#dc9c00"/><circle cx="501.8" cy="273.2" r="1.8" fill="#dc9c00"/><circle cx="488.9" cy="275.5" r="1.8" fill="#dc9c00"/><circle cx="468.9" cy="273.3" r="1.8" fill="#dc9c00"/><circle cx="512.6" cy="285.2" r="1.8" fill="#dc9c00"/><circle cx="489" cy="295.2" r="1.8" fill="#dc9c00"/><circle cx="442.5" cy="300.2" r="1.8" fill="#dc9c00"/><circle cx="496.1" cy="267.8" r="1.8" fill="#dc9c00"/><circle cx="477.4" cy="296.4" r="1.8" fill="#dc9c00"/><circle cx="439.9" cy="294.9" r="1.8" fill="#dc9c00"/><circle cx="452.1" cy="293.3" r="1.8" fill="#dc9c00"/><circle cx="444.9" cy="288.8" r="1.8" fill="#dc9c00"/><circle cx="500.6" cy="293.9" r="1.8" fill="#dc9c00"/><circle cx="488.4" cy="288.4" r="1.8" fill="#dc9c00"/><circle cx="463" cy="280.2" r="1.8" fill="#dc9c00"/><circle cx="464.2" cy="291.6" r="1.8" fill="#dc9c00"/><circle cx="450" cy="282.5" r="1.8" fill="#dc9c00"/>
<path d="M457.5,326L470.7,326L470.7,331.5L457.5,331.5z" fill="#dedede"/><path d="M457.5,326L470.4,326L463.9,327.6z" fill="#ececec"/><path d="M457.5,326L463.9,327.6L457.5,331.5z" fill="#cdcdcd"/><path d="M457.5,331.5L463.9,327.6L470.4,331.5z" fill="#a4a4a4"/><path d="M470.4,326L483.5,326L483.5,331.5L470.4,331.5z" fill="#bce4f6"/><path d="M470.4,326L483.3,326L476.8,327.6z" fill="#d2f0fc"/><path d="M470.4,326L476.8,327.6L470.4,331.5z" fill="#a8d8ee"/><path d="M470.4,331.5L476.8,327.6L483.3,331.5z" fill="#86b6ce"/><path d="M483.3,326L496.4,326L496.4,331.5L483.3,331.5z" fill="#dedede"/><path d="M483.3,326L496.1,326L489.7,327.6z" fill="#ececec"/><path d="M483.3,326L489.7,327.6L483.3,331.5z" fill="#cdcdcd"/><path d="M483.3,331.5L489.7,327.6L496.1,331.5z" fill="#a4a4a4"/><path d="M496.1,326L509.3,326L509.3,331.5L496.1,331.5z" fill="#dedede"/><path d="M496.1,326L509,326L502.6,327.6z" fill="#ececec"/><path d="M496.1,326L502.6,327.6L496.1,331.5z" fill="#cdcdcd"/><path d="M496.1,331.5L502.6,327.6L509,331.5z" fill="#a4a4a4"/><path d="M451.4,330.4L464.5,330.4L464.5,335.9L451.4,335.9z" fill="#f4aad4"/><path d="M451.4,330.4L464.2,330.4L457.8,332z" fill="#fab6dc"/><path d="M451.4,330.4L457.8,332L451.4,335.9z" fill="#e89cc8"/><path d="M451.4,335.9L457.8,332L464.2,335.9z" fill="#c886b0"/><path d="M464.2,330.4L477.4,330.4L477.4,335.9L464.2,335.9z" fill="#f4aad4"/><path d="M464.2,330.4L477.1,330.4L470.7,332z" fill="#fab6dc"/><path d="M464.2,330.4L470.7,332L464.2,335.9z" fill="#e89cc8"/><path d="M464.2,335.9L470.7,332L477.1,335.9z" fill="#c886b0"/><path d="M477.1,330.4L490.2,330.4L490.2,335.9L477.1,335.9z" fill="#dedede"/><path d="M477.1,330.4L489.9,330.4L483.5,332z" fill="#ececec"/><path d="M477.1,330.4L483.5,332L477.1,335.9z" fill="#cdcdcd"/><path d="M477.1,335.9L483.5,332L489.9,335.9z" fill="#a4a4a4"/><path d="M489.9,330.4L503,330.4L503,335.9L489.9,335.9z" fill="#dedede"/><path d="M489.9,330.4L502.7,330.4L496.3,332z" fill="#ececec"/><path d="M489.9,330.4L496.3,332L489.9,335.9z" fill="#cdcdcd"/><path d="M489.9,335.9L496.3,332L502.7,335.9z" fill="#a4a4a4"/><path d="M502.7,330.4L515.9,330.4L515.9,335.9L502.7,335.9z" fill="#bce4f6"/><path d="M502.7,330.4L515.6,330.4L509.2,332z" fill="#d2f0fc"/><path d="M502.7,330.4L509.2,332L502.7,335.9z" fill="#a8d8ee"/><path d="M502.7,335.9L509.2,332L515.6,335.9z" fill="#86b6ce"/><path d="M445.3,334.8L458.4,334.8L458.4,340.8L445.3,340.8z" fill="#dedede"/><path d="M445.3,334.8L458.1,334.8L451.7,336.6z" fill="#ececec"/><path d="M445.3,334.8L451.7,336.6L445.3,340.8z" fill="#cdcdcd"/><path d="M445.3,340.8L451.7,336.6L458.1,340.8z" fill="#a4a4a4"/><path d="M458.1,334.8L471.2,334.8L471.2,340.8L458.1,340.8z" fill="#bce4f6"/><path d="M458.1,334.8L470.9,334.8L464.5,336.6z" fill="#d2f0fc"/><path d="M458.1,334.8L464.5,336.6L458.1,340.8z" fill="#a8d8ee"/><path d="M458.1,340.8L464.5,336.6L470.9,340.8z" fill="#86b6ce"/><path d="M470.9,334.8L484,334.8L484,340.8L470.9,340.8z" fill="#dedede"/><path d="M470.9,334.8L483.7,334.8L477.3,336.6z" fill="#ececec"/><path d="M470.9,334.8L477.3,336.6L470.9,340.8z" fill="#cdcdcd"/><path d="M470.9,340.8L477.3,336.6L483.7,340.8z" fill="#a4a4a4"/><path d="M483.7,334.8L496.8,334.8L496.8,340.8L483.7,340.8z" fill="#dedede"/><path d="M483.7,334.8L496.5,334.8L490.1,336.6z" fill="#ececec"/><path d="M483.7,334.8L490.1,336.6L483.7,340.8z" fill="#cdcdcd"/><path d="M483.7,340.8L490.1,336.6L496.5,340.8z" fill="#a4a4a4"/><path d="M496.5,334.8L509.6,334.8L509.6,340.8L496.5,340.8z" fill="#bce4f6"/><path d="M496.5,334.8L509.3,334.8L502.9,336.6z" fill="#d2f0fc"/><path d="M496.5,334.8L502.9,336.6L496.5,340.8z" fill="#a8d8ee"/><path d="M496.5,340.8L502.9,336.6L509.3,340.8z" fill="#86b6ce"/><path d="M509.3,334.8L522.4,334.8L522.4,340.8L509.3,340.8z" fill="#dedede"/><path d="M509.3,334.8L522.1,334.8L515.7,336.6z" fill="#ececec"/><path d="M509.3,334.8L515.7,336.6L509.3,340.8z" fill="#cdcdcd"/><path d="M509.3,340.8L515.7,336.6L522.1,340.8z" fill="#a4a4a4"/><path d="M439.7,339.1L452.7,339.1L452.7,352.3L439.7,352.3z" fill="#f4aad4"/><path d="M439.7,339.1L452.4,339.1L446.1,343.1z" fill="#fab6dc"/><path d="M439.7,339.1L446.1,343.1L439.7,352.3z" fill="#e89cc8"/><path d="M439.7,352.3L446.1,343.1L452.4,352.3z" fill="#c886b0"/><path d="M452.4,339.1L465.4,339.1L465.4,352.3L452.4,352.3z" fill="#dedede"/><path d="M452.4,339.1L465.1,339.1L458.8,343.1z" fill="#ececec"/><path d="M452.4,339.1L458.8,343.1L452.4,352.3z" fill="#cdcdcd"/><path d="M452.4,352.3L458.8,343.1L465.1,352.3z" fill="#a4a4a4"/><path d="M465.1,339.1L478.1,339.1L478.1,352.3L465.1,352.3z" fill="#dedede"/><path d="M465.1,339.1L477.8,339.1L471.5,343.1z" fill="#ececec"/><path d="M465.1,339.1L471.5,343.1L465.1,352.3z" fill="#cdcdcd"/><path d="M465.1,352.3L471.5,343.1L477.8,352.3z" fill="#a4a4a4"/><path d="M477.8,339.1L490.8,339.1L490.8,352.3L477.8,352.3z" fill="#dedede"/><path d="M477.8,339.1L490.6,339.1L484.2,343.1z" fill="#ececec"/><path d="M477.8,339.1L484.2,343.1L477.8,352.3z" fill="#cdcdcd"/><path d="M477.8,352.3L484.2,343.1L490.6,352.3z" fill="#a4a4a4"/><path d="M490.6,339.1L503.6,339.1L503.6,352.3L490.6,352.3z" fill="#dedede"/><path d="M490.6,339.1L503.3,339.1L496.9,343.1z" fill="#ececec"/><path d="M490.6,339.1L496.9,343.1L490.6,352.3z" fill="#cdcdcd"/><path d="M490.6,352.3L496.9,343.1L503.3,352.3z" fill="#a4a4a4"/><path d="M503.3,339.1L516.3,339.1L516.3,352.3L503.3,352.3z" fill="#dedede"/><path d="M503.3,339.1L516,339.1L509.6,343.1z" fill="#ececec"/><path d="M503.3,339.1L509.6,343.1L503.3,352.3z" fill="#cdcdcd"/><path d="M503.3,352.3L509.6,343.1L516,352.3z" fill="#a4a4a4"/><path d="M516,339.1L529,339.1L529,352.3L516,352.3z" fill="#f4aad4"/><path d="M516,339.1L528.7,339.1L522.3,343.1z" fill="#fab6dc"/><path d="M516,339.1L522.3,343.1L516,352.3z" fill="#e89cc8"/><path d="M516,352.3L522.3,343.1L528.7,352.3z" fill="#c886b0"/><path d="M444.4,344.6L457.8,344.6L457.8,356.7L444.4,356.7z" fill="#dedede"/><path d="M444.4,344.6L457.5,344.6L450.9,348.2z" fill="#ececec"/><path d="M444.4,344.6L450.9,348.2L444.4,356.7z" fill="#cdcdcd"/><path d="M444.4,356.7L450.9,348.2L457.5,356.7z" fill="#a4a4a4"/><path d="M457.5,344.6L470.9,344.6L470.9,356.7L457.5,356.7z" fill="#dedede"/><path d="M457.5,344.6L470.6,344.6L464.1,348.2z" fill="#ececec"/><path d="M457.5,344.6L464.1,348.2L457.5,356.7z" fill="#cdcdcd"/><path d="M457.5,356.7L464.1,348.2L470.6,356.7z" fill="#a4a4a4"/><path d="M470.6,344.6L484,344.6L484,356.7L470.6,356.7z" fill="#dedede"/><path d="M470.6,344.6L483.7,344.6L477.2,348.2z" fill="#ececec"/><path d="M470.6,344.6L477.2,348.2L470.6,356.7z" fill="#cdcdcd"/><path d="M470.6,356.7L477.2,348.2L483.7,356.7z" fill="#a4a4a4"/><path d="M483.7,344.6L497.1,344.6L497.1,356.7L483.7,356.7z" fill="#bce4f6"/><path d="M483.7,344.6L496.8,344.6L490.3,348.2z" fill="#d2f0fc"/><path d="M483.7,344.6L490.3,348.2L483.7,356.7z" fill="#a8d8ee"/><path d="M483.7,356.7L490.3,348.2L496.8,356.7z" fill="#86b6ce"/><path d="M496.8,344.6L510.2,344.6L510.2,356.7L496.8,356.7z" fill="#dedede"/><path d="M496.8,344.6L510,344.6L503.4,348.2z" fill="#ececec"/><path d="M496.8,344.6L503.4,348.2L496.8,356.7z" fill="#cdcdcd"/><path d="M496.8,356.7L503.4,348.2L510,356.7z" fill="#a4a4a4"/><path d="M510,344.6L523.4,344.6L523.4,356.7L510,356.7z" fill="#dedede"/><path d="M510,344.6L523.1,344.6L516.5,348.2z" fill="#ececec"/><path d="M510,344.6L516.5,348.2L510,356.7z" fill="#cdcdcd"/><path d="M510,356.7L516.5,348.2L523.1,356.7z" fill="#a4a4a4"/><path d="M452.8,352.3L467.4,352.3L467.4,367.6L452.8,367.6z" fill="#dedede"/><path d="M452.8,352.3L467.1,352.3L460,356.9z" fill="#ececec"/><path d="M452.8,352.3L460,356.9L452.8,367.6z" fill="#cdcdcd"/><path d="M452.8,367.6L460,356.9L467.1,367.6z" fill="#a4a4a4"/><path d="M467.1,352.3L481.7,352.3L481.7,367.6L467.1,367.6z" fill="#f4aad4"/><path d="M467.1,352.3L481.4,352.3L474.2,356.9z" fill="#fab6dc"/><path d="M467.1,352.3L474.2,356.9L467.1,367.6z" fill="#e89cc8"/><path d="M467.1,367.6L474.2,356.9L481.4,367.6z" fill="#c886b0"/><path d="M481.4,352.3L496,352.3L496,367.6L481.4,367.6z" fill="#dedede"/><path d="M481.4,352.3L495.7,352.3L488.5,356.9z" fill="#ececec"/><path d="M481.4,352.3L488.5,356.9L481.4,367.6z" fill="#cdcdcd"/><path d="M481.4,367.6L488.5,356.9L495.7,367.6z" fill="#a4a4a4"/><path d="M495.7,352.3L510.2,352.3L510.2,367.6L495.7,367.6z" fill="#f4aad4"/><path d="M495.7,352.3L510,352.3L502.8,356.9z" fill="#fab6dc"/><path d="M495.7,352.3L502.8,356.9L495.7,367.6z" fill="#e89cc8"/><path d="M495.7,367.6L502.8,356.9L510,367.6z" fill="#c886b0"/><circle cx="483.5" cy="332" r="1.8" fill="#dc9c00"/><circle cx="477.3" cy="336.6" r="1.8" fill="#dc9c00"/><circle cx="450.9" cy="348.2" r="1.8" fill="#dc9c00"/><circle cx="474.2" cy="356.9" r="1.8" fill="#dc9c00"/><circle cx="490.1" cy="336.6" r="1.8" fill="#dc9c00"/><circle cx="509.2" cy="332" r="1.8" fill="#dc9c00"/><circle cx="503.4" cy="348.2" r="1.8" fill="#dc9c00"/><circle cx="458.8" cy="343.1" r="1.8" fill="#dc9c00"/><circle cx="464.1" cy="348.2" r="1.8" fill="#dc9c00"/><circle cx="471.5" cy="343.1" r="1.8" fill="#dc9c00"/><circle cx="496.9" cy="343.1" r="1.8" fill="#dc9c00"/><circle cx="476.8" cy="327.6" r="1.8" fill="#dc9c00"/><circle cx="516.5" cy="348.2" r="1.8" fill="#dc9c00"/><circle cx="502.9" cy="336.6" r="1.8" fill="#dc9c00"/><circle cx="496.3" cy="332" r="1.8" fill="#dc9c00"/><circle cx="502.6" cy="327.6" r="1.8" fill="#dc9c00"/><circle cx="484.2" cy="343.1" r="1.8" fill="#dc9c00"/><circle cx="509.6" cy="343.1" r="1.8" fill="#dc9c00"/><circle cx="522.3" cy="343.1" r="1.8" fill="#dc9c00"/><circle cx="477.2" cy="348.2" r="1.8" fill="#dc9c00"/><circle cx="463.9" cy="327.6" r="1.8" fill="#dc9c00"/><circle cx="488.5" cy="356.9" r="1.8" fill="#dc9c00"/><circle cx="470.7" cy="332" r="1.8" fill="#dc9c00"/><circle cx="489.7" cy="327.6" r="1.8" fill="#dc9c00"/><circle cx="490.3" cy="348.2" r="1.8" fill="#dc9c00"/><circle cx="515.7" cy="336.6" r="1.8" fill="#dc9c00"/>
<path d="M83.3,389.8L97.5,389.8L97.5,395.1L83.3,395.1z" fill="#d8e8a8"/><path d="M83.3,389.8L97.2,389.8L90.2,391.4z" fill="#e8f4bc"/><path d="M83.3,389.8L90.2,391.4L83.3,395.1z" fill="#c6da96"/><path d="M83.3,395.1L90.2,391.4L97.2,395.1z" fill="#96aa6e"/><path d="M97.2,389.8L111.4,389.8L111.4,395.1L97.2,395.1z" fill="#bce4f6"/><path d="M97.2,389.8L111.1,389.8L104.2,391.4z" fill="#d2f0fc"/><path d="M97.2,389.8L104.2,391.4L97.2,395.1z" fill="#a8d8ee"/><path d="M97.2,395.1L104.2,391.4L111.1,395.1z" fill="#86b6ce"/><path d="M111.1,389.8L125.4,389.8L125.4,395.1L111.1,395.1z" fill="#d8e8a8"/><path d="M111.1,389.8L125.1,389.8L118.1,391.4z" fill="#e8f4bc"/><path d="M111.1,389.8L118.1,391.4L111.1,395.1z" fill="#c6da96"/><path d="M111.1,395.1L118.1,391.4L125.1,395.1z" fill="#96aa6e"/><path d="M125.1,389.8L139.3,389.8L139.3,395.1L125.1,395.1z" fill="#dedede"/><path d="M125.1,389.8L139,389.8L132,391.4z" fill="#ececec"/><path d="M125.1,389.8L132,391.4L125.1,395.1z" fill="#cdcdcd"/><path d="M125.1,395.1L132,391.4L139,395.1z" fill="#a4a4a4"/><path d="M76.7,394L90.9,394L90.9,399.3L76.7,399.3z" fill="#d8e8a8"/><path d="M76.7,394L90.6,394L83.6,395.6z" fill="#e8f4bc"/><path d="M76.7,394L83.6,395.6L76.7,399.3z" fill="#c6da96"/><path d="M76.7,399.3L83.6,395.6L90.6,399.3z" fill="#96aa6e"/><path d="M90.6,394L104.8,394L104.8,399.3L90.6,399.3z" fill="#f4aad4"/><path d="M90.6,394L104.4,394L97.5,395.6z" fill="#fab6dc"/><path d="M90.6,394L97.5,395.6L90.6,399.3z" fill="#e89cc8"/><path d="M90.6,399.3L97.5,395.6L104.4,399.3z" fill="#c886b0"/><path d="M104.4,394L118.6,394L118.6,399.3L104.4,399.3z" fill="#dedede"/><path d="M104.4,394L118.3,394L111.4,395.6z" fill="#ececec"/><path d="M104.4,394L111.4,395.6L104.4,399.3z" fill="#cdcdcd"/><path d="M104.4,399.3L111.4,395.6L118.3,399.3z" fill="#a4a4a4"/><path d="M118.3,394L132.5,394L132.5,399.3L118.3,399.3z" fill="#d8e8a8"/><path d="M118.3,394L132.2,394L125.3,395.6z" fill="#e8f4bc"/><path d="M118.3,394L125.3,395.6L118.3,399.3z" fill="#c6da96"/><path d="M118.3,399.3L125.3,395.6L132.2,399.3z" fill="#96aa6e"/><path d="M132.2,394L146.4,394L146.4,399.3L132.2,399.3z" fill="#bce4f6"/><path d="M132.2,394L146.1,394L139.2,395.6z" fill="#d2f0fc"/><path d="M132.2,394L139.2,395.6L132.2,399.3z" fill="#a8d8ee"/><path d="M132.2,399.3L139.2,395.6L146.1,399.3z" fill="#86b6ce"/><path d="M70.1,398.2L84.2,398.2L84.2,404L70.1,404z" fill="#bce4f6"/><path d="M70.1,398.2L83.9,398.2L77,400z" fill="#d2f0fc"/><path d="M70.1,398.2L77,400L70.1,404z" fill="#a8d8ee"/><path d="M70.1,404L77,400L83.9,404z" fill="#86b6ce"/><path d="M83.9,398.2L98.1,398.2L98.1,404L83.9,404z" fill="#dedede"/><path d="M83.9,398.2L97.8,398.2L90.9,400z" fill="#ececec"/><path d="M83.9,398.2L90.9,400L83.9,404z" fill="#cdcdcd"/><path d="M83.9,404L90.9,400L97.8,404z" fill="#a4a4a4"/><path d="M97.8,398.2L111.9,398.2L111.9,404L97.8,404z" fill="#d8e8a8"/><path d="M97.8,398.2L111.6,398.2L104.7,400z" fill="#e8f4bc"/><path d="M97.8,398.2L104.7,400L97.8,404z" fill="#c6da96"/><path d="M97.8,404L104.7,400L111.6,404z" fill="#96aa6e"/><path d="M111.6,398.2L125.8,398.2L125.8,404L111.6,404z" fill="#dedede"/><path d="M111.6,398.2L125.5,398.2L118.6,400z" fill="#ececec"/><path d="M111.6,398.2L118.6,400L111.6,404z" fill="#cdcdcd"/><path d="M111.6,404L118.6,400L125.5,404z" fill="#a4a4a4"/><path d="M125.5,398.2L139.7,398.2L139.7,404L125.5,404z" fill="#bce4f6"/><path d="M125.5,398.2L139.4,398.2L132.4,400z" fill="#d2f0fc"/><path d="M125.5,398.2L132.4,400L125.5,404z" fill="#a8d8ee"/><path d="M125.5,404L132.4,400L139.4,404z" fill="#86b6ce"/><path d="M139.4,398.2L153.5,398.2L153.5,404L139.4,404z" fill="#f4aad4"/><path d="M139.4,398.2L153.2,398.2L146.3,400z" fill="#fab6dc"/><path d="M139.4,398.2L146.3,400L139.4,404z" fill="#e89cc8"/><path d="M139.4,404L146.3,400L153.2,404z" fill="#c886b0"/><path d="M64,402.4L78.1,402.4L78.1,415.1L64,415.1z" fill="#d8e8a8"/><path d="M64,402.4L77.8,402.4L70.9,406.2z" fill="#e8f4bc"/><path d="M64,402.4L70.9,406.2L64,415.1z" fill="#c6da96"/><path d="M64,415.1L70.9,406.2L77.8,415.1z" fill="#96aa6e"/><path d="M77.8,402.4L91.8,402.4L91.8,415.1L77.8,415.1z" fill="#dedede"/><path d="M77.8,402.4L91.5,402.4L84.6,406.2z" fill="#ececec"/><path d="M77.8,402.4L84.6,406.2L77.8,415.1z" fill="#cdcdcd"/><path d="M77.8,415.1L84.6,406.2L91.5,415.1z" fill="#a4a4a4"/><path d="M91.5,402.4L105.6,402.4L105.6,415.1L91.5,415.1z" fill="#dedede"/><path d="M91.5,402.4L105.3,402.4L98.4,406.2z" fill="#ececec"/><path d="M91.5,402.4L98.4,406.2L91.5,415.1z" fill="#cdcdcd"/><path d="M91.5,415.1L98.4,406.2L105.3,415.1z" fill="#a4a4a4"/><path d="M105.3,402.4L119.3,402.4L119.3,415.1L105.3,415.1z" fill="#bce4f6"/><path d="M105.3,402.4L119,402.4L112.2,406.2z" fill="#d2f0fc"/><path d="M105.3,402.4L112.2,406.2L105.3,415.1z" fill="#a8d8ee"/><path d="M105.3,415.1L112.2,406.2L119,415.1z" fill="#86b6ce"/><path d="M119,402.4L133.1,402.4L133.1,415.1L119,415.1z" fill="#dedede"/><path d="M119,402.4L132.8,402.4L125.9,406.2z" fill="#ececec"/><path d="M119,402.4L125.9,406.2L119,415.1z" fill="#cdcdcd"/><path d="M119,415.1L125.9,406.2L132.8,415.1z" fill="#a4a4a4"/><path d="M132.8,402.4L146.8,402.4L146.8,415.1L132.8,415.1z" fill="#dedede"/><path d="M132.8,402.4L146.5,402.4L139.7,406.2z" fill="#ececec"/><path d="M132.8,402.4L139.7,406.2L132.8,415.1z" fill="#cdcdcd"/><path d="M132.8,415.1L139.7,406.2L146.5,415.1z" fill="#a4a4a4"/><path d="M146.5,402.4L160.6,402.4L160.6,415.1L146.5,415.1z" fill="#f4aad4"/><path d="M146.5,402.4L160.3,402.4L153.4,406.2z" fill="#fab6dc"/><path d="M146.5,402.4L153.4,406.2L146.5,415.1z" fill="#e89cc8"/><path d="M146.5,415.1L153.4,406.2L160.3,415.1z" fill="#c886b0"/><path d="M69.1,407.7L83.6,407.7L83.6,419.3L69.1,419.3z" fill="#d8e8a8"/><path d="M69.1,407.7L83.3,407.7L76.2,411.2z" fill="#e8f4bc"/><path d="M69.1,407.7L76.2,411.2L69.1,419.3z" fill="#c6da96"/><path d="M69.1,419.3L76.2,411.2L83.3,419.3z" fill="#96aa6e"/><path d="M83.3,407.7L97.8,407.7L97.8,419.3L83.3,419.3z" fill="#dedede"/><path d="M83.3,407.7L97.5,407.7L90.4,411.2z" fill="#ececec"/><path d="M83.3,407.7L90.4,411.2L83.3,419.3z" fill="#cdcdcd"/><path d="M83.3,419.3L90.4,411.2L97.5,419.3z" fill="#a4a4a4"/><path d="M97.5,407.7L111.9,407.7L111.9,419.3L97.5,419.3z" fill="#f4aad4"/><path d="M97.5,407.7L111.6,407.7L104.5,411.2z" fill="#fab6dc"/><path d="M97.5,407.7L104.5,411.2L97.5,419.3z" fill="#e89cc8"/><path d="M97.5,419.3L104.5,411.2L111.6,419.3z" fill="#c886b0"/><path d="M111.6,407.7L126.1,407.7L126.1,419.3L111.6,419.3z" fill="#dedede"/><path d="M111.6,407.7L125.8,407.7L118.7,411.2z" fill="#ececec"/><path d="M111.6,407.7L118.7,411.2L111.6,419.3z" fill="#cdcdcd"/><path d="M111.6,419.3L118.7,411.2L125.8,419.3z" fill="#a4a4a4"/><path d="M125.8,407.7L140.3,407.7L140.3,419.3L125.8,419.3z" fill="#bce4f6"/><path d="M125.8,407.7L140,407.7L132.9,411.2z" fill="#d2f0fc"/><path d="M125.8,407.7L132.9,411.2L125.8,419.3z" fill="#a8d8ee"/><path d="M125.8,419.3L132.9,411.2L140,419.3z" fill="#86b6ce"/><path d="M140,407.7L154.5,407.7L154.5,419.3L140,419.3z" fill="#d8e8a8"/><path d="M140,407.7L154.2,407.7L147.1,411.2z" fill="#e8f4bc"/><path d="M140,407.7L147.1,411.2L140,419.3z" fill="#c6da96"/><path d="M140,419.3L147.1,411.2L154.2,419.3z" fill="#96aa6e"/><path d="M78.2,415.1L94,415.1L94,429.8L78.2,429.8z" fill="#dedede"/><path d="M78.2,415.1L93.7,415.1L85.9,419.5z" fill="#ececec"/><path d="M78.2,415.1L85.9,419.5L78.2,429.8z" fill="#cdcdcd"/><path d="M78.2,429.8L85.9,419.5L93.7,429.8z" fill="#a4a4a4"/><path d="M93.7,415.1L109.4,415.1L109.4,429.8L93.7,429.8z" fill="#bce4f6"/><path d="M93.7,415.1L109.1,415.1L101.4,419.5z" fill="#d2f0fc"/><path d="M93.7,415.1L101.4,419.5L93.7,429.8z" fill="#a8d8ee"/><path d="M93.7,429.8L101.4,419.5L109.1,429.8z" fill="#86b6ce"/><path d="M109.1,415.1L124.9,415.1L124.9,429.8L109.1,429.8z" fill="#d8e8a8"/><path d="M109.1,415.1L124.6,415.1L116.8,419.5z" fill="#e8f4bc"/><path d="M109.1,415.1L116.8,419.5L109.1,429.8z" fill="#c6da96"/><path d="M109.1,429.8L116.8,419.5L124.6,429.8z" fill="#96aa6e"/><path d="M124.6,415.1L140.3,415.1L140.3,429.8L124.6,429.8z" fill="#d8e8a8"/><path d="M124.6,415.1L140,415.1L132.3,419.5z" fill="#e8f4bc"/><path d="M124.6,415.1L132.3,419.5L124.6,429.8z" fill="#c6da96"/><path d="M124.6,429.8L132.3,419.5L140,429.8z" fill="#96aa6e"/><circle cx="153.4" cy="406.2" r="1.8" fill="#dc9c00"/><circle cx="118.1" cy="391.4" r="1.8" fill="#dc9c00"/><circle cx="98.4" cy="406.2" r="1.8" fill="#dc9c00"/><circle cx="77" cy="400" r="1.8" fill="#dc9c00"/><circle cx="76.2" cy="411.2" r="1.8" fill="#dc9c00"/><circle cx="116.8" cy="419.5" r="1.8" fill="#dc9c00"/><circle cx="139.7" cy="406.2" r="1.8" fill="#dc9c00"/><circle cx="146.3" cy="400" r="1.8" fill="#dc9c00"/><circle cx="90.9" cy="400" r="1.8" fill="#dc9c00"/><circle cx="118.7" cy="411.2" r="1.8" fill="#dc9c00"/><circle cx="83.6" cy="395.6" r="1.8" fill="#dc9c00"/><circle cx="125.9" cy="406.2" r="1.8" fill="#dc9c00"/><circle cx="97.5" cy="395.6" r="1.8" fill="#dc9c00"/><circle cx="139.2" cy="395.6" r="1.8" fill="#dc9c00"/><circle cx="84.6" cy="406.2" r="1.8" fill="#dc9c00"/><circle cx="111.4" cy="395.6" r="1.8" fill="#dc9c00"/><circle cx="132" cy="391.4" r="1.8" fill="#dc9c00"/><circle cx="125.3" cy="395.6" r="1.8" fill="#dc9c00"/><circle cx="118.6" cy="400" r="1.8" fill="#dc9c00"/><circle cx="90.2" cy="391.4" r="1.8" fill="#dc9c00"/><circle cx="85.9" cy="419.5" r="1.8" fill="#dc9c00"/><circle cx="132.9" cy="411.2" r="1.8" fill="#dc9c00"/><circle cx="70.9" cy="406.2" r="1.8" fill="#dc9c00"/><circle cx="147.1" cy="411.2" r="1.8" fill="#dc9c00"/>
<path d="M84,463.9L97.7,463.9L97.7,469.5L84,469.5z" fill="#d8e8a8"/><path d="M84,463.9L97.4,463.9L90.7,465.6z" fill="#e8f4bc"/><path d="M84,463.9L90.7,465.6L84,469.5z" fill="#c6da96"/><path d="M84,469.5L90.7,465.6L97.4,469.5z" fill="#96aa6e"/><path d="M97.4,463.9L111.1,463.9L111.1,469.5L97.4,469.5z" fill="#bce4f6"/><path d="M97.4,463.9L110.8,463.9L104.1,465.6z" fill="#d2f0fc"/><path d="M97.4,463.9L104.1,465.6L97.4,469.5z" fill="#a8d8ee"/><path d="M97.4,469.5L104.1,465.6L110.8,469.5z" fill="#86b6ce"/><path d="M110.8,463.9L124.5,463.9L124.5,469.5L110.8,469.5z" fill="#dedede"/><path d="M110.8,463.9L124.2,463.9L117.5,465.6z" fill="#ececec"/><path d="M110.8,463.9L117.5,465.6L110.8,469.5z" fill="#cdcdcd"/><path d="M110.8,469.5L117.5,465.6L124.2,469.5z" fill="#a4a4a4"/><path d="M124.2,463.9L137.8,463.9L137.8,469.5L124.2,469.5z" fill="#dedede"/><path d="M124.2,463.9L137.6,463.9L130.9,465.6z" fill="#ececec"/><path d="M124.2,463.9L130.9,465.6L124.2,469.5z" fill="#cdcdcd"/><path d="M124.2,469.5L130.9,465.6L137.6,469.5z" fill="#a4a4a4"/><path d="M77.7,468.4L91.3,468.4L91.3,474.1L77.7,474.1z" fill="#dedede"/><path d="M77.7,468.4L91,468.4L84.3,470.1z" fill="#ececec"/><path d="M77.7,468.4L84.3,470.1L77.7,474.1z" fill="#cdcdcd"/><path d="M77.7,474.1L84.3,470.1L91,474.1z" fill="#a4a4a4"/><path d="M91,468.4L104.6,468.4L104.6,474.1L91,474.1z" fill="#f4aad4"/><path d="M91,468.4L104.4,468.4L97.7,470.1z" fill="#fab6dc"/><path d="M91,468.4L97.7,470.1L91,474.1z" fill="#e89cc8"/><path d="M91,474.1L97.7,470.1L104.3,474.1z" fill="#c886b0"/><path d="M104.4,468.4L118,468.4L118,474.1L104.3,474.1z" fill="#d8e8a8"/><path d="M104.4,468.4L117.7,468.4L111,470.1z" fill="#e8f4bc"/><path d="M104.4,468.4L111,470.1L104.3,474.1z" fill="#c6da96"/><path d="M104.3,474.1L111,470.1L117.7,474.1z" fill="#96aa6e"/><path d="M117.7,468.4L131.3,468.4L131.3,474.1L117.7,474.1z" fill="#f4aad4"/><path d="M117.7,468.4L131,468.4L124.4,470.1z" fill="#fab6dc"/><path d="M117.7,468.4L124.4,470.1L117.7,474.1z" fill="#e89cc8"/><path d="M117.7,474.1L124.4,470.1L131,474.1z" fill="#c886b0"/><path d="M131,468.4L144.7,468.4L144.7,474.1L131,474.1z" fill="#bce4f6"/><path d="M131,468.4L144.4,468.4L137.7,470.1z" fill="#d2f0fc"/><path d="M131,468.4L137.7,470.1L131,474.1z" fill="#a8d8ee"/><path d="M131,474.1L137.7,470.1L144.4,474.1z" fill="#86b6ce"/><path d="M71.3,472.9L84.9,472.9L84.9,479.1L71.3,479.1z" fill="#dedede"/><path d="M71.3,472.9L84.6,472.9L78,474.8z" fill="#ececec"/><path d="M71.3,472.9L78,474.8L71.3,479.1z" fill="#cdcdcd"/><path d="M71.3,479.1L78,474.8L84.6,479.1z" fill="#a4a4a4"/><path d="M84.6,472.9L98.2,472.9L98.2,479.1L84.6,479.1z" fill="#dedede"/><path d="M84.6,472.9L98,472.9L91.3,474.8z" fill="#ececec"/><path d="M84.6,472.9L91.3,474.8L84.6,479.1z" fill="#cdcdcd"/><path d="M84.6,479.1L91.3,474.8L98,479.1z" fill="#a4a4a4"/><path d="M98,472.9L111.6,472.9L111.6,479.1L98,479.1z" fill="#f4aad4"/><path d="M98,472.9L111.3,472.9L104.6,474.8z" fill="#fab6dc"/><path d="M98,472.9L104.6,474.8L98,479.1z" fill="#e89cc8"/><path d="M98,479.1L104.6,474.8L111.3,479.1z" fill="#c886b0"/><path d="M111.3,472.9L124.9,472.9L124.9,479.1L111.3,479.1z" fill="#d8e8a8"/><path d="M111.3,472.9L124.6,472.9L117.9,474.8z" fill="#e8f4bc"/><path d="M111.3,472.9L117.9,474.8L111.3,479.1z" fill="#c6da96"/><path d="M111.3,479.1L117.9,474.8L124.6,479.1z" fill="#96aa6e"/><path d="M124.6,472.9L138.2,472.9L138.2,479.1L124.6,479.1z" fill="#dedede"/><path d="M124.6,472.9L137.9,472.9L131.2,474.8z" fill="#ececec"/><path d="M124.6,472.9L131.2,474.8L124.6,479.1z" fill="#cdcdcd"/><path d="M124.6,479.1L131.2,474.8L137.9,479.1z" fill="#a4a4a4"/><path d="M137.9,472.9L151.5,472.9L151.5,479.1L137.9,479.1z" fill="#bce4f6"/><path d="M137.9,472.9L151.2,472.9L144.5,474.8z" fill="#d2f0fc"/><path d="M137.9,472.9L144.5,474.8L137.9,479.1z" fill="#a8d8ee"/><path d="M137.9,479.1L144.5,474.8L151.2,479.1z" fill="#86b6ce"/><path d="M65.5,477.4L79,477.4L79,491L65.5,491z" fill="#f4aad4"/><path d="M65.5,477.4L78.7,477.4L72.1,481.5z" fill="#fab6dc"/><path d="M65.5,477.4L72.1,481.5L65.5,491z" fill="#e89cc8"/><path d="M65.5,491L72.1,481.5L78.7,491z" fill="#c886b0"/><path d="M78.7,477.4L92.2,477.4L92.2,491L78.7,491z" fill="#dedede"/><path d="M78.7,477.4L91.9,477.4L85.3,481.5z" fill="#ececec"/><path d="M78.7,477.4L85.3,481.5L78.7,491z" fill="#cdcdcd"/><path d="M78.7,491L85.3,481.5L91.9,491z" fill="#a4a4a4"/><path d="M91.9,477.4L105.4,477.4L105.4,491L91.9,491z" fill="#d8e8a8"/><path d="M91.9,477.4L105.1,477.4L98.5,481.5z" fill="#e8f4bc"/><path d="M91.9,477.4L98.5,481.5L91.9,491z" fill="#c6da96"/><path d="M91.9,491L98.5,481.5L105.1,491z" fill="#96aa6e"/><path d="M105.1,477.4L118.6,477.4L118.6,491L105.1,491z" fill="#bce4f6"/><path d="M105.1,477.4L118.4,477.4L111.8,481.5z" fill="#d2f0fc"/><path d="M105.1,477.4L111.8,481.5L105.1,491z" fill="#a8d8ee"/><path d="M105.1,491L111.8,481.5L118.4,491z" fill="#86b6ce"/><path d="M118.4,477.4L131.9,477.4L131.9,491L118.4,491z" fill="#dedede"/><path d="M118.4,477.4L131.6,477.4L125,481.5z" fill="#ececec"/><path d="M118.4,477.4L125,481.5L118.4,491z" fill="#cdcdcd"/><path d="M118.4,491L125,481.5L131.6,491z" fill="#a4a4a4"/><path d="M131.6,477.4L145.1,477.4L145.1,491L131.6,491z" fill="#dedede"/><path d="M131.6,477.4L144.8,477.4L138.2,481.5z" fill="#ececec"/><path d="M131.6,477.4L138.2,481.5L131.6,491z" fill="#cdcdcd"/><path d="M131.6,491L138.2,481.5L144.8,491z" fill="#a4a4a4"/><path d="M144.8,477.4L158.3,477.4L158.3,491L144.8,491z" fill="#bce4f6"/><path d="M144.8,477.4L158,477.4L151.4,481.5z" fill="#d2f0fc"/><path d="M144.8,477.4L151.4,481.5L144.8,491z" fill="#a8d8ee"/><path d="M144.8,491L151.4,481.5L158,491z" fill="#86b6ce"/><path d="M70.4,483.1L84.3,483.1L84.3,495.5L70.4,495.5z" fill="#d8e8a8"/><path d="M70.4,483.1L84,483.1L77.2,486.8z" fill="#e8f4bc"/><path d="M70.4,483.1L77.2,486.8L70.4,495.5z" fill="#c6da96"/><path d="M70.4,495.5L77.2,486.8L84,495.5z" fill="#96aa6e"/><path d="M84,483.1L97.9,483.1L97.9,495.5L84,495.5z" fill="#dedede"/><path d="M84,483.1L97.6,483.1L90.8,486.8z" fill="#ececec"/><path d="M84,483.1L90.8,486.8L84,495.5z" fill="#cdcdcd"/><path d="M84,495.5L90.8,486.8L97.6,495.5z" fill="#a4a4a4"/><path d="M97.6,483.1L111.6,483.1L111.6,495.5L97.6,495.5z" fill="#dedede"/><path d="M97.6,483.1L111.3,483.1L104.4,486.8z" fill="#ececec"/><path d="M97.6,483.1L104.4,486.8L97.6,495.5z" fill="#cdcdcd"/><path d="M97.6,495.5L104.4,486.8L111.3,495.5z" fill="#a4a4a4"/><path d="M111.3,483.1L125.2,483.1L125.2,495.5L111.3,495.5z" fill="#dedede"/><path d="M111.3,483.1L124.9,483.1L118.1,486.8z" fill="#ececec"/><path d="M111.3,483.1L118.1,486.8L111.3,495.5z" fill="#cdcdcd"/><path d="M111.3,495.5L118.1,486.8L124.9,495.5z" fill="#a4a4a4"/><path d="M124.9,483.1L138.8,483.1L138.8,495.5L124.9,495.5z" fill="#bce4f6"/><path d="M124.9,483.1L138.5,483.1L131.7,486.8z" fill="#d2f0fc"/><path d="M124.9,483.1L131.7,486.8L124.9,495.5z" fill="#a8d8ee"/><path d="M124.9,495.5L131.7,486.8L138.5,495.5z" fill="#86b6ce"/><path d="M138.5,483.1L152.4,483.1L152.4,495.5L138.5,495.5z" fill="#d8e8a8"/><path d="M138.5,483.1L152.2,483.1L145.3,486.8z" fill="#e8f4bc"/><path d="M138.5,483.1L145.3,486.8L138.5,495.5z" fill="#c6da96"/><path d="M138.5,495.5L145.3,486.8L152.2,495.5z" fill="#96aa6e"/><path d="M79.1,491L94.3,491L94.3,506.8L79.1,506.8z" fill="#dedede"/><path d="M79.1,491L94,491L86.6,495.7z" fill="#ececec"/><path d="M79.1,491L86.6,495.7L79.1,506.8z" fill="#cdcdcd"/><path d="M79.1,506.8L86.6,495.7L94,506.8z" fill="#a4a4a4"/><path d="M94,491L109.1,491L109.1,506.8L94,506.8z" fill="#f4aad4"/><path d="M94,491L108.8,491L101.4,495.7z" fill="#fab6dc"/><path d="M94,491L101.4,495.7L94,506.8z" fill="#e89cc8"/><path d="M94,506.8L101.4,495.7L108.8,506.8z" fill="#c886b0"/><path d="M108.8,491L124,491L124,506.8L108.8,506.8z" fill="#d8e8a8"/><path d="M108.8,491L123.7,491L116.3,495.7z" fill="#e8f4bc"/><path d="M108.8,491L116.3,495.7L108.8,506.8z" fill="#c6da96"/><path d="M108.8,506.8L116.3,495.7L123.7,506.8z" fill="#96aa6e"/><path d="M123.7,491L138.8,491L138.8,506.8L123.7,506.8z" fill="#f4aad4"/><path d="M123.7,491L138.5,491L131.1,495.7z" fill="#fab6dc"/><path d="M123.7,491L131.1,495.7L123.7,506.8z" fill="#e89cc8"/><path d="M123.7,506.8L131.1,495.7L138.5,506.8z" fill="#c886b0"/><circle cx="117.5" cy="465.6" r="1.8" fill="#dc9c00"/><circle cx="91.3" cy="474.8" r="1.8" fill="#dc9c00"/><circle cx="90.8" cy="486.8" r="1.8" fill="#dc9c00"/><circle cx="111.8" cy="481.5" r="1.8" fill="#dc9c00"/><circle cx="104.1" cy="465.6" r="1.8" fill="#dc9c00"/><circle cx="117.9" cy="474.8" r="1.8" fill="#dc9c00"/><circle cx="90.7" cy="465.6" r="1.8" fill="#dc9c00"/><circle cx="124.4" cy="470.1" r="1.8" fill="#dc9c00"/><circle cx="131.7" cy="486.8" r="1.8" fill="#dc9c00"/><circle cx="137.7" cy="470.1" r="1.8" fill="#dc9c00"/><circle cx="125" cy="481.5" r="1.8" fill="#dc9c00"/><circle cx="131.1" cy="495.7" r="1.8" fill="#dc9c00"/><circle cx="98.5" cy="481.5" r="1.8" fill="#dc9c00"/><circle cx="104.6" cy="474.8" r="1.8" fill="#dc9c00"/><circle cx="144.5" cy="474.8" r="1.8" fill="#dc9c00"/><circle cx="130.9" cy="465.6" r="1.8" fill="#dc9c00"/><circle cx="116.3" cy="495.7" r="1.8" fill="#dc9c00"/><circle cx="85.3" cy="481.5" r="1.8" fill="#dc9c00"/><circle cx="77.2" cy="486.8" r="1.8" fill="#dc9c00"/><circle cx="84.3" cy="470.1" r="1.8" fill="#dc9c00"/><circle cx="131.2" cy="474.8" r="1.8" fill="#dc9c00"/><circle cx="101.4" cy="495.7" r="1.8" fill="#dc9c00"/><circle cx="145.3" cy="486.8" r="1.8" fill="#dc9c00"/><circle cx="104.4" cy="486.8" r="1.8" fill="#dc9c00"/>
<path d="M310.8,398L324,398L324,402.8L310.8,402.8z" fill="#dedede"/><path d="M310.8,398L323.7,398L317.2,399.4z" fill="#ececec"/><path d="M310.8,398L317.2,399.4L310.8,402.8z" fill="#cdcdcd"/><path d="M310.8,402.8L317.2,399.4L323.7,402.8z" fill="#a4a4a4"/><path d="M323.7,398L336.8,398L336.8,402.8L323.7,402.8z" fill="#bce4f6"/><path d="M323.7,398L336.6,398L330.1,399.4z" fill="#d2f0fc"/><path d="M323.7,398L330.1,399.4L323.7,402.8z" fill="#a8d8ee"/><path d="M323.7,402.8L330.1,399.4L336.6,402.8z" fill="#86b6ce"/><path d="M336.6,398L349.7,398L349.7,402.8L336.6,402.8z" fill="#dedede"/><path d="M336.6,398L349.4,398L343,399.4z" fill="#ececec"/><path d="M336.6,398L343,399.4L336.6,402.8z" fill="#cdcdcd"/><path d="M336.6,402.8L343,399.4L349.4,402.8z" fill="#a4a4a4"/><path d="M349.4,398L362.6,398L362.6,402.8L349.4,402.8z" fill="#dedede"/><path d="M349.4,398L362.3,398L355.9,399.4z" fill="#ececec"/><path d="M349.4,398L355.9,399.4L349.4,402.8z" fill="#cdcdcd"/><path d="M349.4,402.8L355.9,399.4L362.3,402.8z" fill="#a4a4a4"/><path d="M304.7,401.8L317.8,401.8L317.8,406.6L304.7,406.6z" fill="#bce4f6"/><path d="M304.7,401.8L317.5,401.8L311.1,403.3z" fill="#d2f0fc"/><path d="M304.7,401.8L311.1,403.3L304.7,406.6z" fill="#a8d8ee"/><path d="M304.7,406.6L311.1,403.3L317.5,406.6z" fill="#86b6ce"/><path d="M317.5,401.8L330.7,401.8L330.7,406.6L317.5,406.6z" fill="#f4aad4"/><path d="M317.5,401.8L330.4,401.8L324,403.3z" fill="#fab6dc"/><path d="M317.5,401.8L324,403.3L317.5,406.6z" fill="#e89cc8"/><path d="M317.5,406.6L324,403.3L330.4,406.6z" fill="#c886b0"/><path d="M330.4,401.8L343.5,401.8L343.5,406.6L330.4,406.6z" fill="#dedede"/><path d="M330.4,401.8L343.2,401.8L336.8,403.3z" fill="#ececec"/><path d="M330.4,401.8L336.8,403.3L330.4,406.6z" fill="#cdcdcd"/><path d="M330.4,406.6L336.8,403.3L343.2,406.6z" fill="#a4a4a4"/><path d="M343.2,401.8L356.3,401.8L356.3,406.6L343.2,406.6z" fill="#f4aad4"/><path d="M343.2,401.8L356,401.8L349.6,403.3z" fill="#fab6dc"/><path d="M343.2,401.8L349.6,403.3L343.2,406.6z" fill="#e89cc8"/><path d="M343.2,406.6L349.6,403.3L356,406.6z" fill="#c886b0"/><path d="M356,401.8L369.2,401.8L369.2,406.6L356,406.6z" fill="#bce4f6"/><path d="M356,401.8L368.9,401.8L362.5,403.3z" fill="#d2f0fc"/><path d="M356,401.8L362.5,403.3L356,406.6z" fill="#a8d8ee"/><path d="M356,406.6L362.5,403.3L368.9,406.6z" fill="#86b6ce"/><path d="M298.6,405.6L311.7,405.6L311.7,410.9L298.6,410.9z" fill="#dedede"/><path d="M298.6,405.6L311.4,405.6L305,407.2z" fill="#ececec"/><path d="M298.6,405.6L305,407.2L298.6,410.9z" fill="#cdcdcd"/><path d="M298.6,410.9L305,407.2L311.4,410.9z" fill="#a4a4a4"/><path d="M311.4,405.6L324.5,405.6L324.5,410.9L311.4,410.9z" fill="#dedede"/><path d="M311.4,405.6L324.2,405.6L317.8,407.2z" fill="#ececec"/><path d="M311.4,405.6L317.8,407.2L311.4,410.9z" fill="#cdcdcd"/><path d="M311.4,410.9L317.8,407.2L324.2,410.9z" fill="#a4a4a4"/><path d="M324.2,405.6L337.3,405.6L337.3,410.9L324.2,410.9z" fill="#dedede"/><path d="M324.2,405.6L337,405.6L330.6,407.2z" fill="#ececec"/><path d="M324.2,405.6L330.6,407.2L324.2,410.9z" fill="#cdcdcd"/><path d="M324.2,410.9L330.6,407.2L337,410.9z" fill="#a4a4a4"/><path d="M337,405.6L350.1,405.6L350.1,410.9L337,410.9z" fill="#dedede"/><path d="M337,405.6L349.8,405.6L343.4,407.2z" fill="#ececec"/><path d="M337,405.6L343.4,407.2L337,410.9z" fill="#cdcdcd"/><path d="M337,410.9L343.4,407.2L349.8,410.9z" fill="#a4a4a4"/><path d="M349.8,405.6L362.9,405.6L362.9,410.9L349.8,410.9z" fill="#bce4f6"/><path d="M349.8,405.6L362.6,405.6L356.2,407.2z" fill="#d2f0fc"/><path d="M349.8,405.6L356.2,407.2L349.8,410.9z" fill="#a8d8ee"/><path d="M349.8,410.9L356.2,407.2L362.6,410.9z" fill="#86b6ce"/><path d="M362.6,405.6L375.7,405.6L375.7,410.9L362.6,410.9z" fill="#dedede"/><path d="M362.6,405.6L375.4,405.6L369,407.2z" fill="#ececec"/><path d="M362.6,405.6L369,407.2L362.6,410.9z" fill="#cdcdcd"/><path d="M362.6,410.9L369,407.2L375.4,410.9z" fill="#a4a4a4"/><path d="M293,409.5L306,409.5L306,420.9L293,420.9z" fill="#f4aad4"/><path d="M293,409.5L305.7,409.5L299.4,412.9z" fill="#fab6dc"/><path d="M293,409.5L299.4,412.9L293,420.9z" fill="#e89cc8"/><path d="M293,420.9L299.4,412.9L305.7,420.9z" fill="#c886b0"/><path d="M305.7,409.5L318.7,409.5L318.7,420.9L305.7,420.9z" fill="#dedede"/><path d="M305.7,409.5L318.4,409.5L312.1,412.9z" fill="#ececec"/><path d="M305.7,409.5L312.1,412.9L305.7,420.9z" fill="#cdcdcd"/><path d="M305.7,420.9L312.1,412.9L318.4,420.9z" fill="#a4a4a4"/><path d="M318.4,409.5L331.4,409.5L331.4,420.9L318.4,420.9z" fill="#dedede"/><path d="M318.4,409.5L331.1,409.5L324.8,412.9z" fill="#ececec"/><path d="M318.4,409.5L324.8,412.9L318.4,420.9z" fill="#cdcdcd"/><path d="M318.4,420.9L324.8,412.9L331.1,420.9z" fill="#a4a4a4"/><path d="M331.1,409.5L344.1,409.5L344.1,420.9L331.1,420.9z" fill="#dedede"/><path d="M331.1,409.5L343.9,409.5L337.5,412.9z" fill="#ececec"/><path d="M331.1,409.5L337.5,412.9L331.1,420.9z" fill="#cdcdcd"/><path d="M331.1,420.9L337.5,412.9L343.9,420.9z" fill="#a4a4a4"/><path d="M343.9,409.5L356.9,409.5L356.9,420.9L343.9,420.9z" fill="#dedede"/><path d="M343.9,409.5L356.6,409.5L350.2,412.9z" fill="#ececec"/><path d="M343.9,409.5L350.2,412.9L343.9,420.9z" fill="#cdcdcd"/><path d="M343.9,420.9L350.2,412.9L356.6,420.9z" fill="#a4a4a4"/><path d="M356.6,409.5L369.6,409.5L369.6,420.9L356.6,420.9z" fill="#dedede"/><path d="M356.6,409.5L369.3,409.5L362.9,412.9z" fill="#ececec"/><path d="M356.6,409.5L362.9,412.9L356.6,420.9z" fill="#cdcdcd"/><path d="M356.6,420.9L362.9,412.9L369.3,420.9z" fill="#a4a4a4"/><path d="M369.3,409.5L382.3,409.5L382.3,420.9L369.3,420.9z" fill="#f4aad4"/><path d="M369.3,409.5L382,409.5L375.6,412.9z" fill="#fab6dc"/><path d="M369.3,409.5L375.6,412.9L369.3,420.9z" fill="#e89cc8"/><path d="M369.3,420.9L375.6,412.9L382,420.9z" fill="#c886b0"/><path d="M297.7,414.2L311.1,414.2L311.1,424.7L297.7,424.7z" fill="#dedede"/><path d="M297.7,414.2L310.8,414.2L304.2,417.4z" fill="#ececec"/><path d="M297.7,414.2L304.2,417.4L297.7,424.7z" fill="#cdcdcd"/><path d="M297.7,424.7L304.2,417.4L310.8,424.7z" fill="#a4a4a4"/><path d="M310.8,414.2L324.2,414.2L324.2,424.7L310.8,424.7z" fill="#f4aad4"/><path d="M310.8,414.2L323.9,414.2L317.4,417.4z" fill="#fab6dc"/><path d="M310.8,414.2L317.4,417.4L310.8,424.7z" fill="#e89cc8"/><path d="M310.8,424.7L317.4,417.4L323.9,424.7z" fill="#c886b0"/><path d="M323.9,414.2L337.3,414.2L337.3,424.7L323.9,424.7z" fill="#dedede"/><path d="M323.9,414.2L337,414.2L330.5,417.4z" fill="#ececec"/><path d="M323.9,414.2L330.5,417.4L323.9,424.7z" fill="#cdcdcd"/><path d="M323.9,424.7L330.5,417.4L337,424.7z" fill="#a4a4a4"/><path d="M337,414.2L350.4,414.2L350.4,424.7L337,424.7z" fill="#dedede"/><path d="M337,414.2L350.1,414.2L343.6,417.4z" fill="#ececec"/><path d="M337,414.2L343.6,417.4L337,424.7z" fill="#cdcdcd"/><path d="M337,424.7L343.6,417.4L350.1,424.7z" fill="#a4a4a4"/><path d="M350.1,414.2L363.5,414.2L363.5,424.7L350.1,424.7z" fill="#dedede"/><path d="M350.1,414.2L363.3,414.2L356.7,417.4z" fill="#ececec"/><path d="M350.1,414.2L356.7,417.4L350.1,424.7z" fill="#cdcdcd"/><path d="M350.1,424.7L356.7,417.4L363.3,424.7z" fill="#a4a4a4"/><path d="M363.3,414.2L376.7,414.2L376.7,424.7L363.3,424.7z" fill="#dedede"/><path d="M363.3,414.2L376.4,414.2L369.8,417.4z" fill="#ececec"/><path d="M363.3,414.2L369.8,417.4L363.3,424.7z" fill="#cdcdcd"/><path d="M363.3,424.7L369.8,417.4L376.4,424.7z" fill="#a4a4a4"/><path d="M306.1,420.9L320.7,420.9L320.7,434.3L306.1,434.3z" fill="#dedede"/><path d="M306.1,420.9L320.4,420.9L313.3,424.9z" fill="#ececec"/><path d="M306.1,420.9L313.3,424.9L306.1,434.3z" fill="#cdcdcd"/><path d="M306.1,434.3L313.3,424.9L320.4,434.3z" fill="#a4a4a4"/><path d="M320.4,420.9L335,420.9L335,434.3L320.4,434.3z" fill="#bce4f6"/><path d="M320.4,420.9L334.7,420.9L327.5,424.9z" fill="#d2f0fc"/><path d="M320.4,420.9L327.5,424.9L320.4,434.3z" fill="#a8d8ee"/><path d="M320.4,434.3L327.5,424.9L334.7,434.3z" fill="#86b6ce"/><path d="M334.7,420.9L349.3,420.9L349.3,434.3L334.7,434.3z" fill="#dedede"/><path d="M334.7,420.9L349,420.9L341.8,424.9z" fill="#ececec"/><path d="M334.7,420.9L341.8,424.9L334.7,434.3z" fill="#cdcdcd"/><path d="M334.7,434.3L341.8,424.9L349,434.3z" fill="#a4a4a4"/><path d="M349,420.9L363.5,420.9L363.5,434.3L349,434.3z" fill="#dedede"/><path d="M349,420.9L363.3,420.9L356.1,424.9z" fill="#ececec"/><path d="M349,420.9L356.1,424.9L349,434.3z" fill="#cdcdcd"/><path d="M349,434.3L356.1,424.9L363.3,434.3z" fill="#a4a4a4"/><circle cx="313.3" cy="424.9" r="1.8" fill="#dc9c00"/><circle cx="343.4" cy="407.2" r="1.8" fill="#dc9c00"/><circle cx="330.6" cy="407.2" r="1.8" fill="#dc9c00"/><circle cx="349.6" cy="403.3" r="1.8" fill="#dc9c00"/><circle cx="369.8" cy="417.4" r="1.8" fill="#dc9c00"/><circle cx="356.2" cy="407.2" r="1.8" fill="#dc9c00"/><circle cx="305" cy="407.2" r="1.8" fill="#dc9c00"/><circle cx="317.8" cy="407.2" r="1.8" fill="#dc9c00"/><circle cx="330.1" cy="399.4" r="1.8" fill="#dc9c00"/><circle cx="337.5" cy="412.9" r="1.8" fill="#dc9c00"/><circle cx="375.6" cy="412.9" r="1.8" fill="#dc9c00"/><circle cx="343" cy="399.4" r="1.8" fill="#dc9c00"/><circle cx="362.5" cy="403.3" r="1.8" fill="#dc9c00"/><circle cx="341.8" cy="424.9" r="1.8" fill="#dc9c00"/><circle cx="324" cy="403.3" r="1.8" fill="#dc9c00"/><circle cx="356.1" cy="424.9" r="1.8" fill="#dc9c00"/><circle cx="350.2" cy="412.9" r="1.8" fill="#dc9c00"/><circle cx="312.1" cy="412.9" r="1.8" fill="#dc9c00"/><circle cx="343.6" cy="417.4" r="1.8" fill="#dc9c00"/><circle cx="356.7" cy="417.4" r="1.8" fill="#dc9c00"/><circle cx="317.4" cy="417.4" r="1.8" fill="#dc9c00"/><circle cx="317.2" cy="399.4" r="1.8" fill="#dc9c00"/><circle cx="369" cy="407.2" r="1.8" fill="#dc9c00"/><circle cx="304.2" cy="417.4" r="1.8" fill="#dc9c00"/><circle cx="324.8" cy="412.9" r="1.8" fill="#dc9c00"/><circle cx="355.9" cy="399.4" r="1.8" fill="#dc9c00"/>
<path d="M310.8,469.3L324,469.3L324,474.5L310.8,474.5z" fill="#dedede"/><path d="M310.8,469.3L323.7,469.3L317.2,470.8z" fill="#ececec"/><path d="M310.8,469.3L317.2,470.8L310.8,474.5z" fill="#cdcdcd"/><path d="M310.8,474.5L317.2,470.8L323.7,474.5z" fill="#a4a4a4"/><path d="M323.7,469.3L336.8,469.3L336.8,474.5L323.7,474.5z" fill="#bce4f6"/><path d="M323.7,469.3L336.6,469.3L330.1,470.8z" fill="#d2f0fc"/><path d="M323.7,469.3L330.1,470.8L323.7,474.5z" fill="#a8d8ee"/><path d="M323.7,474.5L330.1,470.8L336.6,474.5z" fill="#86b6ce"/><path d="M336.6,469.3L349.7,469.3L349.7,474.5L336.6,474.5z" fill="#bce4f6"/><path d="M336.6,469.3L349.4,469.3L343,470.8z" fill="#d2f0fc"/><path d="M336.6,469.3L343,470.8L336.6,474.5z" fill="#a8d8ee"/><path d="M336.6,474.5L343,470.8L349.4,474.5z" fill="#86b6ce"/><path d="M349.4,469.3L362.6,469.3L362.6,474.5L349.4,474.5z" fill="#dedede"/><path d="M349.4,469.3L362.3,469.3L355.9,470.8z" fill="#ececec"/><path d="M349.4,469.3L355.9,470.8L349.4,474.5z" fill="#cdcdcd"/><path d="M349.4,474.5L355.9,470.8L362.3,474.5z" fill="#a4a4a4"/><path d="M304.7,473.4L317.8,473.4L317.8,478.6L304.7,478.6z" fill="#dedede"/><path d="M304.7,473.4L317.5,473.4L311.1,475z" fill="#ececec"/><path d="M304.7,473.4L311.1,475L304.7,478.6z" fill="#cdcdcd"/><path d="M304.7,478.6L311.1,475L317.5,478.6z" fill="#a4a4a4"/><path d="M317.5,473.4L330.7,473.4L330.7,478.6L317.5,478.6z" fill="#f4aad4"/><path d="M317.5,473.4L330.4,473.4L324,475z" fill="#fab6dc"/><path d="M317.5,473.4L324,475L317.5,478.6z" fill="#e89cc8"/><path d="M317.5,478.6L324,475L330.4,478.6z" fill="#c886b0"/><path d="M330.4,473.4L343.5,473.4L343.5,478.6L330.4,478.6z" fill="#dedede"/><path d="M330.4,473.4L343.2,473.4L336.8,475z" fill="#ececec"/><path d="M330.4,473.4L336.8,475L330.4,478.6z" fill="#cdcdcd"/><path d="M330.4,478.6L336.8,475L343.2,478.6z" fill="#a4a4a4"/><path d="M343.2,473.4L356.3,473.4L356.3,478.6L343.2,478.6z" fill="#f4aad4"/><path d="M343.2,473.4L356,473.4L349.6,475z" fill="#fab6dc"/><path d="M343.2,473.4L349.6,475L343.2,478.6z" fill="#e89cc8"/><path d="M343.2,478.6L349.6,475L356,478.6z" fill="#c886b0"/><path d="M356,473.4L369.2,473.4L369.2,478.6L356,478.6z" fill="#bce4f6"/><path d="M356,473.4L368.9,473.4L362.5,475z" fill="#d2f0fc"/><path d="M356,473.4L362.5,475L356,478.6z" fill="#a8d8ee"/><path d="M356,478.6L362.5,475L368.9,478.6z" fill="#86b6ce"/><path d="M298.6,477.6L311.7,477.6L311.7,483.2L298.6,483.2z" fill="#bce4f6"/><path d="M298.6,477.6L311.4,477.6L305,479.3z" fill="#d2f0fc"/><path d="M298.6,477.6L305,479.3L298.6,483.2z" fill="#a8d8ee"/><path d="M298.6,483.2L305,479.3L311.4,483.2z" fill="#86b6ce"/><path d="M311.4,477.6L324.5,477.6L324.5,483.2L311.4,483.2z" fill="#dedede"/><path d="M311.4,477.6L324.2,477.6L317.8,479.3z" fill="#ececec"/><path d="M311.4,477.6L317.8,479.3L311.4,483.2z" fill="#cdcdcd"/><path d="M311.4,483.2L317.8,479.3L324.2,483.2z" fill="#a4a4a4"/><path d="M324.2,477.6L337.3,477.6L337.3,483.2L324.2,483.2z" fill="#dedede"/><path d="M324.2,477.6L337,477.6L330.6,479.3z" fill="#ececec"/><path d="M324.2,477.6L330.6,479.3L324.2,483.2z" fill="#cdcdcd"/><path d="M324.2,483.2L330.6,479.3L337,483.2z" fill="#a4a4a4"/><path d="M337,477.6L350.1,477.6L350.1,483.2L337,483.2z" fill="#dedede"/><path d="M337,477.6L349.8,477.6L343.4,479.3z" fill="#ececec"/><path d="M337,477.6L343.4,479.3L337,483.2z" fill="#cdcdcd"/><path d="M337,483.2L343.4,479.3L349.8,483.2z" fill="#a4a4a4"/><path d="M349.8,477.6L362.9,477.6L362.9,483.2L349.8,483.2z" fill="#bce4f6"/><path d="M349.8,477.6L362.6,477.6L356.2,479.3z" fill="#d2f0fc"/><path d="M349.8,477.6L356.2,479.3L349.8,483.2z" fill="#a8d8ee"/><path d="M349.8,483.2L356.2,479.3L362.6,483.2z" fill="#86b6ce"/><path d="M362.6,477.6L375.7,477.6L375.7,483.2L362.6,483.2z" fill="#dedede"/><path d="M362.6,477.6L375.4,477.6L369,479.3z" fill="#ececec"/><path d="M362.6,477.6L369,479.3L362.6,483.2z" fill="#cdcdcd"/><path d="M362.6,483.2L369,479.3L375.4,483.2z" fill="#a4a4a4"/><path d="M293,481.7L306,481.7L306,494.1L293,494.1z" fill="#f4aad4"/><path d="M293,481.7L305.7,481.7L299.4,485.4z" fill="#fab6dc"/><path d="M293,481.7L299.4,485.4L293,494.1z" fill="#e89cc8"/><path d="M293,494.1L299.4,485.4L305.7,494.1z" fill="#c886b0"/><path d="M305.7,481.7L318.7,481.7L318.7,494.1L305.7,494.1z" fill="#dedede"/><path d="M305.7,481.7L318.4,481.7L312.1,485.4z" fill="#ececec"/><path d="M305.7,481.7L312.1,485.4L305.7,494.1z" fill="#cdcdcd"/><path d="M305.7,494.1L312.1,485.4L318.4,494.1z" fill="#a4a4a4"/><path d="M318.4,481.7L331.4,481.7L331.4,494.1L318.4,494.1z" fill="#dedede"/><path d="M318.4,481.7L331.1,481.7L324.8,485.4z" fill="#ececec"/><path d="M318.4,481.7L324.8,485.4L318.4,494.1z" fill="#cdcdcd"/><path d="M318.4,494.1L324.8,485.4L331.1,494.1z" fill="#a4a4a4"/><path d="M331.1,481.7L344.1,481.7L344.1,494.1L331.1,494.1z" fill="#dedede"/><path d="M331.1,481.7L343.9,481.7L337.5,485.4z" fill="#ececec"/><path d="M331.1,481.7L337.5,485.4L331.1,494.1z" fill="#cdcdcd"/><path d="M331.1,494.1L337.5,485.4L343.9,494.1z" fill="#a4a4a4"/><path d="M343.9,481.7L356.9,481.7L356.9,494.1L343.9,494.1z" fill="#dedede"/><path d="M343.9,481.7L356.6,481.7L350.2,485.4z" fill="#ececec"/><path d="M343.9,481.7L350.2,485.4L343.9,494.1z" fill="#cdcdcd"/><path d="M343.9,494.1L350.2,485.4L356.6,494.1z" fill="#a4a4a4"/><path d="M356.6,481.7L369.6,481.7L369.6,494.1L356.6,494.1z" fill="#bce4f6"/><path d="M356.6,481.7L369.3,481.7L362.9,485.4z" fill="#d2f0fc"/><path d="M356.6,481.7L362.9,485.4L356.6,494.1z" fill="#a8d8ee"/><path d="M356.6,494.1L362.9,485.4L369.3,494.1z" fill="#86b6ce"/><path d="M369.3,481.7L382.3,481.7L382.3,494.1L369.3,494.1z" fill="#bce4f6"/><path d="M369.3,481.7L382,481.7L375.6,485.4z" fill="#d2f0fc"/><path d="M369.3,481.7L375.6,485.4L369.3,494.1z" fill="#a8d8ee"/><path d="M369.3,494.1L375.6,485.4L382,494.1z" fill="#86b6ce"/><path d="M297.7,486.8L311.1,486.8L311.1,498.2L297.7,498.2z" fill="#dedede"/><path d="M297.7,486.8L310.8,486.8L304.2,490.2z" fill="#ececec"/><path d="M297.7,486.8L304.2,490.2L297.7,498.2z" fill="#cdcdcd"/><path d="M297.7,498.2L304.2,490.2L310.8,498.2z" fill="#a4a4a4"/><path d="M310.8,486.8L324.2,486.8L324.2,498.2L310.8,498.2z" fill="#dedede"/><path d="M310.8,486.8L323.9,486.8L317.4,490.2z" fill="#ececec"/><path d="M310.8,486.8L317.4,490.2L310.8,498.2z" fill="#cdcdcd"/><path d="M310.8,498.2L317.4,490.2L323.9,498.2z" fill="#a4a4a4"/><path d="M323.9,486.8L337.3,486.8L337.3,498.2L323.9,498.2z" fill="#dedede"/><path d="M323.9,486.8L337,486.8L330.5,490.2z" fill="#ececec"/><path d="M323.9,486.8L330.5,490.2L323.9,498.2z" fill="#cdcdcd"/><path d="M323.9,498.2L330.5,490.2L337,498.2z" fill="#a4a4a4"/><path d="M337,486.8L350.4,486.8L350.4,498.2L337,498.2z" fill="#bce4f6"/><path d="M337,486.8L350.1,486.8L343.6,490.2z" fill="#d2f0fc"/><path d="M337,486.8L343.6,490.2L337,498.2z" fill="#a8d8ee"/><path d="M337,498.2L343.6,490.2L350.1,498.2z" fill="#86b6ce"/><path d="M350.1,486.8L363.5,486.8L363.5,498.2L350.1,498.2z" fill="#dedede"/><path d="M350.1,486.8L363.3,486.8L356.7,490.2z" fill="#ececec"/><path d="M350.1,486.8L356.7,490.2L350.1,498.2z" fill="#cdcdcd"/><path d="M350.1,498.2L356.7,490.2L363.3,498.2z" fill="#a4a4a4"/><path d="M363.3,486.8L376.7,486.8L376.7,498.2L363.3,498.2z" fill="#dedede"/><path d="M363.3,486.8L376.4,486.8L369.8,490.2z" fill="#ececec"/><path d="M363.3,486.8L369.8,490.2L363.3,498.2z" fill="#cdcdcd"/><path d="M363.3,498.2L369.8,490.2L376.4,498.2z" fill="#a4a4a4"/><path d="M306.1,494.1L320.7,494.1L320.7,508.5L306.1,508.5z" fill="#dedede"/><path d="M306.1,494.1L320.4,494.1L313.3,498.4z" fill="#ececec"/><path d="M306.1,494.1L313.3,498.4L306.1,508.5z" fill="#cdcdcd"/><path d="M306.1,508.5L313.3,498.4L320.4,508.5z" fill="#a4a4a4"/><path d="M320.4,494.1L335,494.1L335,508.5L320.4,508.5z" fill="#f4aad4"/><path d="M320.4,494.1L334.7,494.1L327.5,498.4z" fill="#fab6dc"/><path d="M320.4,494.1L327.5,498.4L320.4,508.5z" fill="#e89cc8"/><path d="M320.4,508.5L327.5,498.4L334.7,508.5z" fill="#c886b0"/><path d="M334.7,494.1L349.3,494.1L349.3,508.5L334.7,508.5z" fill="#f4aad4"/><path d="M334.7,494.1L349,494.1L341.8,498.4z" fill="#fab6dc"/><path d="M334.7,494.1L341.8,498.4L334.7,508.5z" fill="#e89cc8"/><path d="M334.7,508.5L341.8,498.4L349,508.5z" fill="#c886b0"/><path d="M349,494.1L363.5,494.1L363.5,508.5L349,508.5z" fill="#dedede"/><path d="M349,494.1L363.3,494.1L356.1,498.4z" fill="#ececec"/><path d="M349,494.1L356.1,498.4L349,508.5z" fill="#cdcdcd"/><path d="M349,508.5L356.1,498.4L363.3,508.5z" fill="#a4a4a4"/><circle cx="312.1" cy="485.4" r="1.8" fill="#dc9c00"/><circle cx="355.9" cy="470.8" r="1.8" fill="#dc9c00"/><circle cx="313.3" cy="498.4" r="1.8" fill="#dc9c00"/><circle cx="349.6" cy="475" r="1.8" fill="#dc9c00"/><circle cx="324.8" cy="485.4" r="1.8" fill="#dc9c00"/><circle cx="327.5" cy="498.4" r="1.8" fill="#dc9c00"/><circle cx="375.6" cy="485.4" r="1.8" fill="#dc9c00"/><circle cx="324" cy="475" r="1.8" fill="#dc9c00"/><circle cx="343.4" cy="479.3" r="1.8" fill="#dc9c00"/><circle cx="356.1" cy="498.4" r="1.8" fill="#dc9c00"/><circle cx="341.8" cy="498.4" r="1.8" fill="#dc9c00"/><circle cx="330.6" cy="479.3" r="1.8" fill="#dc9c00"/><circle cx="336.8" cy="475" r="1.8" fill="#dc9c00"/><circle cx="337.5" cy="485.4" r="1.8" fill="#dc9c00"/><circle cx="343" cy="470.8" r="1.8" fill="#dc9c00"/><circle cx="356.2" cy="479.3" r="1.8" fill="#dc9c00"/><circle cx="330.5" cy="490.2" r="1.8" fill="#dc9c00"/><circle cx="317.4" cy="490.2" r="1.8" fill="#dc9c00"/><circle cx="369" cy="479.3" r="1.8" fill="#dc9c00"/><circle cx="356.7" cy="490.2" r="1.8" fill="#dc9c00"/><circle cx="317.8" cy="479.3" r="1.8" fill="#dc9c00"/><circle cx="369.8" cy="490.2" r="1.8" fill="#dc9c00"/><circle cx="304.2" cy="490.2" r="1.8" fill="#dc9c00"/><circle cx="311.1" cy="475" r="1.8" fill="#dc9c00"/><circle cx="362.5" cy="475" r="1.8" fill="#dc9c00"/><circle cx="305" cy="479.3" r="1.8" fill="#dc9c00"/>
<path d="M633,425L647.3,421.7L645.6,430.1L631.6,432.8z" fill="#dedede"/><path d="M633,425L647,421.7L639.6,425.8z" fill="#ececec"/><path d="M633,425L639.6,425.8L631.6,432.8z" fill="#cdcdcd"/><path d="M631.6,432.8L639.6,425.8L645.3,430.1z" fill="#a4a4a4"/><path d="M647,421.7L661.3,418.4L659.4,427.4L645.3,430.1z" fill="#bce4f6"/><path d="M647,421.7L661,418.5L653.5,422.7z" fill="#d2f0fc"/><path d="M647,421.7L653.5,422.7L645.3,430.1z" fill="#a8d8ee"/><path d="M645.3,430.1L653.5,422.7L659.1,427.5z" fill="#86b6ce"/><path d="M661,418.5L675.3,415.2L673.2,424.8L659.1,427.5z" fill="#bce4f6"/><path d="M661,418.5L675,415.2L667.4,419.6z" fill="#d2f0fc"/><path d="M661,418.5L667.4,419.6L659.1,427.5z" fill="#a8d8ee"/><path d="M659.1,427.5L667.4,419.6L672.9,424.8z" fill="#86b6ce"/><path d="M675,415.2L689.3,411.9L687,422.1L672.9,424.8z" fill="#bce4f6"/><path d="M675,415.2L689,412L681.3,416.6z" fill="#d2f0fc"/><path d="M675,415.2L681.3,416.6L672.9,424.8z" fill="#a8d8ee"/><path d="M672.9,424.8L681.3,416.6L686.7,422.2z" fill="#86b6ce"/><path d="M628,431L641.6,428.2L639.8,437.3L626.4,439.4z" fill="#dedede"/><path d="M628,431L641.3,428.3L634.2,432.3z" fill="#ececec"/><path d="M628,431L634.2,432.3L626.4,439.4z" fill="#cdcdcd"/><path d="M626.4,439.4L634.2,432.3L639.5,437.3z" fill="#a4a4a4"/><path d="M641.3,428.3L654.9,425.5L652.9,435.2L639.5,437.3z" fill="#f4aad4"/><path d="M641.3,428.3L654.6,425.5L647.4,429.7z" fill="#fab6dc"/><path d="M641.3,428.3L647.4,429.7L639.5,437.3z" fill="#e89cc8"/><path d="M639.5,437.3L647.4,429.7L652.6,435.3z" fill="#c886b0"/><path d="M654.6,425.5L668.2,422.7L665.9,433.1L652.6,435.3z" fill="#dedede"/><path d="M654.6,425.5L667.9,422.8L660.6,427.2z" fill="#ececec"/><path d="M654.6,425.5L660.6,427.2L652.6,435.3z" fill="#cdcdcd"/><path d="M652.6,435.3L660.6,427.2L665.6,433.2z" fill="#a4a4a4"/><path d="M667.9,422.8L681.5,420L679,431L665.6,433.2z" fill="#f4aad4"/><path d="M667.9,422.8L681.2,420.1L673.8,424.6z" fill="#fab6dc"/><path d="M667.9,422.8L673.8,424.6L665.6,433.2z" fill="#e89cc8"/><path d="M665.6,433.2L673.8,424.6L678.7,431.1z" fill="#c886b0"/><path d="M681.2,420.1L694.8,417.3L692,429L678.7,431.1z" fill="#dedede"/><path d="M681.2,420.1L694.5,417.3L687.1,422.1z" fill="#ececec"/><path d="M681.2,420.1L687.1,422.1L678.7,431.1z" fill="#cdcdcd"/><path d="M678.7,431.1L687.1,422.1L691.7,429z" fill="#a4a4a4"/><path d="M623.1,436.8L636.2,434.4L634.3,444.2L621.4,445.8z" fill="#bce4f6"/><path d="M623.1,436.8L635.9,434.5L628.9,438.4z" fill="#d2f0fc"/><path d="M623.1,436.8L628.9,438.4L621.4,445.8z" fill="#a8d8ee"/><path d="M621.4,445.8L628.9,438.4L634,444.2z" fill="#86b6ce"/><path d="M635.9,434.5L649,432.2L646.8,442.6L634,444.2z" fill="#dedede"/><path d="M635.9,434.5L648.7,432.2L641.7,436.4z" fill="#ececec"/><path d="M635.9,434.5L641.7,436.4L634,444.2z" fill="#cdcdcd"/><path d="M634,444.2L641.7,436.4L646.5,442.6z" fill="#a4a4a4"/><path d="M648.7,432.2L661.8,429.9L659.3,441L646.5,442.6z" fill="#dedede"/><path d="M648.7,432.2L661.5,429.9L654.4,434.3z" fill="#ececec"/><path d="M648.7,432.2L654.4,434.3L646.5,442.6z" fill="#cdcdcd"/><path d="M646.5,442.6L654.4,434.3L659,441.1z" fill="#a4a4a4"/><path d="M661.5,429.9L674.5,427.6L671.9,439.4L659,441.1z" fill="#dedede"/><path d="M661.5,429.9L674.2,427.6L667.1,432.2z" fill="#ececec"/><path d="M661.5,429.9L667.1,432.2L659,441.1z" fill="#cdcdcd"/><path d="M659,441.1L667.1,432.2L671.6,439.5z" fill="#a4a4a4"/><path d="M674.2,427.6L687.3,425.3L684.4,437.9L671.6,439.5z" fill="#dedede"/><path d="M674.2,427.6L687,425.4L679.8,430.2z" fill="#ececec"/><path d="M674.2,427.6L679.8,430.2L671.6,439.5z" fill="#cdcdcd"/><path d="M671.6,439.5L679.8,430.2L684.1,437.9z" fill="#a4a4a4"/><path d="M687,425.4L700.1,423L697,436.3L684.1,437.9z" fill="#dedede"/><path d="M687,425.4L699.8,423.1L692.5,428.1z" fill="#ececec"/><path d="M687,425.4L692.5,428.1L684.1,437.9z" fill="#cdcdcd"/><path d="M684.1,437.9L692.5,428.1L696.7,436.3z" fill="#a4a4a4"/><path d="M618.2,442.3L630.9,440.4L628.9,450.8L616.5,451.9z" fill="#bce4f6"/><path d="M618.2,442.3L630.6,440.4L623.9,444.4z" fill="#d2f0fc"/><path d="M618.2,442.3L623.9,444.4L616.5,451.9z" fill="#a8d8ee"/><path d="M616.5,451.9L623.9,444.4L628.6,450.8z" fill="#86b6ce"/><path d="M630.6,440.4L643.3,438.5L641.1,449.7L628.6,450.8z" fill="#dedede"/><path d="M630.6,440.4L643,438.6L636.2,442.7z" fill="#ececec"/><path d="M630.6,440.4L636.2,442.7L628.6,450.8z" fill="#cdcdcd"/><path d="M628.6,450.8L636.2,442.7L640.8,449.7z" fill="#a4a4a4"/><path d="M643,438.6L655.7,436.7L653.2,448.5L640.8,449.7z" fill="#dedede"/><path d="M643,438.6L655.4,436.7L648.5,441.1z" fill="#ececec"/><path d="M643,438.6L648.5,441.1L640.8,449.7z" fill="#cdcdcd"/><path d="M640.8,449.7L648.5,441.1L652.9,448.6z" fill="#a4a4a4"/><path d="M655.4,436.7L668.1,434.8L665.3,447.4L652.9,448.6z" fill="#dedede"/><path d="M655.4,436.7L667.8,434.8L660.8,439.5z" fill="#ececec"/><path d="M655.4,436.7L660.8,439.5L652.9,448.6z" fill="#cdcdcd"/><path d="M652.9,448.6L660.8,439.5L665,447.5z" fill="#a4a4a4"/><path d="M667.8,434.8L680.5,432.9L677.4,446.3L665,447.5z" fill="#dedede"/><path d="M667.8,434.8L680.2,433L673.1,437.8z" fill="#ececec"/><path d="M667.8,434.8L673.1,437.8L665,447.5z" fill="#cdcdcd"/><path d="M665,447.5L673.1,437.8L677.1,446.3z" fill="#a4a4a4"/><path d="M680.2,433L692.9,431.1L689.6,445.2L677.1,446.3z" fill="#dedede"/><path d="M680.2,433L692.6,431.1L685.4,436.2z" fill="#ececec"/><path d="M680.2,433L685.4,436.2L677.1,446.3z" fill="#cdcdcd"/><path d="M677.1,446.3L685.4,436.2L689.3,445.2z" fill="#a4a4a4"/><path d="M692.6,431.1L705.3,429.2L701.7,444.1L689.3,445.2z" fill="#f4aad4"/><path d="M692.6,431.1L705,429.3L697.8,434.5z" fill="#fab6dc"/><path d="M692.6,431.1L697.8,434.5L689.3,445.2z" fill="#e89cc8"/><path d="M689.3,445.2L697.8,434.5L701.4,444.1z" fill="#c886b0"/><path d="M621.3,446.6L633.4,445.2L631,457.5L619.2,458.2z" fill="#dedede"/><path d="M621.3,446.6L633.1,445.2L626.5,449.5z" fill="#ececec"/><path d="M621.3,446.6L626.5,449.5L619.2,458.2z" fill="#cdcdcd"/><path d="M619.2,458.2L626.5,449.5L630.7,457.6z" fill="#a4a4a4"/><path d="M633.1,445.2L645.3,443.7L642.6,456.9L630.7,457.6z" fill="#f4aad4"/><path d="M633.1,445.2L645,443.8L638.3,448.3z" fill="#fab6dc"/><path d="M633.1,445.2L638.3,448.3L630.7,457.6z" fill="#e89cc8"/><path d="M630.7,457.6L638.3,448.3L642.3,457z" fill="#c886b0"/><path d="M645,443.8L657.2,442.3L654.1,456.3L642.3,457z" fill="#dedede"/><path d="M645,443.8L656.9,442.3L650.1,447.1z" fill="#ececec"/><path d="M645,443.8L650.1,447.1L642.3,457z" fill="#cdcdcd"/><path d="M642.3,457L650.1,447.1L653.8,456.3z" fill="#a4a4a4"/><path d="M656.9,442.3L669,440.8L665.7,455.7L653.9,456.4z" fill="#f4aad4"/><path d="M656.9,442.3L668.7,440.9L661.9,445.9z" fill="#fab6dc"/><path d="M656.9,442.3L661.9,445.9L653.9,456.4z" fill="#e89cc8"/><path d="M653.9,456.4L661.9,445.9L665.4,455.7z" fill="#c886b0"/><path d="M668.7,440.9L680.9,439.4L677.3,455.1L665.4,455.7z" fill="#dedede"/><path d="M668.7,440.9L680.6,439.4L673.6,444.7z" fill="#ececec"/><path d="M668.7,440.9L673.6,444.7L665.4,455.7z" fill="#cdcdcd"/><path d="M665.4,455.7L673.6,444.7L677,455.1z" fill="#a4a4a4"/><path d="M680.6,439.4L692.8,438L688.8,454.5L677,455.1z" fill="#dedede"/><path d="M680.6,439.4L692.5,438L685.4,443.5z" fill="#ececec"/><path d="M680.6,439.4L685.4,443.5L677,455.1z" fill="#cdcdcd"/><path d="M677,455.1L685.4,443.5L688.5,454.5z" fill="#a4a4a4"/><circle cx="639.6" cy="425.8" r="1.8" fill="#dc9c00"/><circle cx="641.7" cy="436.4" r="1.8" fill="#dc9c00"/><circle cx="661.9" cy="445.9" r="1.8" fill="#dc9c00"/><circle cx="654.4" cy="434.3" r="1.8" fill="#dc9c00"/><circle cx="636.2" cy="442.7" r="1.8" fill="#dc9c00"/><circle cx="692.5" cy="428.1" r="1.8" fill="#dc9c00"/><circle cx="628.9" cy="438.4" r="1.8" fill="#dc9c00"/><circle cx="638.3" cy="448.3" r="1.8" fill="#dc9c00"/><circle cx="679.8" cy="430.2" r="1.8" fill="#dc9c00"/><circle cx="634.2" cy="432.3" r="1.8" fill="#dc9c00"/><circle cx="685.4" cy="436.2" r="1.8" fill="#dc9c00"/><circle cx="687.1" cy="422.1" r="1.8" fill="#dc9c00"/><circle cx="673.1" cy="437.8" r="1.8" fill="#dc9c00"/><circle cx="685.4" cy="443.5" r="1.8" fill="#dc9c00"/><circle cx="648.5" cy="441.1" r="1.8" fill="#dc9c00"/><circle cx="667.1" cy="432.2" r="1.8" fill="#dc9c00"/><circle cx="650.1" cy="447.1" r="1.8" fill="#dc9c00"/><circle cx="681.3" cy="416.6" r="1.8" fill="#dc9c00"/><circle cx="626.5" cy="449.5" r="1.8" fill="#dc9c00"/><circle cx="660.8" cy="439.5" r="1.8" fill="#dc9c00"/><circle cx="673.6" cy="444.7" r="1.8" fill="#dc9c00"/><circle cx="660.6" cy="427.2" r="1.8" fill="#dc9c00"/><circle cx="667.4" cy="419.6" r="1.8" fill="#dc9c00"/><circle cx="673.8" cy="424.6" r="1.8" fill="#dc9c00"/><circle cx="623.9" cy="444.4" r="1.8" fill="#dc9c00"/><circle cx="653.5" cy="422.7" r="1.8" fill="#dc9c00"/><circle cx="697.8" cy="434.5" r="1.8" fill="#dc9c00"/><circle cx="647.4" cy="429.7" r="1.8" fill="#dc9c00"/>
<path d="M638.5,465.6L651.7,465.6L651.7,471.2L638.5,471.2z" fill="#dedede"/><path d="M638.5,465.6L651.4,465.6L644.9,467.3z" fill="#ececec"/><path d="M638.5,465.6L644.9,467.3L638.5,471.2z" fill="#cdcdcd"/><path d="M638.5,471.2L644.9,467.3L651.4,471.2z" fill="#a4a4a4"/><path d="M651.4,465.6L664.6,465.6L664.6,471.2L651.4,471.2z" fill="#bce4f6"/><path d="M651.4,465.6L664.4,465.6L657.9,467.3z" fill="#d2f0fc"/><path d="M651.4,465.6L657.9,467.3L651.4,471.2z" fill="#a8d8ee"/><path d="M651.4,471.2L657.9,467.3L664.4,471.2z" fill="#86b6ce"/><path d="M664.4,465.6L677.6,465.6L677.6,471.2L664.4,471.2z" fill="#dedede"/><path d="M664.4,465.6L677.3,465.6L670.8,467.3z" fill="#ececec"/><path d="M664.4,465.6L670.8,467.3L664.4,471.2z" fill="#cdcdcd"/><path d="M664.4,471.2L670.8,467.3L677.3,471.2z" fill="#a4a4a4"/><path d="M677.3,465.6L690.5,465.6L690.5,471.2L677.3,471.2z" fill="#dedede"/><path d="M677.3,465.6L690.2,465.6L683.8,467.3z" fill="#ececec"/><path d="M677.3,465.6L683.8,467.3L677.3,471.2z" fill="#cdcdcd"/><path d="M677.3,471.2L683.8,467.3L690.2,471.2z" fill="#a4a4a4"/><path d="M632.4,470L645.5,470L645.5,475.6L632.4,475.6z" fill="#f4aad4"/><path d="M632.4,470L645.3,470L638.8,471.7z" fill="#fab6dc"/><path d="M632.4,470L638.8,471.7L632.4,475.6z" fill="#e89cc8"/><path d="M632.4,475.6L638.8,471.7L645.3,475.6z" fill="#c886b0"/><path d="M645.3,470L658.4,470L658.4,475.6L645.3,475.6z" fill="#f4aad4"/><path d="M645.3,470L658.1,470L651.7,471.7z" fill="#fab6dc"/><path d="M645.3,470L651.7,471.7L645.3,475.6z" fill="#e89cc8"/><path d="M645.3,475.6L651.7,471.7L658.1,475.6z" fill="#c886b0"/><path d="M658.1,470L671.3,470L671.3,475.6L658.1,475.6z" fill="#dedede"/><path d="M658.1,470L671,470L664.6,471.7z" fill="#ececec"/><path d="M658.1,470L664.6,471.7L658.1,475.6z" fill="#cdcdcd"/><path d="M658.1,475.6L664.6,471.7L671,475.6z" fill="#a4a4a4"/><path d="M671,470L684.2,470L684.2,475.6L671,475.6z" fill="#dedede"/><path d="M671,470L683.9,470L677.5,471.7z" fill="#ececec"/><path d="M671,470L677.5,471.7L671,475.6z" fill="#cdcdcd"/><path d="M671,475.6L677.5,471.7L683.9,475.6z" fill="#a4a4a4"/><path d="M683.9,470L697.1,470L697.1,475.6L683.9,475.6z" fill="#bce4f6"/><path d="M683.9,470L696.8,470L690.4,471.7z" fill="#d2f0fc"/><path d="M683.9,470L690.4,471.7L683.9,475.6z" fill="#a8d8ee"/><path d="M683.9,475.6L690.4,471.7L696.8,475.6z" fill="#86b6ce"/><path d="M626.2,474.5L639.4,474.5L639.4,480.6L626.2,480.6z" fill="#dedede"/><path d="M626.2,474.5L639.1,474.5L632.7,476.3z" fill="#ececec"/><path d="M626.2,474.5L632.7,476.3L626.2,480.6z" fill="#cdcdcd"/><path d="M626.2,480.6L632.7,476.3L639.1,480.6z" fill="#a4a4a4"/><path d="M639.1,474.5L652.3,474.5L652.3,480.6L639.1,480.6z" fill="#bce4f6"/><path d="M639.1,474.5L652,474.5L645.5,476.3z" fill="#d2f0fc"/><path d="M639.1,474.5L645.5,476.3L639.1,480.6z" fill="#a8d8ee"/><path d="M639.1,480.6L645.5,476.3L652,480.6z" fill="#86b6ce"/><path d="M652,474.5L665.1,474.5L665.1,480.6L652,480.6z" fill="#dedede"/><path d="M652,474.5L664.8,474.5L658.4,476.3z" fill="#ececec"/><path d="M652,474.5L658.4,476.3L652,480.6z" fill="#cdcdcd"/><path d="M652,480.6L658.4,476.3L664.8,480.6z" fill="#a4a4a4"/><path d="M664.8,474.5L678,474.5L678,480.6L664.8,480.6z" fill="#dedede"/><path d="M664.8,474.5L677.7,474.5L671.3,476.3z" fill="#ececec"/><path d="M664.8,474.5L671.3,476.3L664.8,480.6z" fill="#cdcdcd"/><path d="M664.8,480.6L671.3,476.3L677.7,480.6z" fill="#a4a4a4"/><path d="M677.7,474.5L690.8,474.5L690.8,480.6L677.7,480.6z" fill="#bce4f6"/><path d="M677.7,474.5L690.6,474.5L684.1,476.3z" fill="#d2f0fc"/><path d="M677.7,474.5L684.1,476.3L677.7,480.6z" fill="#a8d8ee"/><path d="M677.7,480.6L684.1,476.3L690.6,480.6z" fill="#86b6ce"/><path d="M690.6,474.5L703.7,474.5L703.7,480.6L690.6,480.6z" fill="#dedede"/><path d="M690.6,474.5L703.4,474.5L697,476.3z" fill="#ececec"/><path d="M690.6,474.5L697,476.3L690.6,480.6z" fill="#cdcdcd"/><path d="M690.6,480.6L697,476.3L703.4,480.6z" fill="#a4a4a4"/><path d="M620.6,478.9L633.7,478.9L633.7,492.3L620.6,492.3z" fill="#f4aad4"/><path d="M620.6,478.9L633.4,478.9L627,482.9z" fill="#fab6dc"/><path d="M620.6,478.9L627,482.9L620.6,492.3z" fill="#e89cc8"/><path d="M620.6,492.3L627,482.9L633.4,492.3z" fill="#c886b0"/><path d="M633.4,478.9L646.4,478.9L646.4,492.3L633.4,492.3z" fill="#dedede"/><path d="M633.4,478.9L646.1,478.9L639.8,482.9z" fill="#ececec"/><path d="M633.4,478.9L639.8,482.9L633.4,492.3z" fill="#cdcdcd"/><path d="M633.4,492.3L639.8,482.9L646.1,492.3z" fill="#a4a4a4"/><path d="M646.1,478.9L659.2,478.9L659.2,492.3L646.1,492.3z" fill="#dedede"/><path d="M646.1,478.9L658.9,478.9L652.5,482.9z" fill="#ececec"/><path d="M646.1,478.9L652.5,482.9L646.1,492.3z" fill="#cdcdcd"/><path d="M646.1,492.3L652.5,482.9L658.9,492.3z" fill="#a4a4a4"/><path d="M658.9,478.9L672,478.9L672,492.3L658.9,492.3z" fill="#dedede"/><path d="M658.9,478.9L671.7,478.9L665.3,482.9z" fill="#ececec"/><path d="M658.9,478.9L665.3,482.9L658.9,492.3z" fill="#cdcdcd"/><path d="M658.9,492.3L665.3,482.9L671.7,492.3z" fill="#a4a4a4"/><path d="M671.7,478.9L684.7,478.9L684.7,492.3L671.7,492.3z" fill="#dedede"/><path d="M671.7,478.9L684.5,478.9L678.1,482.9z" fill="#ececec"/><path d="M671.7,478.9L678.1,482.9L671.7,492.3z" fill="#cdcdcd"/><path d="M671.7,492.3L678.1,482.9L684.5,492.3z" fill="#a4a4a4"/><path d="M684.5,478.9L697.5,478.9L697.5,492.3L684.5,492.3z" fill="#dedede"/><path d="M684.5,478.9L697.2,478.9L690.8,482.9z" fill="#ececec"/><path d="M684.5,478.9L690.8,482.9L684.5,492.3z" fill="#cdcdcd"/><path d="M684.5,492.3L690.8,482.9L697.2,492.3z" fill="#a4a4a4"/><path d="M697.2,478.9L710.3,478.9L710.3,492.3L697.2,492.3z" fill="#f4aad4"/><path d="M697.2,478.9L710,478.9L703.6,482.9z" fill="#fab6dc"/><path d="M697.2,478.9L703.6,482.9L697.2,492.3z" fill="#e89cc8"/><path d="M697.2,492.3L703.6,482.9L710,492.3z" fill="#c886b0"/><path d="M625.3,484.5L638.8,484.5L638.8,496.7L625.3,496.7z" fill="#dedede"/><path d="M625.3,484.5L638.5,484.5L631.9,488.1z" fill="#ececec"/><path d="M625.3,484.5L631.9,488.1L625.3,496.7z" fill="#cdcdcd"/><path d="M625.3,496.7L631.9,488.1L638.5,496.7z" fill="#a4a4a4"/><path d="M638.5,484.5L651.9,484.5L651.9,496.7L638.5,496.7z" fill="#dedede"/><path d="M638.5,484.5L651.7,484.5L645.1,488.1z" fill="#ececec"/><path d="M638.5,484.5L645.1,488.1L638.5,496.7z" fill="#cdcdcd"/><path d="M638.5,496.7L645.1,488.1L651.7,496.7z" fill="#a4a4a4"/><path d="M651.7,484.5L665.1,484.5L665.1,496.7L651.7,496.7z" fill="#dedede"/><path d="M651.7,484.5L664.8,484.5L658.2,488.1z" fill="#ececec"/><path d="M651.7,484.5L658.2,488.1L651.7,496.7z" fill="#cdcdcd"/><path d="M651.7,496.7L658.2,488.1L664.8,496.7z" fill="#a4a4a4"/><path d="M664.8,484.5L678.3,484.5L678.3,496.7L664.8,496.7z" fill="#bce4f6"/><path d="M664.8,484.5L678,484.5L671.4,488.1z" fill="#d2f0fc"/><path d="M664.8,484.5L671.4,488.1L664.8,496.7z" fill="#a8d8ee"/><path d="M664.8,496.7L671.4,488.1L678,496.7z" fill="#86b6ce"/><path d="M678,484.5L691.5,484.5L691.5,496.7L678,496.7z" fill="#dedede"/><path d="M678,484.5L691.2,484.5L684.6,488.1z" fill="#ececec"/><path d="M678,484.5L684.6,488.1L678,496.7z" fill="#cdcdcd"/><path d="M678,496.7L684.6,488.1L691.2,496.7z" fill="#a4a4a4"/><path d="M691.2,484.5L704.6,484.5L704.6,496.7L691.2,496.7z" fill="#dedede"/><path d="M691.2,484.5L704.4,484.5L697.8,488.1z" fill="#ececec"/><path d="M691.2,484.5L697.8,488.1L691.2,496.7z" fill="#cdcdcd"/><path d="M691.2,496.7L697.8,488.1L704.4,496.7z" fill="#a4a4a4"/><path d="M633.8,492.3L648.4,492.3L648.4,507.8L633.8,507.8z" fill="#dedede"/><path d="M633.8,492.3L648.1,492.3L641,496.9z" fill="#ececec"/><path d="M633.8,492.3L641,496.9L633.8,507.8z" fill="#cdcdcd"/><path d="M633.8,507.8L641,496.9L648.1,507.8z" fill="#a4a4a4"/><path d="M648.1,492.3L662.8,492.3L662.8,507.8L648.1,507.8z" fill="#f4aad4"/><path d="M648.1,492.3L662.5,492.3L655.3,496.9z" fill="#fab6dc"/><path d="M648.1,492.3L655.3,496.9L648.1,507.8z" fill="#e89cc8"/><path d="M648.1,507.8L655.3,496.9L662.5,507.8z" fill="#c886b0"/><path d="M662.5,492.3L677.1,492.3L677.1,507.8L662.5,507.8z" fill="#dedede"/><path d="M662.5,492.3L676.8,492.3L669.7,496.9z" fill="#ececec"/><path d="M662.5,492.3L669.7,496.9L662.5,507.8z" fill="#cdcdcd"/><path d="M662.5,507.8L669.7,496.9L676.8,507.8z" fill="#a4a4a4"/><path d="M676.8,492.3L691.5,492.3L691.5,507.8L676.8,507.8z" fill="#f4aad4"/><path d="M676.8,492.3L691.2,492.3L684,496.9z" fill="#fab6dc"/><path d="M676.8,492.3L684,496.9L676.8,507.8z" fill="#e89cc8"/><path d="M676.8,507.8L684,496.9L691.2,507.8z" fill="#c886b0"/><circle cx="684.6" cy="488.1" r="1.8" fill="#dc9c00"/><circle cx="670.8" cy="467.3" r="1.8" fill="#dc9c00"/><circle cx="690.8" cy="482.9" r="1.8" fill="#dc9c00"/><circle cx="683.8" cy="467.3" r="1.8" fill="#dc9c00"/><circle cx="627" cy="482.9" r="1.8" fill="#dc9c00"/><circle cx="665.3" cy="482.9" r="1.8" fill="#dc9c00"/><circle cx="677.5" cy="471.7" r="1.8" fill="#dc9c00"/><circle cx="664.6" cy="471.7" r="1.8" fill="#dc9c00"/><circle cx="641" cy="496.9" r="1.8" fill="#dc9c00"/><circle cx="658.2" cy="488.1" r="1.8" fill="#dc9c00"/><circle cx="703.6" cy="482.9" r="1.8" fill="#dc9c00"/><circle cx="697" cy="476.3" r="1.8" fill="#dc9c00"/><circle cx="638.8" cy="471.7" r="1.8" fill="#dc9c00"/><circle cx="644.9" cy="467.3" r="1.8" fill="#dc9c00"/><circle cx="697.8" cy="488.1" r="1.8" fill="#dc9c00"/><circle cx="678.1" cy="482.9" r="1.8" fill="#dc9c00"/><circle cx="684" cy="496.9" r="1.8" fill="#dc9c00"/><circle cx="631.9" cy="488.1" r="1.8" fill="#dc9c00"/><circle cx="651.7" cy="471.7" r="1.8" fill="#dc9c00"/><circle cx="671.3" cy="476.3" r="1.8" fill="#dc9c00"/><circle cx="671.4" cy="488.1" r="1.8" fill="#dc9c00"/><circle cx="645.1" cy="488.1" r="1.8" fill="#dc9c00"/><circle cx="632.7" cy="476.3" r="1.8" fill="#dc9c00"/><circle cx="639.8" cy="482.9" r="1.8" fill="#dc9c00"/><circle cx="690.4" cy="471.7" r="1.8" fill="#dc9c00"/><circle cx="669.7" cy="496.9" r="1.8" fill="#dc9c00"/><circle cx="655.3" cy="496.9" r="1.8" fill="#dc9c00"/><circle cx="652.5" cy="482.9" r="1.8" fill="#dc9c00"/>
<text x="88" y="301" font-family="Liberation Sans, sans-serif" font-weight="bold" font-size="7" fill="#404040">Mn<tspan font-size="4.5" dy="-2.5">2+</tspan></text>
<text x="107" y="309.5" font-family="Liberation Sans, sans-serif" font-weight="bold" font-size="7" fill="#303030">Mn<tspan font-size="4.5" dy="-2.5">3+</tspan></text>
<text x="98" y="352" font-family="Liberation Sans, sans-serif" font-weight="bold" font-size="7" fill="#303030">Mg<tspan font-size="4.5" dy="-2.5">2+</tspan></text>
<ellipse cx="132" cy="422.5" rx="7.5" ry="9.4" fill="#d4e4a0" stroke="#f040d0" stroke-width="0.9"/>
<text x="132.5" y="426" font-family="Liberation Sans, sans-serif" font-weight="bold" font-size="7.5" fill="#222" text-anchor="middle">Cd</text>
<text x="313" y="481.5" font-family="Liberation Sans, sans-serif" font-weight="bold" font-size="10.3" fill="#111" stroke="#111" stroke-width="0.3">(expand)</text>
<line x1="309.8" y1="474" x2="309.8" y2="485" stroke="#111" stroke-width="1.2"/><path d="M307.6,484.5 L312,484.5 L309.8,488z" fill="#111"/><line x1="302.6" y1="489.6" x2="318" y2="489.6" stroke="#111" stroke-width="1"/>
<ellipse cx="503" cy="292.7" rx="6.1" ry="9.5" fill="none" stroke="#8a38c8" stroke-width="1.2" stroke-dasharray="1.2,0.6"/>
<path d="M277,301.5 A12.5,12.5 0 0,0 281,326.5" fill="none" stroke="#3a8a3a" stroke-width="0.9" stroke-dasharray="2,1"/>
<text transform="translate(263.3,262.6) scale(0.875,1)" x="0" y="0" font-family="Liberation Sans, sans-serif" font-weight="bold" font-size="11.7" fill="#dc0c0c" stroke="#dc0c0c" stroke-width="0.35">(metastable state)</text>
<text transform="translate(438.5,262.6) scale(0.875,1)" x="0" y="0" font-family="Liberation Sans, sans-serif" font-weight="bold" font-size="11.7" fill="#dc0c0c" stroke="#dc0c0c" stroke-width="0.35">(metastable state)</text>
<text transform="translate(37.4,531.5) scale(0.875,1)" x="0" y="0" font-family="Liberation Sans, sans-serif" font-weight="bold" font-size="11.7" fill="#dc0c0c" stroke="#dc0c0c" stroke-width="0.35">(Superstable mineralized state)</text>
<text transform="translate(308.6,531.5) scale(0.875,1)" x="0" y="0" font-family="Liberation Sans, sans-serif" font-weight="bold" font-size="11.7" fill="#dc0c0c" stroke="#dc0c0c" stroke-width="0.35">(Steady state)</text>
<circle cx="92.8" cy="386.5" r="1.3" fill="#e01414"/><circle cx="97.6" cy="388.8" r="1.3" fill="#e01414"/><circle cx="95" cy="388" r="1.6" fill="#9a70c8"/>
<circle cx="144.8" cy="392.0" r="1.3" fill="#e01414"/><circle cx="149.6" cy="394.3" r="1.3" fill="#e01414"/><circle cx="147" cy="393.5" r="1.6" fill="#9a70c8"/>
<circle cx="113.3" cy="439.2" r="1.3" fill="#e01414"/><circle cx="118.1" cy="441.5" r="1.3" fill="#e01414"/><circle cx="115.5" cy="440.7" r="1.6" fill="#9a70c8"/>
<circle cx="91.8" cy="444.5" r="1.3" fill="#e01414"/><circle cx="96.6" cy="446.8" r="1.3" fill="#e01414"/><circle cx="94" cy="446" r="1.6" fill="#9a70c8"/>
<circle cx="134.8" cy="453.1" r="1.3" fill="#e01414"/><circle cx="139.6" cy="455.40000000000003" r="1.3" fill="#e01414"/><circle cx="137" cy="454.6" r="1.6" fill="#9a70c8"/>
<circle cx="319.8" cy="389.2" r="1.3" fill="#e01414"/><circle cx="324.6" cy="391.5" r="1.3" fill="#e01414"/><circle cx="322" cy="390.7" r="1.6" fill="#9a70c8"/>
<circle cx="368.8" cy="400.4" r="1.3" fill="#e01414"/><circle cx="373.6" cy="402.7" r="1.3" fill="#e01414"/><circle cx="371" cy="401.9" r="1.6" fill="#9a70c8"/>
<circle cx="338.3" cy="443.5" r="1.3" fill="#e01414"/><circle cx="343.1" cy="445.8" r="1.3" fill="#e01414"/><circle cx="340.5" cy="445" r="1.6" fill="#9a70c8"/>
<circle cx="318.0" cy="449.4" r="1.3" fill="#e01414"/><circle cx="322.8" cy="451.7" r="1.3" fill="#e01414"/><circle cx="320.2" cy="450.9" r="1.6" fill="#9a70c8"/>
<circle cx="358.8" cy="456.8" r="1.3" fill="#e01414"/><circle cx="363.6" cy="459.1" r="1.3" fill="#e01414"/><circle cx="361" cy="458.3" r="1.6" fill="#9a70c8"/>
<circle cx="154.4" cy="388.9" r="0.9" fill="#20c020"/>
<circle cx="100.7" cy="454.6" r="0.9" fill="#20c020"/>
<circle cx="144" cy="463" r="0.9" fill="#e020e0"/>
<circle cx="324" cy="381" r="0.9" fill="#20c020"/>
<circle cx="379" cy="396" r="0.9" fill="#e020e0"/>
<circle cx="328" cy="458" r="0.9" fill="#20c020"/>
<circle cx="348" cy="452" r="0.9" fill="#20c020"/>
<line x1="8" y1="13.5" x2="725" y2="13.5" stroke="#cc0000" stroke-width="3" stroke-dasharray="13 0.7 9 0.7 17 0.7 6 0.7 21 0.7 11 0.7 15 0.7"/>
<line x1="8" y1="535.5" x2="725" y2="535.5" stroke="#cc0000" stroke-width="3" stroke-dasharray="13 0.7 9 0.7 17 0.7 6 0.7 21 0.7 11 0.7 15 0.7" stroke-dashoffset="7"/>
<line x1="9.5" y1="12" x2="9.5" y2="537" stroke="#cc0000" stroke-width="3" stroke-dasharray="13 0.7 9 0.7 17 0.7 6 0.7 21 0.7 11 0.7 15 0.7" stroke-dashoffset="3"/>
<line x1="723.5" y1="12" x2="723.5" y2="537" stroke="#cc0000" stroke-width="3" stroke-dasharray="13 0.7 9 0.7 17 0.7 6 0.7 21 0.7 11 0.7 15 0.7" stroke-dashoffset="11"/></svg></body></html>
